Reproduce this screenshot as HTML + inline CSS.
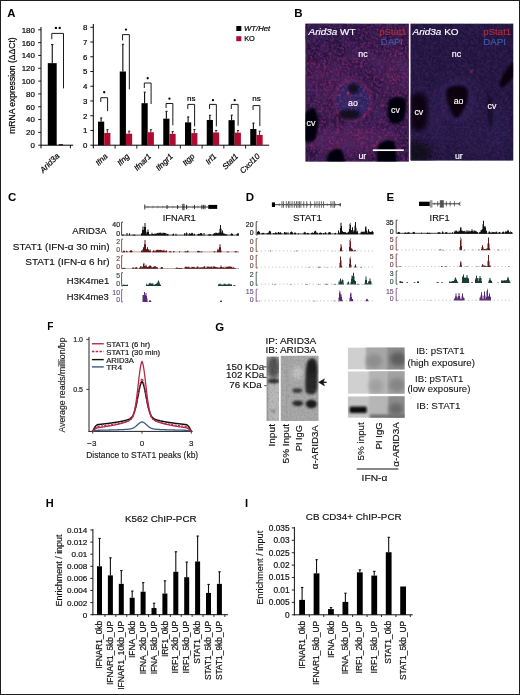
<!DOCTYPE html>
<html><head><meta charset="utf-8"><style>
html,body{margin:0;padding:0;background:#fff;width:520px;height:695px;overflow:hidden;font-family:"Liberation Sans",sans-serif;}
#fig{position:relative;width:520px;height:695px;overflow:hidden;box-sizing:border-box;border:1px solid #1e1e1e;background:#fff;}
#fig svg{position:absolute;left:-1px;top:-1px;filter:blur(0.4px);}
</style></head><body><div id="fig">
<svg width="520" height="695" viewBox="0 0 520 695" font-family="'Liberation Sans', sans-serif">
<text x="7.20" y="16.80" font-size="11.4" text-anchor="start" fill="#000" font-weight="bold">A</text>
<line x1="41.00" y1="27.00" x2="41.00" y2="148.40" stroke="#000" stroke-width="1" />
<line x1="41.00" y1="145.20" x2="73.20" y2="145.20" stroke="#000" stroke-width="1" />
<line x1="38.20" y1="145.20" x2="41.00" y2="145.20" stroke="#000" stroke-width="0.9" />
<text x="34.90" y="148.10" font-size="7.9" text-anchor="end" fill="#000"  stroke="#000" stroke-width="0.2">0</text>
<line x1="38.20" y1="132.38" x2="41.00" y2="132.38" stroke="#000" stroke-width="0.9" />
<text x="34.90" y="135.28" font-size="7.9" text-anchor="end" fill="#000"  stroke="#000" stroke-width="0.2">20</text>
<line x1="38.20" y1="119.56" x2="41.00" y2="119.56" stroke="#000" stroke-width="0.9" />
<text x="34.90" y="122.46" font-size="7.9" text-anchor="end" fill="#000"  stroke="#000" stroke-width="0.2">40</text>
<line x1="38.20" y1="106.74" x2="41.00" y2="106.74" stroke="#000" stroke-width="0.9" />
<text x="34.90" y="109.64" font-size="7.9" text-anchor="end" fill="#000"  stroke="#000" stroke-width="0.2">60</text>
<line x1="38.20" y1="93.92" x2="41.00" y2="93.92" stroke="#000" stroke-width="0.9" />
<text x="34.90" y="96.82" font-size="7.9" text-anchor="end" fill="#000"  stroke="#000" stroke-width="0.2">80</text>
<line x1="38.20" y1="81.10" x2="41.00" y2="81.10" stroke="#000" stroke-width="0.9" />
<text x="34.90" y="84.00" font-size="7.9" text-anchor="end" fill="#000"  stroke="#000" stroke-width="0.2">100</text>
<line x1="38.20" y1="68.28" x2="41.00" y2="68.28" stroke="#000" stroke-width="0.9" />
<text x="34.90" y="71.18" font-size="7.9" text-anchor="end" fill="#000"  stroke="#000" stroke-width="0.2">120</text>
<line x1="38.20" y1="55.46" x2="41.00" y2="55.46" stroke="#000" stroke-width="0.9" />
<text x="34.90" y="58.36" font-size="7.9" text-anchor="end" fill="#000"  stroke="#000" stroke-width="0.2">140</text>
<line x1="38.20" y1="42.64" x2="41.00" y2="42.64" stroke="#000" stroke-width="0.9" />
<text x="34.90" y="45.54" font-size="7.9" text-anchor="end" fill="#000"  stroke="#000" stroke-width="0.2">160</text>
<line x1="38.20" y1="29.82" x2="41.00" y2="29.82" stroke="#000" stroke-width="0.9" />
<text x="34.90" y="32.72" font-size="7.9" text-anchor="end" fill="#000"  stroke="#000" stroke-width="0.2">180</text>
<line x1="70.40" y1="145.20" x2="70.40" y2="148.40" stroke="#000" stroke-width="0.9" />
<rect x="47.80" y="63.15" width="8.90" height="82.05" fill="#000" />
<line x1="52.25" y1="63.15" x2="52.25" y2="44.56" stroke="#000" stroke-width="1.05" />
<line x1="51.10" y1="44.56" x2="53.50" y2="44.56" stroke="#000" stroke-width="0.9" />
<rect x="58.7" y="144.1" width="4.4" height="1.3" rx="0.6" fill="#3a1a1e"/>
<path d="M51.8 39.2 V33.4 H63.5 V88.4" fill="none" stroke="#000" stroke-width="0.9"/>
<circle cx="55.9" cy="27.9" r="1.2" fill="#000"/><circle cx="59.7" cy="27.9" r="1.2" fill="#000"/>
<text transform="translate(59.9,156.6) rotate(-45)" font-size="8.2" font-style="italic" text-anchor="end" stroke="#000" stroke-width="0.2">Arid3a</text>
<text transform="translate(15.4,85.6) rotate(-90)" font-size="8.2" text-anchor="middle" textLength="96.5" lengthAdjust="spacingAndGlyphs" stroke="#000" stroke-width="0.2">mRNA expression (ΔΔCt)</text>
<line x1="93.30" y1="24.00" x2="93.30" y2="148.40" stroke="#000" stroke-width="1" />
<line x1="93.30" y1="145.20" x2="269.20" y2="145.20" stroke="#000" stroke-width="1" />
<line x1="90.30" y1="145.20" x2="93.30" y2="145.20" stroke="#000" stroke-width="0.9" />
<text x="87.40" y="148.10" font-size="7.9" text-anchor="end" fill="#000"  stroke="#000" stroke-width="0.2">0</text>
<line x1="90.30" y1="130.46" x2="93.30" y2="130.46" stroke="#000" stroke-width="0.9" />
<text x="87.40" y="133.36" font-size="7.9" text-anchor="end" fill="#000"  stroke="#000" stroke-width="0.2">1</text>
<line x1="90.30" y1="115.72" x2="93.30" y2="115.72" stroke="#000" stroke-width="0.9" />
<text x="87.40" y="118.62" font-size="7.9" text-anchor="end" fill="#000"  stroke="#000" stroke-width="0.2">2</text>
<line x1="90.30" y1="100.98" x2="93.30" y2="100.98" stroke="#000" stroke-width="0.9" />
<text x="87.40" y="103.88" font-size="7.9" text-anchor="end" fill="#000"  stroke="#000" stroke-width="0.2">3</text>
<line x1="90.30" y1="86.24" x2="93.30" y2="86.24" stroke="#000" stroke-width="0.9" />
<text x="87.40" y="89.14" font-size="7.9" text-anchor="end" fill="#000"  stroke="#000" stroke-width="0.2">4</text>
<line x1="90.30" y1="71.50" x2="93.30" y2="71.50" stroke="#000" stroke-width="0.9" />
<text x="87.40" y="74.40" font-size="7.9" text-anchor="end" fill="#000"  stroke="#000" stroke-width="0.2">5</text>
<line x1="90.30" y1="56.76" x2="93.30" y2="56.76" stroke="#000" stroke-width="0.9" />
<text x="87.40" y="59.66" font-size="7.9" text-anchor="end" fill="#000"  stroke="#000" stroke-width="0.2">6</text>
<line x1="90.30" y1="42.02" x2="93.30" y2="42.02" stroke="#000" stroke-width="0.9" />
<text x="87.40" y="44.92" font-size="7.9" text-anchor="end" fill="#000"  stroke="#000" stroke-width="0.2">7</text>
<line x1="90.30" y1="27.28" x2="93.30" y2="27.28" stroke="#000" stroke-width="0.9" />
<text x="87.40" y="30.18" font-size="7.9" text-anchor="end" fill="#000"  stroke="#000" stroke-width="0.2">8</text>
<rect x="98.00" y="121.62" width="6.20" height="23.58" fill="#000" />
<rect x="104.20" y="132.97" width="6.20" height="12.23" fill="#b00a2e" />
<line x1="101.10" y1="121.62" x2="101.10" y2="117.93" stroke="#000" stroke-width="1.05" />
<line x1="100.20" y1="117.93" x2="102.40" y2="117.93" stroke="#000" stroke-width="0.9" />
<line x1="107.30" y1="132.97" x2="107.30" y2="129.72" stroke="#300" stroke-width="0.9" />
<line x1="106.40" y1="129.72" x2="108.60" y2="129.72" stroke="#300" stroke-width="0.9" />
<path d="M100.80 102 V97.7 H107.60 V111.2" fill="none" stroke="#000" stroke-width="0.9"/>
<circle cx="104.20" cy="92.25" r="1.15" fill="#000"/>
<line x1="115.10" y1="145.20" x2="115.10" y2="148.60" stroke="#000" stroke-width="0.9" />
<text transform="translate(108.10,156.8) rotate(-45)" font-size="8.0" font-style="italic" text-anchor="end" stroke="#000" stroke-width="0.2">Ifna</text>
<rect x="119.75" y="71.50" width="6.20" height="73.70" fill="#000" />
<rect x="125.95" y="133.70" width="6.20" height="11.50" fill="#b00a2e" />
<line x1="122.85" y1="71.50" x2="122.85" y2="44.23" stroke="#000" stroke-width="1.05" />
<line x1="121.95" y1="44.23" x2="124.15" y2="44.23" stroke="#000" stroke-width="0.9" />
<line x1="129.05" y1="133.70" x2="129.05" y2="131.20" stroke="#300" stroke-width="0.9" />
<line x1="128.15" y1="131.20" x2="130.35" y2="131.20" stroke="#300" stroke-width="0.9" />
<path d="M122.55 40.4 V34.6 H129.35 V89.4" fill="none" stroke="#000" stroke-width="0.9"/>
<circle cx="125.95" cy="29.55" r="1.15" fill="#000"/>
<line x1="136.85" y1="145.20" x2="136.85" y2="148.60" stroke="#000" stroke-width="0.9" />
<text transform="translate(129.85,156.8) rotate(-45)" font-size="8.0" font-style="italic" text-anchor="end" stroke="#000" stroke-width="0.2">Ifng</text>
<rect x="141.50" y="103.19" width="6.20" height="42.01" fill="#000" />
<rect x="147.70" y="132.23" width="6.20" height="12.97" fill="#b00a2e" />
<line x1="144.60" y1="103.19" x2="144.60" y2="92.14" stroke="#000" stroke-width="1.05" />
<line x1="143.70" y1="92.14" x2="145.90" y2="92.14" stroke="#000" stroke-width="0.9" />
<line x1="150.80" y1="132.23" x2="150.80" y2="129.72" stroke="#300" stroke-width="0.9" />
<line x1="149.90" y1="129.72" x2="152.10" y2="129.72" stroke="#300" stroke-width="0.9" />
<path d="M144.30 88 V83 H151.10 V104" fill="none" stroke="#000" stroke-width="0.9"/>
<circle cx="147.70" cy="78.25" r="1.15" fill="#000"/>
<line x1="158.60" y1="145.20" x2="158.60" y2="148.60" stroke="#000" stroke-width="0.9" />
<text transform="translate(151.60,156.8) rotate(-45)" font-size="8.0" font-style="italic" text-anchor="end" stroke="#000" stroke-width="0.2">Ifnar1</text>
<rect x="163.25" y="118.67" width="6.20" height="26.53" fill="#000" />
<rect x="169.45" y="133.85" width="6.20" height="11.35" fill="#b00a2e" />
<line x1="166.35" y1="118.67" x2="166.35" y2="111.30" stroke="#000" stroke-width="1.05" />
<line x1="165.45" y1="111.30" x2="167.65" y2="111.30" stroke="#000" stroke-width="0.9" />
<line x1="172.55" y1="133.85" x2="172.55" y2="131.64" stroke="#300" stroke-width="0.9" />
<line x1="171.65" y1="131.64" x2="173.85" y2="131.64" stroke="#300" stroke-width="0.9" />
<path d="M166.05 108 V103.5 H172.85 V125.3" fill="none" stroke="#000" stroke-width="0.9"/>
<circle cx="169.45" cy="98.65" r="1.15" fill="#000"/>
<line x1="180.35" y1="145.20" x2="180.35" y2="148.60" stroke="#000" stroke-width="0.9" />
<text transform="translate(173.35,156.8) rotate(-45)" font-size="8.0" font-style="italic" text-anchor="end" stroke="#000" stroke-width="0.2">Ifngr1</text>
<rect x="185.00" y="122.35" width="6.20" height="22.85" fill="#000" />
<rect x="191.20" y="133.11" width="6.20" height="12.09" fill="#b00a2e" />
<line x1="188.10" y1="122.35" x2="188.10" y2="116.90" stroke="#000" stroke-width="1.05" />
<line x1="187.20" y1="116.90" x2="189.40" y2="116.90" stroke="#000" stroke-width="0.9" />
<line x1="194.30" y1="133.11" x2="194.30" y2="129.58" stroke="#300" stroke-width="0.9" />
<line x1="193.40" y1="129.58" x2="195.60" y2="129.58" stroke="#300" stroke-width="0.9" />
<path d="M187.80 109 V104.4 H194.60 V126.3" fill="none" stroke="#000" stroke-width="0.9"/>
<text x="191.20" y="100.70" font-size="8.0" text-anchor="middle" fill="#000"  stroke="#000" stroke-width="0.2">ns</text>
<line x1="202.10" y1="145.20" x2="202.10" y2="148.60" stroke="#000" stroke-width="0.9" />
<text transform="translate(195.10,156.8) rotate(-45)" font-size="8.0" font-style="italic" text-anchor="end" stroke="#000" stroke-width="0.2">Itgp</text>
<rect x="206.75" y="119.99" width="6.20" height="25.21" fill="#000" />
<rect x="212.95" y="132.52" width="6.20" height="12.68" fill="#b00a2e" />
<line x1="209.85" y1="119.99" x2="209.85" y2="115.28" stroke="#000" stroke-width="1.05" />
<line x1="208.95" y1="115.28" x2="211.15" y2="115.28" stroke="#000" stroke-width="0.9" />
<line x1="216.05" y1="132.52" x2="216.05" y2="130.46" stroke="#300" stroke-width="0.9" />
<line x1="215.15" y1="130.46" x2="217.35" y2="130.46" stroke="#300" stroke-width="0.9" />
<path d="M209.55 109 V104.4 H216.35 V126.3" fill="none" stroke="#000" stroke-width="0.9"/>
<circle cx="212.95" cy="100.15" r="1.15" fill="#000"/>
<line x1="223.85" y1="145.20" x2="223.85" y2="148.60" stroke="#000" stroke-width="0.9" />
<text transform="translate(216.85,156.8) rotate(-45)" font-size="8.0" font-style="italic" text-anchor="end" stroke="#000" stroke-width="0.2">Irf1</text>
<rect x="228.50" y="120.14" width="6.20" height="25.06" fill="#000" />
<rect x="234.70" y="132.67" width="6.20" height="12.53" fill="#b00a2e" />
<line x1="231.60" y1="120.14" x2="231.60" y2="115.13" stroke="#000" stroke-width="1.05" />
<line x1="230.70" y1="115.13" x2="232.90" y2="115.13" stroke="#000" stroke-width="0.9" />
<line x1="237.80" y1="132.67" x2="237.80" y2="130.46" stroke="#300" stroke-width="0.9" />
<line x1="236.90" y1="130.46" x2="239.10" y2="130.46" stroke="#300" stroke-width="0.9" />
<path d="M231.30 109 V104.4 H238.10 V125.7" fill="none" stroke="#000" stroke-width="0.9"/>
<circle cx="234.70" cy="100.15" r="1.15" fill="#000"/>
<line x1="245.60" y1="145.20" x2="245.60" y2="148.60" stroke="#000" stroke-width="0.9" />
<text transform="translate(238.60,156.8) rotate(-45)" font-size="8.0" font-style="italic" text-anchor="end" stroke="#000" stroke-width="0.2">Stat1</text>
<rect x="250.25" y="128.99" width="6.20" height="16.21" fill="#000" />
<rect x="256.45" y="134.88" width="6.20" height="10.32" fill="#b00a2e" />
<line x1="253.35" y1="128.99" x2="253.35" y2="123.09" stroke="#000" stroke-width="1.05" />
<line x1="252.45" y1="123.09" x2="254.65" y2="123.09" stroke="#000" stroke-width="0.9" />
<line x1="259.55" y1="134.88" x2="259.55" y2="131.20" stroke="#300" stroke-width="0.9" />
<line x1="258.65" y1="131.20" x2="260.85" y2="131.20" stroke="#300" stroke-width="0.9" />
<path d="M253.05 110 V105.6 H259.85 V126.1" fill="none" stroke="#000" stroke-width="0.9"/>
<text x="256.45" y="100.70" font-size="8.0" text-anchor="middle" fill="#000"  stroke="#000" stroke-width="0.2">ns</text>
<text transform="translate(260.35,156.8) rotate(-45)" font-size="8.0" font-style="italic" text-anchor="end" stroke="#000" stroke-width="0.2">Cxcl10</text>
<rect x="236.30" y="26.00" width="5.00" height="5.00" fill="#000" />
<text x="244.00" y="30.80" font-size="7.4" text-anchor="start" fill="#000" font-style="italic" textLength="26.2" lengthAdjust="spacingAndGlyphs" stroke="#000" stroke-width="0.2">WT/Het</text>
<rect x="236.30" y="36.20" width="5.00" height="5.00" fill="#b00a2e" />
<text x="244.20" y="41.00" font-size="7.4" text-anchor="start" fill="#000"  stroke="#000" stroke-width="0.2">KO</text>
<defs>
<filter id="spk" x="0" y="0" width="100%" height="100%">
<feTurbulence type="fractalNoise" baseFrequency="0.38" numOctaves="2" seed="3" result="n"/>
<feColorMatrix in="n" type="matrix" values="0 0 0 0 0.66  0 0 0 0 0.07  0 0 0 0 0.36  3.4 0 0 0 -1.45" result="r"/>
<feGaussianBlur in="r" stdDeviation="0.45" result="rb"/><feComposite in="rb" in2="SourceGraphic" operator="in"/>
</filter>
<filter id="spkb" x="0" y="0" width="100%" height="100%">
<feTurbulence type="fractalNoise" baseFrequency="0.55" numOctaves="2" seed="11" result="n"/>
<feColorMatrix in="n" type="matrix" values="0 0 0 0 0.24  0 0 0 0 0.14  0 0 0 0 0.62  0 2.4 0 0 -1.0" result="r"/>
<feGaussianBlur in="r" stdDeviation="0.45" result="rb"/><feComposite in="rb" in2="SourceGraphic" operator="in"/>
</filter>
<filter id="spkd" x="0" y="0" width="100%" height="100%">
<feTurbulence type="fractalNoise" baseFrequency="0.22" numOctaves="2" seed="17" result="n"/>
<feColorMatrix in="n" type="matrix" values="0 0 0 0 0.05  0 0 0 0 0.03  0 0 0 0 0.12  0 0 2.6 0 -1.1" result="r"/>
<feGaussianBlur in="r" stdDeviation="0.45" result="rb"/><feComposite in="rb" in2="SourceGraphic" operator="in"/>
</filter>
<filter id="mot" x="0" y="0" width="100%" height="100%">
<feTurbulence type="fractalNoise" baseFrequency="0.07" numOctaves="2" seed="23" result="n"/>
<feColorMatrix in="n" type="matrix" values="0 0 0 0 0.1  0 0 0 0 0.03  0 0 0 0 0.2  0 0 2.8 0 -1.2" result="r"/>
<feComposite in="r" in2="SourceGraphic" operator="in"/></filter>
<filter id="blr1" x="-30%" y="-30%" width="160%" height="160%"><feGaussianBlur stdDeviation="0.9"/></filter>
<filter id="blr2" x="-30%" y="-30%" width="160%" height="160%"><feGaussianBlur stdDeviation="2"/></filter>
<filter id="blr3" x="-50%" y="-50%" width="200%" height="200%"><feGaussianBlur stdDeviation="5"/></filter>
<clipPath id="cwt"><rect x="305.5" y="23.8" width="103.3" height="137.6"/></clipPath>
<clipPath id="cko"><rect x="410.6" y="23.8" width="102.6" height="136.8"/></clipPath>
</defs>
<g clip-path="url(#cwt)">
<rect x="305.00" y="23.00" width="105.00" height="140.00" fill="#2e1248" />
<ellipse cx="322" cy="30" rx="30" ry="14" fill="#22164a" opacity="0.8" filter="url(#blr3)"/>
<ellipse cx="330" cy="78" rx="24" ry="18" fill="#5a1f5e" opacity="0.7" filter="url(#blr3)"/>
<ellipse cx="396" cy="72" rx="16" ry="24" fill="#5c2062" opacity="0.7" filter="url(#blr3)"/>
<ellipse cx="365" cy="58" rx="18" ry="12" fill="#4a1e5e" opacity="0.6" filter="url(#blr3)"/>
<ellipse cx="352" cy="139" rx="48" ry="13" fill="#6e2870" opacity="0.75" filter="url(#blr3)"/>
<ellipse cx="322" cy="104" rx="10" ry="14" fill="#5a2366" opacity="0.6" filter="url(#blr3)"/>
<ellipse cx="378" cy="104" rx="8" ry="16" fill="#4a2466" opacity="0.6" filter="url(#blr3)"/>
<ellipse cx="352.6" cy="100.5" rx="18" ry="20" fill="none" stroke="#8c2a6c" stroke-width="3.2" opacity="0.8" filter="url(#blr1)"/>
<ellipse cx="352.6" cy="100.5" rx="16.5" ry="18.5" fill="#2c2876"/>
<rect x="305.00" y="23.00" width="105.00" height="140.00" fill="#fff" filter="url(#spk)" opacity="0.42"/>
<rect x="305.00" y="23.00" width="105.00" height="140.00" fill="#fff" filter="url(#spkb)" opacity="0.22"/>
<rect x="305.00" y="23.00" width="105.00" height="140.00" fill="#fff" filter="url(#spkd)" opacity="0.6"/>
<rect x="305.00" y="23.00" width="105.00" height="140.00" fill="#fff" filter="url(#mot)" opacity="0.5"/>
<rect x="305.00" y="23.00" width="105.00" height="140.00" fill="#000" opacity="0.16"/>
<g filter="url(#blr1)"><circle cx="371.2" cy="43.0" r="0.77" fill="#c8305a" opacity="0.44"/><circle cx="381.1" cy="121.2" r="1.14" fill="#c8305a" opacity="0.38"/><circle cx="349.0" cy="43.6" r="0.73" fill="#c8305a" opacity="0.55"/><circle cx="308.7" cy="63.9" r="0.99" fill="#c8305a" opacity="0.57"/><circle cx="328.5" cy="110.7" r="1.09" fill="#c8305a" opacity="0.35"/><circle cx="388.2" cy="123.8" r="0.80" fill="#c8305a" opacity="0.41"/><circle cx="403.6" cy="80.4" r="0.66" fill="#c8305a" opacity="0.39"/><circle cx="392.4" cy="112.4" r="1.08" fill="#c8305a" opacity="0.64"/><circle cx="360.7" cy="156.8" r="0.83" fill="#c8305a" opacity="0.57"/><circle cx="390.6" cy="114.2" r="1.12" fill="#c8305a" opacity="0.58"/><circle cx="377.9" cy="45.5" r="0.74" fill="#c8305a" opacity="0.47"/><circle cx="314.1" cy="67.9" r="0.66" fill="#c8305a" opacity="0.46"/><circle cx="370.8" cy="83.8" r="0.82" fill="#c8305a" opacity="0.43"/><circle cx="333.2" cy="152.4" r="0.99" fill="#c8305a" opacity="0.59"/><circle cx="323.5" cy="127.5" r="0.70" fill="#c8305a" opacity="0.50"/><circle cx="406.9" cy="116.8" r="0.93" fill="#c8305a" opacity="0.62"/><circle cx="392.0" cy="133.1" r="0.74" fill="#c8305a" opacity="0.36"/><circle cx="338.2" cy="72.1" r="0.73" fill="#c8305a" opacity="0.73"/><circle cx="395.4" cy="77.8" r="0.99" fill="#c8305a" opacity="0.51"/><circle cx="399.3" cy="95.1" r="0.76" fill="#c8305a" opacity="0.45"/><circle cx="363.3" cy="71.5" r="0.95" fill="#c8305a" opacity="0.71"/><circle cx="346.7" cy="66.3" r="1.20" fill="#c8305a" opacity="0.55"/><circle cx="315.3" cy="45.7" r="0.67" fill="#c8305a" opacity="0.60"/><circle cx="386.8" cy="90.7" r="0.64" fill="#c8305a" opacity="0.50"/><circle cx="407.6" cy="103.5" r="1.18" fill="#c8305a" opacity="0.69"/><circle cx="307.2" cy="126.5" r="1.01" fill="#c8305a" opacity="0.56"/><circle cx="333.2" cy="116.9" r="0.67" fill="#c8305a" opacity="0.52"/><circle cx="352.3" cy="154.5" r="1.13" fill="#c8305a" opacity="0.46"/><circle cx="357.1" cy="61.4" r="1.15" fill="#c8305a" opacity="0.70"/><circle cx="336.4" cy="116.7" r="0.97" fill="#c8305a" opacity="0.41"/><circle cx="383.8" cy="104.7" r="1.07" fill="#c8305a" opacity="0.56"/><circle cx="306.1" cy="78.9" r="0.61" fill="#c8305a" opacity="0.72"/><circle cx="395.6" cy="139.8" r="0.78" fill="#c8305a" opacity="0.37"/><circle cx="395.6" cy="153.6" r="0.65" fill="#c8305a" opacity="0.54"/><circle cx="313.1" cy="131.3" r="1.06" fill="#c8305a" opacity="0.40"/><circle cx="333.0" cy="144.7" r="0.85" fill="#c8305a" opacity="0.43"/><circle cx="361.0" cy="127.6" r="0.72" fill="#c8305a" opacity="0.47"/><circle cx="407.5" cy="118.0" r="0.86" fill="#c8305a" opacity="0.56"/><circle cx="318.3" cy="67.0" r="0.80" fill="#c8305a" opacity="0.59"/><circle cx="329.5" cy="66.4" r="0.64" fill="#c8305a" opacity="0.60"/><circle cx="329.4" cy="148.7" r="1.12" fill="#c8305a" opacity="0.38"/><circle cx="330.3" cy="120.3" r="0.73" fill="#c8305a" opacity="0.40"/><circle cx="401.4" cy="108.5" r="0.88" fill="#c8305a" opacity="0.66"/><circle cx="388.4" cy="62.8" r="0.66" fill="#c8305a" opacity="0.52"/><circle cx="380.4" cy="120.8" r="1.19" fill="#c8305a" opacity="0.39"/><circle cx="347.1" cy="80.7" r="1.12" fill="#c8305a" opacity="0.45"/><circle cx="325.4" cy="93.8" r="0.85" fill="#c8305a" opacity="0.46"/><circle cx="331.5" cy="150.8" r="0.87" fill="#c8305a" opacity="0.69"/><circle cx="362.1" cy="46.1" r="1.20" fill="#c8305a" opacity="0.68"/><circle cx="404.8" cy="151.2" r="1.11" fill="#c8305a" opacity="0.42"/><circle cx="355.5" cy="65.6" r="0.84" fill="#c8305a" opacity="0.37"/><circle cx="344.7" cy="158.2" r="0.76" fill="#c8305a" opacity="0.66"/><circle cx="403.6" cy="159.5" r="0.93" fill="#c8305a" opacity="0.64"/><circle cx="321.8" cy="75.6" r="1.18" fill="#c8305a" opacity="0.58"/><circle cx="361.3" cy="129.8" r="0.63" fill="#c8305a" opacity="0.58"/><circle cx="357.3" cy="142.3" r="0.69" fill="#c8305a" opacity="0.73"/><circle cx="314.2" cy="62.3" r="0.96" fill="#c8305a" opacity="0.62"/><circle cx="330.0" cy="54.4" r="1.13" fill="#c8305a" opacity="0.45"/><circle cx="366.6" cy="114.3" r="0.85" fill="#c8305a" opacity="0.58"/><circle cx="359.3" cy="152.2" r="0.72" fill="#c8305a" opacity="0.64"/><circle cx="330.3" cy="87.5" r="1.00" fill="#c8305a" opacity="0.47"/><circle cx="338.3" cy="130.2" r="0.64" fill="#c8305a" opacity="0.53"/><circle cx="407.8" cy="159.5" r="0.64" fill="#c8305a" opacity="0.44"/><circle cx="333.1" cy="152.0" r="1.13" fill="#c8305a" opacity="0.70"/><circle cx="343.7" cy="58.9" r="1.10" fill="#c8305a" opacity="0.63"/><circle cx="368.4" cy="158.5" r="0.99" fill="#c8305a" opacity="0.35"/><circle cx="389.3" cy="75.9" r="1.00" fill="#c8305a" opacity="0.73"/><circle cx="319.7" cy="53.9" r="0.66" fill="#c8305a" opacity="0.57"/><circle cx="333.8" cy="112.6" r="1.03" fill="#c8305a" opacity="0.43"/><circle cx="370.7" cy="71.7" r="0.89" fill="#c8305a" opacity="0.71"/><circle cx="392.3" cy="51.1" r="0.85" fill="#c8305a" opacity="0.46"/><circle cx="306.4" cy="132.5" r="0.98" fill="#c8305a" opacity="0.45"/><circle cx="381.6" cy="106.2" r="0.86" fill="#c8305a" opacity="0.35"/><circle cx="313.7" cy="146.0" r="1.14" fill="#c8305a" opacity="0.57"/><circle cx="391.1" cy="109.9" r="0.69" fill="#c8305a" opacity="0.40"/><circle cx="337.4" cy="147.9" r="1.08" fill="#c8305a" opacity="0.69"/><circle cx="397.7" cy="65.2" r="0.75" fill="#c8305a" opacity="0.39"/><circle cx="385.6" cy="146.1" r="0.84" fill="#c8305a" opacity="0.60"/><circle cx="321.8" cy="151.6" r="1.12" fill="#c8305a" opacity="0.74"/><circle cx="388.7" cy="145.8" r="0.61" fill="#c8305a" opacity="0.64"/><circle cx="339.9" cy="151.7" r="1.08" fill="#c8305a" opacity="0.70"/><circle cx="388.7" cy="72.0" r="1.07" fill="#c8305a" opacity="0.39"/><circle cx="395.0" cy="143.0" r="0.73" fill="#c8305a" opacity="0.68"/><circle cx="353.0" cy="76.6" r="1.08" fill="#c8305a" opacity="0.44"/><circle cx="308.4" cy="63.2" r="0.80" fill="#c8305a" opacity="0.70"/><circle cx="404.6" cy="73.5" r="0.98" fill="#c8305a" opacity="0.51"/><circle cx="406.1" cy="104.3" r="1.16" fill="#c8305a" opacity="0.40"/></g>
<ellipse cx="353.5" cy="88.5" rx="5.5" ry="5" fill="#0a0818" opacity="0.85" filter="url(#blr1)"/>
<ellipse cx="349.5" cy="114.5" rx="11" ry="4.8" fill="#0a0818" opacity="0.88" filter="url(#blr1)"/>
<circle cx="348" cy="93" r="1.4" fill="#c03050" opacity="0.8"/>
<circle cx="339" cy="95" r="1.1" fill="#c03050" opacity="0.7"/>
<path d="M304 114 C308 111 311 108 314 108 C317 112 319 118 318 125 C317 131 317 137 314 141 C310 142 306 142 304 141Z" fill="#050308" filter="url(#blr1)"/>
<path d="M389 100 C393 97 400 96 405 99 C407 104 406 112 404 118 C401 124 395 125 391 122 C387 117 387 108 389 100Z" fill="#050308" filter="url(#blr1)"/>
<path d="M328 154 C331 150 336 148 340 149 C343 151 344 156 345 163 L327 163Z" fill="#050308" filter="url(#blr1)"/>
<path d="M378 146 C381 141 389 139 394 141 C396 146 396 154 397 163 L377 163 C377 157 377 151 378 146Z" fill="#050308" filter="url(#blr1)"/>
</g>
<g clip-path="url(#cko)">
<rect x="410.00" y="23.00" width="105.00" height="140.00" fill="#1f1547" />
<ellipse cx="430" cy="130" rx="22" ry="20" fill="#2c1b56" opacity="0.7" filter="url(#blr3)"/>
<ellipse cx="480" cy="130" rx="28" ry="26" fill="#2a1a54" opacity="0.7" filter="url(#blr3)"/>
<ellipse cx="460" cy="95" rx="22" ry="25" fill="#2a1a56" opacity="0.6" filter="url(#blr3)"/>
<ellipse cx="457" cy="101" rx="15" ry="19" fill="none" stroke="#3e2872" stroke-width="4" opacity="0.7" filter="url(#blr2)"/>
<ellipse cx="437" cy="112" rx="7" ry="26" fill="#30205f" opacity="0.7" filter="url(#blr3)"/>
<ellipse cx="419" cy="112" rx="11" ry="24" fill="none" stroke="#34226a" stroke-width="3" opacity="0.6" filter="url(#blr2)"/>
<ellipse cx="500" cy="128" rx="9" ry="30" fill="#2c1c5c" opacity="0.6" filter="url(#blr3)"/>
<ellipse cx="418" cy="152" rx="14" ry="12" fill="#0c0818" opacity="0.55" filter="url(#blr3)"/>
<rect x="410.00" y="23.00" width="105.00" height="140.00" fill="#fff" filter="url(#spk)" opacity="0.16"/>
<rect x="410.00" y="23.00" width="105.00" height="140.00" fill="#fff" filter="url(#spkb)" opacity="0.16"/>
<rect x="410.00" y="23.00" width="105.00" height="140.00" fill="#fff" filter="url(#spkd)" opacity="0.5"/>
<rect x="410.00" y="23.00" width="105.00" height="140.00" fill="#140e24" opacity="0.28"/>
<path d="M411 96 C414 93 420 92 425 95 C428 102 428 112 427 122 C426 128 423 131 418 131 C414 130 411 128 411 124Z" fill="#08050f" opacity="0.9" filter="url(#blr2)"/>
<path d="M447 89 C452 85 462 85 467 88 C469 95 467 104 463 110 C460 116 457 118 455 118 C452 114 449 106 447 99 C446 95 446 92 447 89Z" fill="#08050f" opacity="0.95" filter="url(#blr1)"/>
<path d="M514 62 L514 76 C511 80 507 84 503 87 C500 88 499 85 500 82 C502 76 506 70 510 65 Z" fill="#08050f" filter="url(#blr1)"/>
<path d="M489 96 C491 98 492 103 491 108 C491 113 493 120 492 127 C490 128 489 122 488.5 116 C488 109 488 101 489 96Z" fill="#0a0714" opacity="0.85" filter="url(#blr1)"/>
<path d="M411 144 C416 142 424 143 429 147 L429 161 L411 161Z" fill="#0c0818" opacity="0.7" filter="url(#blr2)"/>
<circle cx="471.4" cy="71.4" r="1.3" fill="#c03050" opacity="0.8" filter="url(#blr1)"/>
</g>
<text x="308.6" y="34.5" font-size="8.8" fill="#fff" textLength="47.0" lengthAdjust="spacingAndGlyphs" stroke="#fff" stroke-width="0.15"><tspan font-style="italic">Arid3a</tspan> WT</text>
<text x="379.3" y="34.5" font-size="8.8" fill="#b82a3a" textLength="27.3" lengthAdjust="spacingAndGlyphs" stroke="#b82a3a" stroke-width="0.15">pStat1</text>
<text x="380.8" y="44.8" font-size="8.8" fill="#3f5cac" textLength="22.2" lengthAdjust="spacingAndGlyphs" stroke="#3f5cac" stroke-width="0.15">DAPI</text>
<text x="412.5" y="34.5" font-size="8.8" fill="#fff" textLength="46.1" lengthAdjust="spacingAndGlyphs" stroke="#fff" stroke-width="0.15"><tspan font-style="italic">Arid3a</tspan> KO</text>
<text x="483.3" y="34.5" font-size="8.8" fill="#b82a3a" textLength="27.9" lengthAdjust="spacingAndGlyphs" stroke="#b82a3a" stroke-width="0.15">pStat1</text>
<text x="483.3" y="44.8" font-size="8.8" fill="#3f5cac" textLength="22.7" lengthAdjust="spacingAndGlyphs" stroke="#3f5cac" stroke-width="0.15">DAPI</text>
<text x="363.00" y="57.20" font-size="8.8" text-anchor="middle" fill="#fff"  stroke="#fff" stroke-width="0.15">nc</text>
<text x="353.00" y="106.00" font-size="8.8" text-anchor="middle" fill="#fff"  stroke="#fff" stroke-width="0.15">ao</text>
<text x="311.00" y="125.50" font-size="8.8" text-anchor="middle" fill="#fff"  stroke="#fff" stroke-width="0.15">cv</text>
<text x="395.50" y="112.50" font-size="8.8" text-anchor="middle" fill="#fff"  stroke="#fff" stroke-width="0.15">cv</text>
<text x="362.30" y="159.00" font-size="8.8" text-anchor="middle" fill="#fff"  stroke="#fff" stroke-width="0.15">ur</text>
<text x="456.40" y="57.20" font-size="8.8" text-anchor="middle" fill="#fff"  stroke="#fff" stroke-width="0.15">nc</text>
<text x="458.60" y="103.50" font-size="8.8" text-anchor="middle" fill="#fff"  stroke="#fff" stroke-width="0.15">ao</text>
<text x="418.80" y="115.00" font-size="8.8" text-anchor="middle" fill="#fff"  stroke="#fff" stroke-width="0.15">cv</text>
<text x="492.00" y="109.00" font-size="8.8" text-anchor="middle" fill="#fff"  stroke="#fff" stroke-width="0.15">cv</text>
<text x="458.80" y="159.00" font-size="8.8" text-anchor="middle" fill="#fff"  stroke="#fff" stroke-width="0.15">ur</text>
<line x1="372.80" y1="150.20" x2="403.80" y2="150.20" stroke="#fff" stroke-width="1.7" />
<text x="294.30" y="17.00" font-size="11.5" text-anchor="start" fill="#000" font-weight="bold">B</text>
<text x="72.3" y="233.8" font-size="9.4" fill="#111" textLength="34.3" lengthAdjust="spacingAndGlyphs" stroke="#111" stroke-width="0.15">ARID3A</text>
<text x="12.8" y="249.6" font-size="9.4" fill="#111" textLength="96.8" lengthAdjust="spacingAndGlyphs" stroke="#111" stroke-width="0.15">STAT1 (IFN-α 30 min)</text>
<text x="25.3" y="265.4" font-size="9.4" fill="#111" textLength="84.3" lengthAdjust="spacingAndGlyphs" stroke="#111" stroke-width="0.15">STAT1 (IFN-α 6 hr)</text>
<text x="66.8" y="283.8" font-size="9.4" fill="#111" textLength="42.4" lengthAdjust="spacingAndGlyphs" stroke="#111" stroke-width="0.15">H3K4me1</text>
<text x="66.8" y="300.0" font-size="9.4" fill="#111" textLength="42.0" lengthAdjust="spacingAndGlyphs" stroke="#111" stroke-width="0.15">H3K4me3</text>
<text x="8.00" y="200.60" font-size="11.5" text-anchor="start" fill="#000" font-weight="bold">C</text>
<text x="245.70" y="200.80" font-size="11.5" text-anchor="start" fill="#000" font-weight="bold">D</text>
<text x="386.60" y="200.80" font-size="11.5" text-anchor="start" fill="#000" font-weight="bold">E</text>
<text x="120.00" y="227.30" font-size="6.9" text-anchor="end" fill="#222" stroke="#222" stroke-width="0.2">40</text>
<text x="120.00" y="235.50" font-size="6.9" text-anchor="end" fill="#222" stroke="#222" stroke-width="0.2">0</text>
<path d="M123.00 222.20 H121.60 V235.40 H123.00" fill="none" stroke="#333" stroke-width="0.9"/>
<text x="120.00" y="244.30" font-size="6.9" text-anchor="end" fill="#7a4a48" stroke="#7a4a48" stroke-width="0.2">2</text>
<text x="120.00" y="252.20" font-size="6.9" text-anchor="end" fill="#7a4a48" stroke="#7a4a48" stroke-width="0.2">0</text>
<path d="M123.00 239.20 H121.60 V252.10 H123.00" fill="none" stroke="#7a4a48" stroke-width="0.9"/>
<text x="120.00" y="260.80" font-size="6.9" text-anchor="end" fill="#7a4a48" stroke="#7a4a48" stroke-width="0.2">2</text>
<text x="120.00" y="268.70" font-size="6.9" text-anchor="end" fill="#7a4a48" stroke="#7a4a48" stroke-width="0.2">0</text>
<path d="M123.00 255.70 H121.60 V268.60 H123.00" fill="none" stroke="#7a4a48" stroke-width="0.9"/>
<text x="120.00" y="277.80" font-size="6.9" text-anchor="end" fill="#3e5450" stroke="#3e5450" stroke-width="0.2">5</text>
<text x="120.00" y="286.00" font-size="6.9" text-anchor="end" fill="#3e5450" stroke="#3e5450" stroke-width="0.2">0</text>
<path d="M123.00 272.70 H121.60 V285.90 H123.00" fill="none" stroke="#3e5450" stroke-width="0.9"/>
<text x="120.00" y="294.80" font-size="6.9" text-anchor="end" fill="#7a5888" stroke="#7a5888" stroke-width="0.2">10</text>
<text x="120.00" y="302.00" font-size="6.9" text-anchor="end" fill="#7a5888" stroke="#7a5888" stroke-width="0.2">0</text>
<path d="M123.00 289.70 H121.60 V301.90 H123.00" fill="none" stroke="#7a5888" stroke-width="0.9"/>
<text x="253.50" y="226.80" font-size="6.9" text-anchor="end" fill="#222" stroke="#222" stroke-width="0.2">20</text>
<text x="253.50" y="235.00" font-size="6.9" text-anchor="end" fill="#222" stroke="#222" stroke-width="0.2">0</text>
<path d="M257.60 221.70 H256.20 V234.90 H257.60" fill="none" stroke="#333" stroke-width="0.9"/>
<text x="253.50" y="243.80" font-size="6.9" text-anchor="end" fill="#7a4a48" stroke="#7a4a48" stroke-width="0.2">0</text>
<text x="253.50" y="251.70" font-size="6.9" text-anchor="end" fill="#7a4a48" stroke="#7a4a48" stroke-width="0.2">0</text>
<path d="M257.60 238.70 H256.20 V251.60 H257.60" fill="none" stroke="#7a4a48" stroke-width="0.9"/>
<text x="253.50" y="260.30" font-size="6.9" text-anchor="end" fill="#7a4a48" stroke="#7a4a48" stroke-width="0.2">0</text>
<text x="253.50" y="268.20" font-size="6.9" text-anchor="end" fill="#7a4a48" stroke="#7a4a48" stroke-width="0.2">0</text>
<path d="M257.60 255.20 H256.20 V268.10 H257.60" fill="none" stroke="#7a4a48" stroke-width="0.9"/>
<text x="253.50" y="277.30" font-size="6.9" text-anchor="end" fill="#3e5450" stroke="#3e5450" stroke-width="0.2">2</text>
<text x="253.50" y="285.50" font-size="6.9" text-anchor="end" fill="#3e5450" stroke="#3e5450" stroke-width="0.2">0</text>
<path d="M257.60 272.20 H256.20 V285.40 H257.60" fill="none" stroke="#3e5450" stroke-width="0.9"/>
<text x="253.50" y="294.30" font-size="6.9" text-anchor="end" fill="#7a5888" stroke="#7a5888" stroke-width="0.2">15</text>
<text x="253.50" y="301.50" font-size="6.9" text-anchor="end" fill="#7a5888" stroke="#7a5888" stroke-width="0.2">0</text>
<path d="M257.60 289.20 H256.20 V301.40 H257.60" fill="none" stroke="#7a5888" stroke-width="0.9"/>
<text x="393.60" y="225.30" font-size="6.9" text-anchor="end" fill="#222" stroke="#222" stroke-width="0.2">35</text>
<text x="393.60" y="233.50" font-size="6.9" text-anchor="end" fill="#222" stroke="#222" stroke-width="0.2">0</text>
<path d="M397.60 220.20 H396.20 V233.40 H397.60" fill="none" stroke="#333" stroke-width="0.9"/>
<text x="393.60" y="242.30" font-size="6.9" text-anchor="end" fill="#7a4a48" stroke="#7a4a48" stroke-width="0.2">5</text>
<text x="393.60" y="250.20" font-size="6.9" text-anchor="end" fill="#7a4a48" stroke="#7a4a48" stroke-width="0.2">0</text>
<path d="M397.60 237.20 H396.20 V250.10 H397.60" fill="none" stroke="#7a4a48" stroke-width="0.9"/>
<text x="393.60" y="259.10" font-size="6.9" text-anchor="end" fill="#7a4a48" stroke="#7a4a48" stroke-width="0.2">5</text>
<text x="393.60" y="267.00" font-size="6.9" text-anchor="end" fill="#7a4a48" stroke="#7a4a48" stroke-width="0.2">0</text>
<path d="M397.60 254.00 H396.20 V266.90 H397.60" fill="none" stroke="#7a4a48" stroke-width="0.9"/>
<text x="393.60" y="276.10" font-size="6.9" text-anchor="end" fill="#3e5450" stroke="#3e5450" stroke-width="0.2">3</text>
<text x="393.60" y="284.30" font-size="6.9" text-anchor="end" fill="#3e5450" stroke="#3e5450" stroke-width="0.2">0</text>
<path d="M397.60 271.00 H396.20 V284.20 H397.60" fill="none" stroke="#3e5450" stroke-width="0.9"/>
<text x="393.60" y="293.70" font-size="6.9" text-anchor="end" fill="#7a5888" stroke="#7a5888" stroke-width="0.2">15</text>
<text x="393.60" y="300.90" font-size="6.9" text-anchor="end" fill="#7a5888" stroke="#7a5888" stroke-width="0.2">0</text>
<path d="M397.60 288.60 H396.20 V300.80 H397.60" fill="none" stroke="#7a5888" stroke-width="0.9"/>
<path d="M122.50 235.50 L122.50 234.2 L123.00 234.2 L123.00 234.2 L123.50 234.2 L123.50 235.5 L124.00 235.5 L124.00 235.5 L124.50 235.5 L124.50 235.5 L125.00 235.5 L125.00 235.5 L125.50 235.5 L125.50 235.5 L126.00 235.5 L126.00 235.5 L126.50 235.5 L126.50 233.0 L127.00 233.0 L127.00 233.0 L127.50 233.0 L127.50 235.5 L128.00 235.5 L128.00 235.5 L128.50 235.5 L128.50 235.5 L129.00 235.5 L129.00 233.3 L129.50 233.3 L129.50 233.3 L130.00 233.3 L130.00 235.5 L130.50 235.5 L130.50 235.5 L131.00 235.5 L131.00 235.5 L131.50 235.5 L131.50 235.5 L132.00 235.5 L132.00 235.5 L132.50 235.5 L132.50 234.8 L133.00 234.8 L133.00 234.7 L133.50 234.7 L133.50 234.6 L134.00 234.6 L134.00 234.6 L134.50 234.6 L134.50 234.7 L135.00 234.7 L135.00 234.8 L135.50 234.8 L135.50 235.5 L136.00 235.5 L136.00 235.5 L136.50 235.5 L136.50 235.5 L137.00 235.5 L137.00 235.5 L137.50 235.5 L137.50 235.5 L138.00 235.5 L138.00 235.5 L138.50 235.5 L138.50 235.5 L139.00 235.5 L139.00 235.5 L139.50 235.5 L139.50 235.5 L140.00 235.5 L140.00 235.5 L140.50 235.5 L140.50 235.5 L141.00 235.5 L141.00 233.5 L141.50 233.5 L141.50 233.1 L142.00 233.1 L142.00 230.1 L142.50 230.1 L142.50 226.5 L143.00 226.5 L143.00 226.5 L143.50 226.5 L143.50 230.1 L144.00 230.1 L144.00 227.1 L144.50 227.1 L144.50 223.0 L145.00 223.0 L145.00 223.0 L145.50 223.0 L145.50 227.1 L146.00 227.1 L146.00 231.6 L146.50 231.6 L146.50 233.4 L147.00 233.4 L147.00 231.9 L147.50 231.9 L147.50 229.5 L148.00 229.5 L148.00 229.5 L148.50 229.5 L148.50 231.9 L149.00 231.9 L149.00 234.3 L149.50 234.3 L149.50 234.5 L150.00 234.5 L150.00 234.5 L150.50 234.5 L150.50 234.5 L151.00 234.5 L151.00 234.5 L151.50 234.5 L151.50 232.7 L152.00 232.7 L152.00 232.7 L152.50 232.7 L152.50 233.9 L153.00 233.9 L153.00 233.9 L153.50 233.9 L153.50 234.2 L154.00 234.2 L154.00 234.2 L154.50 234.2 L154.50 233.3 L155.00 233.3 L155.00 233.3 L155.50 233.3 L155.50 234.1 L156.00 234.1 L156.00 233.7 L156.50 233.7 L156.50 233.3 L157.00 233.3 L157.00 233.3 L157.50 233.3 L157.50 232.8 L158.00 232.8 L158.00 232.8 L158.50 232.8 L158.50 233.3 L159.00 233.3 L159.00 233.0 L159.50 233.0 L159.50 232.5 L160.00 232.5 L160.00 232.5 L160.50 232.5 L160.50 232.7 L161.00 232.7 L161.00 232.7 L161.50 232.7 L161.50 233.5 L162.00 233.5 L162.00 233.5 L162.50 233.5 L162.50 232.8 L163.00 232.8 L163.00 232.8 L163.50 232.8 L163.50 232.7 L164.00 232.7 L164.00 232.7 L164.50 232.7 L164.50 232.9 L165.00 232.9 L165.00 232.9 L165.50 232.9 L165.50 233.2 L166.00 233.2 L166.00 233.2 L166.50 233.2 L166.50 234.6 L167.00 234.6 L167.00 234.1 L167.50 234.1 L167.50 233.7 L168.00 233.7 L168.00 234.1 L168.50 234.1 L168.50 235.5 L169.00 235.5 L169.00 235.5 L169.50 235.5 L169.50 235.5 L170.00 235.5 L170.00 235.5 L170.50 235.5 L170.50 235.5 L171.00 235.5 L171.00 235.5 L171.50 235.5 L171.50 235.5 L172.00 235.5 L172.00 235.5 L172.50 235.5 L172.50 233.9 L173.00 233.9 L173.00 233.3 L173.50 233.3 L173.50 233.9 L174.00 233.9 L174.00 235.5 L174.50 235.5 L174.50 235.5 L175.00 235.5 L175.00 235.5 L175.50 235.5 L175.50 233.8 L176.00 233.8 L176.00 233.8 L176.50 233.8 L176.50 235.5 L177.00 235.5 L177.00 235.5 L177.50 235.5 L177.50 235.5 L178.00 235.5 L178.00 235.5 L178.50 235.5 L178.50 235.5 L179.00 235.5 L179.00 235.5 L179.50 235.5 L179.50 235.5 L180.00 235.5 L180.00 235.5 L180.50 235.5 L180.50 235.5 L181.00 235.5 L181.00 235.5 L181.50 235.5 L181.50 235.5 L182.00 235.5 L182.00 235.5 L182.50 235.5 L182.50 235.5 L183.00 235.5 L183.00 235.5 L183.50 235.5 L183.50 235.5 L184.00 235.5 L184.00 233.2 L184.50 233.2 L184.50 233.2 L185.00 233.2 L185.00 235.5 L185.50 235.5 L185.50 233.3 L186.00 233.3 L186.00 232.6 L186.50 232.6 L186.50 232.6 L187.00 232.6 L187.00 233.3 L187.50 233.3 L187.50 235.5 L188.00 235.5 L188.00 235.5 L188.50 235.5 L188.50 233.7 L189.00 233.7 L189.00 233.2 L189.50 233.2 L189.50 233.2 L190.00 233.2 L190.00 233.7 L190.50 233.7 L190.50 233.7 L191.00 233.7 L191.00 233.3 L191.50 233.3 L191.50 232.8 L192.00 232.8 L192.00 232.8 L192.50 232.8 L192.50 233.3 L193.00 233.3 L193.00 233.7 L193.50 233.7 L193.50 235.5 L194.00 235.5 L194.00 233.7 L194.50 233.7 L194.50 233.7 L195.00 233.7 L195.00 235.5 L195.50 235.5 L195.50 235.5 L196.00 235.5 L196.00 235.5 L196.50 235.5 L196.50 235.5 L197.00 235.5 L197.00 235.5 L197.50 235.5 L197.50 234.1 L198.00 234.1 L198.00 233.7 L198.50 233.7 L198.50 233.7 L199.00 233.7 L199.00 234.1 L199.50 234.1 L199.50 233.7 L200.00 233.7 L200.00 233.3 L200.50 233.3 L200.50 232.9 L201.00 232.9 L201.00 232.9 L201.50 232.9 L201.50 233.3 L202.00 233.3 L202.00 233.7 L202.50 233.7 L202.50 235.5 L203.00 235.5 L203.00 235.5 L203.50 235.5 L203.50 233.1 L204.00 233.1 L204.00 233.1 L204.50 233.1 L204.50 235.5 L205.00 235.5 L205.00 235.5 L205.50 235.5 L205.50 235.5 L206.00 235.5 L206.00 235.5 L206.50 235.5 L206.50 235.5 L207.00 235.5 L207.00 235.5 L207.50 235.5 L207.50 235.5 L208.00 235.5 L208.00 234.5 L208.50 234.5 L208.50 234.5 L209.00 234.5 L209.00 234.4 L209.50 234.4 L209.50 234.1 L210.00 234.1 L210.00 234.1 L210.50 234.1 L210.50 234.4 L211.00 234.4 L211.00 235.5 L211.50 235.5 L211.50 234.4 L212.00 234.4 L212.00 234.4 L212.50 234.4 L212.50 235.5 L213.00 235.5 L213.00 234.0 L213.50 234.0 L213.50 233.6 L214.00 233.6 L214.00 233.0 L214.50 233.0 L214.50 233.2 L215.00 233.2 L215.00 233.2 L215.50 233.2 L215.50 232.5 L216.00 232.5 L216.00 232.5 L216.50 232.5 L216.50 233.1 L217.00 233.1 L217.00 233.1 L217.50 233.1 L217.50 233.3 L218.00 233.3 L218.00 233.3 L218.50 233.3 L218.50 232.4 L219.00 232.4 L219.00 232.4 L219.50 232.4 L219.50 228.7 L220.00 228.7 L220.00 225.0 L220.50 225.0 L220.50 225.0 L221.00 225.0 L221.00 228.7 L221.50 228.7 L221.50 232.6 L222.00 232.6 L222.00 230.5 L222.50 230.5 L222.50 230.5 L223.00 230.5 L223.00 232.7 L223.50 232.7 L223.50 233.5 L224.00 233.5 L224.00 233.5 L224.50 233.5 L224.50 233.8 L225.00 233.8 L225.00 233.8 L225.50 233.8 L225.50 234.2 L226.00 234.2 L226.00 234.2 L226.50 234.2 L226.50 234.4 L227.00 234.4 L227.00 234.6 L227.50 234.6 L227.50 235.5 L228.00 235.5 L228.00 235.5 L228.50 235.5 L228.50 235.5 L229.00 235.5 L229.00 235.5 L229.50 235.5 L229.50 235.5 L230.00 235.5 L230.00 235.5 L230.50 235.5 L230.50 234.0 L231.00 234.0 L231.00 233.6 L231.50 233.6 L231.50 233.3 L232.00 233.3 L232.00 233.6 L232.50 233.6 L232.50 234.0 L233.00 234.0 L233.00 235.5 L233.50 235.5 L233.50 235.5 L234.00 235.5 L234.00 235.5 L234.50 235.5 L234.50 235.5 L235.00 235.5 L235.00 235.5 L235.50 235.5 L235.50 235.5 L236.00 235.5 L236.00 235.5 L236.50 235.5 L236.50 233.9 L237.00 233.9 L237.00 233.5 L237.50 233.5 L237.50 233.2 L238.00 233.2 L238.00 233.2 L238.50 233.2 L238.50 233.5 L239.00 233.5 L238.90 235.50 Z" fill="#111"/>
<line x1="122.50" y1="235.10" x2="238.90" y2="235.10" stroke="#111" stroke-width="0.8"/>
<path d="M122.50 252.20 L122.50 252.2 L123.00 252.2 L123.00 250.9 L123.50 250.9 L123.50 250.5 L124.00 250.5 L124.00 250.5 L124.50 250.5 L124.50 250.9 L125.00 250.9 L125.00 252.2 L125.50 252.2 L125.50 252.2 L126.00 252.2 L126.00 251.1 L126.50 251.1 L126.50 250.7 L127.00 250.7 L127.00 251.1 L127.50 251.1 L127.50 252.2 L128.00 252.2 L128.00 252.2 L128.50 252.2 L128.50 252.2 L129.00 252.2 L129.00 252.2 L129.50 252.2 L129.50 250.9 L130.00 250.9 L130.00 250.6 L130.50 250.6 L130.50 250.3 L131.00 250.3 L131.00 250.3 L131.50 250.3 L131.50 250.6 L132.00 250.6 L132.00 250.9 L132.50 250.9 L132.50 252.2 L133.00 252.2 L133.00 252.2 L133.50 252.2 L133.50 252.2 L134.00 252.2 L134.00 252.2 L134.50 252.2 L134.50 252.2 L135.00 252.2 L135.00 252.2 L135.50 252.2 L135.50 252.2 L136.00 252.2 L136.00 252.2 L136.50 252.2 L136.50 252.2 L137.00 252.2 L137.00 252.2 L137.50 252.2 L137.50 252.2 L138.00 252.2 L138.00 252.2 L138.50 252.2 L138.50 252.2 L139.00 252.2 L139.00 252.2 L139.50 252.2 L139.50 252.2 L140.00 252.2 L140.00 252.2 L140.50 252.2 L140.50 252.2 L141.00 252.2 L141.00 250.0 L141.50 250.0 L141.50 251.0 L142.00 251.0 L142.00 250.8 L142.50 250.8 L142.50 249.0 L143.00 249.0 L143.00 247.2 L143.50 247.2 L143.50 247.2 L144.00 247.2 L144.00 244.3 L144.50 244.3 L144.50 240.0 L145.00 240.0 L145.00 240.0 L145.50 240.0 L145.50 244.3 L146.00 244.3 L146.00 248.8 L146.50 248.8 L146.50 249.2 L147.00 249.2 L147.00 247.2 L147.50 247.2 L147.50 247.2 L148.00 247.2 L148.00 249.2 L148.50 249.2 L148.50 249.5 L149.00 249.5 L149.00 249.5 L149.50 249.5 L149.50 250.7 L150.00 250.7 L150.00 250.7 L150.50 250.7 L150.50 249.4 L151.00 249.4 L151.00 252.2 L151.50 252.2 L151.50 252.2 L152.00 252.2 L152.00 251.6 L152.50 251.6 L152.50 251.5 L153.00 251.5 L153.00 249.9 L153.50 249.9 L153.50 250.6 L154.00 250.6 L154.00 250.6 L154.50 250.6 L154.50 251.5 L155.00 251.5 L155.00 251.5 L155.50 251.5 L155.50 250.3 L156.00 250.3 L156.00 250.3 L156.50 250.3 L156.50 249.8 L157.00 249.8 L157.00 249.8 L157.50 249.8 L157.50 249.7 L158.00 249.7 L158.00 249.7 L158.50 249.7 L158.50 250.3 L159.00 250.3 L159.00 250.3 L159.50 250.3 L159.50 249.7 L160.00 249.7 L160.00 249.7 L160.50 249.7 L160.50 250.1 L161.00 250.1 L161.00 250.1 L161.50 250.1 L161.50 250.5 L162.00 250.5 L162.00 250.5 L162.50 250.5 L162.50 250.6 L163.00 250.6 L163.00 250.6 L163.50 250.6 L163.50 249.7 L164.00 249.7 L164.00 249.7 L164.50 249.7 L164.50 251.2 L165.00 251.2 L165.00 251.2 L165.50 251.2 L165.50 250.7 L166.00 250.7 L166.00 250.7 L166.50 250.7 L166.50 250.1 L167.00 250.1 L167.00 252.2 L167.50 252.2 L167.50 252.2 L168.00 252.2 L168.00 252.2 L168.50 252.2 L168.50 252.2 L169.00 252.2 L169.00 251.5 L169.50 251.5 L169.50 251.3 L170.00 251.3 L170.00 251.1 L170.50 251.1 L170.50 251.3 L171.00 251.3 L171.00 251.5 L171.50 251.5 L171.50 252.2 L172.00 252.2 L172.00 252.2 L172.50 252.2 L172.50 252.2 L173.00 252.2 L173.00 251.2 L173.50 251.2 L173.50 250.9 L174.00 250.9 L174.00 251.2 L174.50 251.2 L174.50 252.2 L175.00 252.2 L175.00 252.2 L175.50 252.2 L175.50 252.2 L176.00 252.2 L176.00 252.2 L176.50 252.2 L176.50 252.2 L177.00 252.2 L177.00 252.2 L177.50 252.2 L177.50 252.2 L178.00 252.2 L178.00 252.2 L178.50 252.2 L178.50 252.2 L179.00 252.2 L179.00 251.3 L179.50 251.3 L179.50 251.3 L180.00 251.3 L180.00 252.2 L180.50 252.2 L180.50 252.2 L181.00 252.2 L181.00 252.2 L181.50 252.2 L181.50 252.2 L182.00 252.2 L182.00 252.2 L182.50 252.2 L182.50 252.2 L183.00 252.2 L183.00 252.2 L183.50 252.2 L183.50 252.2 L184.00 252.2 L184.00 252.2 L184.50 252.2 L184.50 251.5 L185.00 251.5 L185.00 251.2 L185.50 251.2 L185.50 251.5 L186.00 251.5 L186.00 251.6 L186.50 251.6 L186.50 251.6 L187.00 251.6 L187.00 250.8 L187.50 250.8 L187.50 250.4 L188.00 250.4 L188.00 250.8 L188.50 250.8 L188.50 252.2 L189.00 252.2 L189.00 252.2 L189.50 252.2 L189.50 252.2 L190.00 252.2 L190.00 252.2 L190.50 252.2 L190.50 252.2 L191.00 252.2 L191.00 252.2 L191.50 252.2 L191.50 252.2 L192.00 252.2 L192.00 252.2 L192.50 252.2 L192.50 252.2 L193.00 252.2 L193.00 252.2 L193.50 252.2 L193.50 252.2 L194.00 252.2 L194.00 252.2 L194.50 252.2 L194.50 252.2 L195.00 252.2 L195.00 252.2 L195.50 252.2 L195.50 252.2 L196.00 252.2 L196.00 252.2 L196.50 252.2 L196.50 252.2 L197.00 252.2 L197.00 251.2 L197.50 251.2 L197.50 251.0 L198.00 251.0 L198.00 250.8 L198.50 250.8 L198.50 250.8 L199.00 250.8 L199.00 251.0 L199.50 251.0 L199.50 251.2 L200.00 251.2 L200.00 251.7 L200.50 251.7 L200.50 251.6 L201.00 251.6 L201.00 251.5 L201.50 251.5 L201.50 251.6 L202.00 251.6 L202.00 251.7 L202.50 251.7 L202.50 252.2 L203.00 252.2 L203.00 252.2 L203.50 252.2 L203.50 252.2 L204.00 252.2 L204.00 252.2 L204.50 252.2 L204.50 252.2 L205.00 252.2 L205.00 252.2 L205.50 252.2 L205.50 252.2 L206.00 252.2 L206.00 252.2 L206.50 252.2 L206.50 252.2 L207.00 252.2 L207.00 252.2 L207.50 252.2 L207.50 252.2 L208.00 252.2 L208.00 252.2 L208.50 252.2 L208.50 252.2 L209.00 252.2 L209.00 252.2 L209.50 252.2 L209.50 252.2 L210.00 252.2 L210.00 252.2 L210.50 252.2 L210.50 252.2 L211.00 252.2 L211.00 252.2 L211.50 252.2 L211.50 252.2 L212.00 252.2 L212.00 252.2 L212.50 252.2 L212.50 252.2 L213.00 252.2 L213.00 252.2 L213.50 252.2 L213.50 251.5 L214.00 251.5 L214.00 251.3 L214.50 251.3 L214.50 251.3 L215.00 251.3 L215.00 251.5 L215.50 251.5 L215.50 252.2 L216.00 252.2 L216.00 252.2 L216.50 252.2 L216.50 251.7 L217.00 251.7 L217.00 250.2 L217.50 250.2 L217.50 248.7 L218.00 248.7 L218.00 248.7 L218.50 248.7 L218.50 250.2 L219.00 250.2 L219.00 247.2 L219.50 247.2 L219.50 244.2 L220.00 244.2 L220.00 244.2 L220.50 244.2 L220.50 247.2 L221.00 247.2 L221.00 250.3 L221.50 250.3 L221.50 252.2 L222.00 252.2 L222.00 252.2 L222.50 252.2 L222.50 252.2 L223.00 252.2 L223.00 252.2 L223.50 252.2 L223.50 252.2 L224.00 252.2 L224.00 252.2 L224.50 252.2 L224.50 252.2 L225.00 252.2 L225.00 252.2 L225.50 252.2 L225.50 252.2 L226.00 252.2 L226.00 252.2 L226.50 252.2 L226.50 251.7 L227.00 251.7 L227.00 251.6 L227.50 251.6 L227.50 251.5 L228.00 251.5 L228.00 251.6 L228.50 251.6 L228.50 251.7 L229.00 251.7 L229.00 252.2 L229.50 252.2 L229.50 252.2 L230.00 252.2 L230.00 252.2 L230.50 252.2 L230.50 252.2 L231.00 252.2 L231.00 252.2 L231.50 252.2 L231.50 252.2 L232.00 252.2 L232.00 252.2 L232.50 252.2 L232.50 252.2 L233.00 252.2 L233.00 252.2 L233.50 252.2 L233.50 252.2 L234.00 252.2 L234.00 252.2 L234.50 252.2 L234.50 251.4 L235.00 251.4 L235.00 251.2 L235.50 251.2 L235.50 251.0 L236.00 251.0 L236.00 251.2 L236.50 251.2 L236.50 251.4 L237.00 251.4 L237.00 252.2 L237.50 252.2 L237.50 251.7 L238.00 251.7 L238.00 251.7 L238.50 251.7 L238.50 252.2 L239.00 252.2 L238.90 252.20 Z" fill="#601418"/>
<line x1="122.50" y1="251.90" x2="238.90" y2="251.90" stroke="#601418" stroke-width="0.55" opacity="0.75"/>
<path d="M122.50 268.70 L122.50 268.0 L123.00 268.0 L123.00 267.9 L123.50 267.9 L123.50 267.7 L124.00 267.7 L124.00 267.7 L124.50 267.7 L124.50 267.9 L125.00 267.9 L125.00 268.0 L125.50 268.0 L125.50 268.7 L126.00 268.7 L126.00 268.7 L126.50 268.7 L126.50 268.7 L127.00 268.7 L127.00 268.7 L127.50 268.7 L127.50 268.7 L128.00 268.7 L128.00 268.7 L128.50 268.7 L128.50 268.7 L129.00 268.7 L129.00 268.7 L129.50 268.7 L129.50 268.7 L130.00 268.7 L130.00 268.7 L130.50 268.7 L130.50 268.7 L131.00 268.7 L131.00 268.7 L131.50 268.7 L131.50 268.7 L132.00 268.7 L132.00 267.8 L132.50 267.8 L132.50 267.6 L133.00 267.6 L133.00 267.4 L133.50 267.4 L133.50 267.6 L134.00 267.6 L134.00 267.8 L134.50 267.8 L134.50 268.7 L135.00 268.7 L135.00 267.5 L135.50 267.5 L135.50 267.2 L136.00 267.2 L136.00 266.9 L136.50 266.9 L136.50 267.2 L137.00 267.2 L137.00 267.5 L137.50 267.5 L137.50 268.7 L138.00 268.7 L138.00 268.7 L138.50 268.7 L138.50 268.7 L139.00 268.7 L139.00 267.8 L139.50 267.8 L139.50 267.5 L140.00 267.5 L140.00 266.7 L140.50 266.7 L140.50 266.1 L141.00 266.1 L141.00 266.1 L141.50 266.1 L141.50 267.2 L142.00 267.2 L142.00 267.2 L142.50 267.2 L142.50 266.4 L143.00 266.4 L143.00 263.9 L143.50 263.9 L143.50 262.7 L144.00 262.7 L144.00 263.3 L144.50 263.3 L144.50 266.0 L145.00 266.0 L145.00 266.3 L145.50 266.3 L145.50 264.7 L146.00 264.7 L146.00 264.7 L146.50 264.7 L146.50 266.3 L147.00 266.3 L147.00 267.0 L147.50 267.0 L147.50 267.0 L148.00 267.0 L148.00 266.9 L148.50 266.9 L148.50 266.0 L149.00 266.0 L149.00 266.0 L149.50 266.0 L149.50 265.2 L150.00 265.2 L150.00 265.2 L150.50 265.2 L150.50 266.0 L151.00 266.0 L151.00 266.0 L151.50 266.0 L151.50 267.4 L152.00 267.4 L152.00 267.4 L152.50 267.4 L152.50 267.0 L153.00 267.0 L153.00 267.0 L153.50 267.0 L153.50 266.4 L154.00 266.4 L154.00 266.4 L154.50 266.4 L154.50 265.9 L155.00 265.9 L155.00 265.9 L155.50 265.9 L155.50 266.8 L156.00 266.8 L156.00 266.8 L156.50 266.8 L156.50 267.3 L157.00 267.3 L157.00 267.3 L157.50 267.3 L157.50 267.5 L158.00 267.5 L158.00 268.7 L158.50 268.7 L158.50 268.7 L159.00 268.7 L159.00 268.7 L159.50 268.7 L159.50 268.7 L160.00 268.7 L160.00 268.7 L160.50 268.7 L160.50 267.4 L161.00 267.4 L161.00 267.1 L161.50 267.1 L161.50 266.8 L162.00 266.8 L162.00 267.1 L162.50 267.1 L162.50 267.4 L163.00 267.4 L163.00 268.7 L163.50 268.7 L163.50 268.7 L164.00 268.7 L164.00 268.7 L164.50 268.7 L164.50 268.7 L165.00 268.7 L165.00 268.7 L165.50 268.7 L165.50 268.7 L166.00 268.7 L166.00 268.7 L166.50 268.7 L166.50 268.7 L167.00 268.7 L167.00 268.7 L167.50 268.7 L167.50 268.7 L168.00 268.7 L168.00 268.7 L168.50 268.7 L168.50 268.7 L169.00 268.7 L169.00 268.7 L169.50 268.7 L169.50 268.7 L170.00 268.7 L170.00 268.7 L170.50 268.7 L170.50 268.7 L171.00 268.7 L171.00 268.7 L171.50 268.7 L171.50 268.7 L172.00 268.7 L172.00 268.7 L172.50 268.7 L172.50 268.7 L173.00 268.7 L173.00 268.7 L173.50 268.7 L173.50 268.7 L174.00 268.7 L174.00 268.7 L174.50 268.7 L174.50 268.7 L175.00 268.7 L175.00 268.7 L175.50 268.7 L175.50 267.9 L176.00 267.9 L176.00 267.7 L176.50 267.7 L176.50 267.5 L177.00 267.5 L177.00 267.5 L177.50 267.5 L177.50 267.7 L178.00 267.7 L178.00 267.9 L178.50 267.9 L178.50 268.0 L179.00 268.0 L179.00 267.9 L179.50 267.9 L179.50 267.7 L180.00 267.7 L180.00 267.9 L180.50 267.9 L180.50 268.0 L181.00 268.0 L181.00 268.1 L181.50 268.1 L181.50 267.9 L182.00 267.9 L182.00 268.1 L182.50 268.1 L182.50 268.7 L183.00 268.7 L183.00 268.7 L183.50 268.7 L183.50 268.7 L184.00 268.7 L184.00 268.7 L184.50 268.7 L184.50 267.3 L185.00 267.3 L185.00 266.9 L185.50 266.9 L185.50 266.6 L186.00 266.6 L186.00 266.6 L186.50 266.6 L186.50 266.9 L187.00 266.9 L187.00 267.3 L187.50 267.3 L187.50 266.8 L188.00 266.8 L188.00 266.8 L188.50 266.8 L188.50 266.7 L189.00 266.7 L189.00 266.7 L189.50 266.7 L189.50 267.7 L190.00 267.7 L190.00 267.7 L190.50 267.7 L190.50 267.6 L191.00 267.6 L191.00 267.6 L191.50 267.6 L191.50 266.8 L192.00 266.8 L192.00 266.8 L192.50 266.8 L192.50 267.0 L193.00 267.0 L193.00 267.0 L193.50 267.0 L193.50 266.8 L194.00 266.8 L194.00 266.8 L194.50 266.8 L194.50 267.4 L195.00 267.4 L195.00 267.4 L195.50 267.4 L195.50 267.8 L196.00 267.8 L196.00 267.8 L196.50 267.8 L196.50 266.8 L197.00 266.8 L197.00 266.2 L197.50 266.2 L197.50 266.8 L198.00 266.8 L198.00 266.8 L198.50 266.8 L198.50 267.6 L199.00 267.6 L199.00 267.6 L199.50 267.6 L199.50 267.4 L200.00 267.4 L200.00 267.4 L200.50 267.4 L200.50 267.3 L201.00 267.3 L201.00 267.3 L201.50 267.3 L201.50 267.3 L202.00 267.3 L202.00 267.3 L202.50 267.3 L202.50 267.3 L203.00 267.3 L203.00 267.3 L203.50 267.3 L203.50 266.6 L204.00 266.6 L204.00 266.6 L204.50 266.6 L204.50 266.1 L205.00 266.1 L205.00 266.8 L205.50 266.8 L205.50 268.1 L206.00 268.1 L206.00 268.1 L206.50 268.1 L206.50 266.6 L207.00 266.6 L207.00 266.6 L207.50 266.6 L207.50 266.7 L208.00 266.7 L208.00 266.7 L208.50 266.7 L208.50 266.5 L209.00 266.5 L209.00 266.5 L209.50 266.5 L209.50 267.3 L210.00 267.3 L210.00 267.3 L210.50 267.3 L210.50 266.6 L211.00 266.6 L211.00 266.6 L211.50 266.6 L211.50 266.6 L212.00 266.6 L212.00 266.6 L212.50 266.6 L212.50 267.7 L213.00 267.7 L213.00 267.1 L213.50 267.1 L213.50 265.9 L214.00 265.9 L214.00 265.9 L214.50 265.9 L214.50 266.7 L215.00 266.7 L215.00 266.7 L215.50 266.7 L215.50 267.0 L216.00 267.0 L216.00 267.0 L216.50 267.0 L216.50 267.2 L217.00 267.2 L217.00 267.2 L217.50 267.2 L217.50 267.2 L218.00 267.2 L218.00 267.5 L218.50 267.5 L218.50 267.5 L219.00 267.5 L219.00 267.5 L219.50 267.5 L219.50 267.6 L220.00 267.6 L220.00 266.9 L220.50 266.9 L220.50 265.5 L221.00 265.5 L221.00 265.5 L221.50 265.5 L221.50 266.9 L222.00 266.9 L222.00 267.1 L222.50 267.1 L222.50 267.5 L223.00 267.5 L223.00 267.5 L223.50 267.5 L223.50 266.8 L224.00 266.8 L224.00 266.8 L224.50 266.8 L224.50 268.0 L225.00 268.0 L225.00 268.0 L225.50 268.0 L225.50 266.6 L226.00 266.6 L226.00 266.6 L226.50 266.6 L226.50 266.9 L227.00 266.9 L227.00 266.9 L227.50 266.9 L227.50 266.6 L228.00 266.6 L228.00 266.6 L228.50 266.6 L228.50 266.6 L229.00 266.6 L229.00 266.6 L229.50 266.6 L229.50 266.6 L230.00 266.6 L230.00 266.6 L230.50 266.6 L230.50 266.5 L231.00 266.5 L231.00 266.5 L231.50 266.5 L231.50 267.0 L232.00 267.0 L232.00 268.1 L232.50 268.1 L232.50 266.8 L233.00 266.8 L233.00 266.8 L233.50 266.8 L233.50 267.7 L234.00 267.7 L234.00 267.7 L234.50 267.7 L234.50 267.9 L235.00 267.9 L235.00 268.0 L235.50 268.0 L235.50 268.7 L236.00 268.7 L236.00 268.7 L236.50 268.7 L236.50 268.7 L237.00 268.7 L237.00 268.7 L237.50 268.7 L237.50 268.7 L238.00 268.7 L238.00 268.7 L238.50 268.7 L238.50 268.7 L239.00 268.7 L238.90 268.70 Z" fill="#5c1a1c"/>
<line x1="122.50" y1="268.40" x2="238.90" y2="268.40" stroke="#5c1a1c" stroke-width="0.55" opacity="0.75"/>
<path d="M122.50 286.00 L122.50 284.7 L123.00 284.7 L123.00 284.7 L123.50 284.7 L123.50 284.5 L124.00 284.5 L124.00 284.5 L124.50 284.5 L124.50 284.9 L125.00 284.9 L125.00 284.9 L125.50 284.9 L125.50 284.7 L126.00 284.7 L126.00 284.7 L126.50 284.7 L126.50 284.9 L127.00 284.9 L127.00 285.0 L127.50 285.0 L127.50 284.3 L128.00 284.3 L128.00 286.0 L128.50 286.0 L128.50 286.0 L129.00 286.0 L129.00 286.0 L129.50 286.0 L129.50 286.0 L130.00 286.0 L130.00 286.0 L130.50 286.0 L130.50 286.0 L131.00 286.0 L131.00 286.0 L131.50 286.0 L131.50 286.0 L132.00 286.0 L132.00 286.0 L132.50 286.0 L132.50 286.0 L133.00 286.0 L133.00 286.0 L133.50 286.0 L133.50 286.0 L134.00 286.0 L134.00 286.0 L134.50 286.0 L134.50 286.0 L135.00 286.0 L135.00 286.0 L135.50 286.0 L135.50 286.0 L136.00 286.0 L136.00 286.0 L136.50 286.0 L136.50 286.0 L137.00 286.0 L137.00 286.0 L137.50 286.0 L137.50 286.0 L138.00 286.0 L138.00 286.0 L138.50 286.0 L138.50 286.0 L139.00 286.0 L139.00 286.0 L139.50 286.0 L139.50 286.0 L140.00 286.0 L140.00 286.0 L140.50 286.0 L140.50 286.0 L141.00 286.0 L141.00 286.0 L141.50 286.0 L141.50 286.0 L142.00 286.0 L142.00 286.0 L142.50 286.0 L142.50 286.0 L143.00 286.0 L143.00 286.0 L143.50 286.0 L143.50 286.0 L144.00 286.0 L144.00 286.0 L144.50 286.0 L144.50 286.0 L145.00 286.0 L145.00 286.0 L145.50 286.0 L145.50 286.0 L146.00 286.0 L146.00 283.2 L146.50 283.2 L146.50 284.4 L147.00 284.4 L147.00 284.4 L147.50 284.4 L147.50 284.8 L148.00 284.8 L148.00 284.8 L148.50 284.8 L148.50 283.8 L149.00 283.8 L149.00 283.5 L149.50 283.5 L149.50 282.8 L150.00 282.8 L150.00 282.8 L150.50 282.8 L150.50 283.5 L151.00 283.5 L151.00 283.7 L151.50 283.7 L151.50 283.2 L152.00 283.2 L152.00 283.2 L152.50 283.2 L152.50 283.5 L153.00 283.5 L153.00 283.5 L153.50 283.5 L153.50 285.1 L154.00 285.1 L154.00 285.1 L154.50 285.1 L154.50 284.2 L155.00 284.2 L155.00 284.2 L155.50 284.2 L155.50 284.1 L156.00 284.1 L156.00 284.1 L156.50 284.1 L156.50 283.1 L157.00 283.1 L157.00 283.1 L157.50 283.1 L157.50 281.8 L158.00 281.8 L158.00 280.5 L158.50 280.5 L158.50 280.5 L159.00 280.5 L159.00 281.8 L159.50 281.8 L159.50 283.4 L160.00 283.4 L160.00 284.7 L160.50 284.7 L160.50 284.4 L161.00 284.4 L161.00 286.0 L161.50 286.0 L161.50 286.0 L162.00 286.0 L162.00 286.0 L162.50 286.0 L162.50 286.0 L163.00 286.0 L163.00 286.0 L163.50 286.0 L163.50 286.0 L164.00 286.0 L164.00 286.0 L164.50 286.0 L164.50 286.0 L165.00 286.0 L165.00 286.0 L165.50 286.0 L165.50 286.0 L166.00 286.0 L166.00 286.0 L166.50 286.0 L166.50 286.0 L167.00 286.0 L167.00 286.0 L167.50 286.0 L167.50 286.0 L168.00 286.0 L168.00 286.0 L168.50 286.0 L168.50 286.0 L169.00 286.0 L169.00 286.0 L169.50 286.0 L169.50 286.0 L170.00 286.0 L170.00 286.0 L170.50 286.0 L170.50 286.0 L171.00 286.0 L171.00 286.0 L171.50 286.0 L171.50 286.0 L172.00 286.0 L172.00 286.0 L172.50 286.0 L172.50 286.0 L173.00 286.0 L173.00 286.0 L173.50 286.0 L173.50 286.0 L174.00 286.0 L174.00 286.0 L174.50 286.0 L174.50 286.0 L175.00 286.0 L175.00 286.0 L175.50 286.0 L175.50 286.0 L176.00 286.0 L176.00 286.0 L176.50 286.0 L176.50 286.0 L177.00 286.0 L177.00 286.0 L177.50 286.0 L177.50 286.0 L178.00 286.0 L178.00 286.0 L178.50 286.0 L178.50 286.0 L179.00 286.0 L179.00 286.0 L179.50 286.0 L179.50 286.0 L180.00 286.0 L180.00 286.0 L180.50 286.0 L180.50 286.0 L181.00 286.0 L181.00 286.0 L181.50 286.0 L181.50 286.0 L182.00 286.0 L182.00 286.0 L182.50 286.0 L182.50 286.0 L183.00 286.0 L183.00 286.0 L183.50 286.0 L183.50 286.0 L184.00 286.0 L184.00 286.0 L184.50 286.0 L184.50 286.0 L185.00 286.0 L185.00 286.0 L185.50 286.0 L185.50 286.0 L186.00 286.0 L186.00 286.0 L186.50 286.0 L186.50 286.0 L187.00 286.0 L187.00 286.0 L187.50 286.0 L187.50 286.0 L188.00 286.0 L188.00 286.0 L188.50 286.0 L188.50 286.0 L189.00 286.0 L189.00 286.0 L189.50 286.0 L189.50 286.0 L190.00 286.0 L190.00 286.0 L190.50 286.0 L190.50 286.0 L191.00 286.0 L191.00 286.0 L191.50 286.0 L191.50 286.0 L192.00 286.0 L192.00 286.0 L192.50 286.0 L192.50 286.0 L193.00 286.0 L193.00 286.0 L193.50 286.0 L193.50 286.0 L194.00 286.0 L194.00 286.0 L194.50 286.0 L194.50 286.0 L195.00 286.0 L195.00 286.0 L195.50 286.0 L195.50 286.0 L196.00 286.0 L196.00 286.0 L196.50 286.0 L196.50 286.0 L197.00 286.0 L197.00 286.0 L197.50 286.0 L197.50 286.0 L198.00 286.0 L198.00 286.0 L198.50 286.0 L198.50 286.0 L199.00 286.0 L199.00 286.0 L199.50 286.0 L199.50 286.0 L200.00 286.0 L200.00 286.0 L200.50 286.0 L200.50 286.0 L201.00 286.0 L201.00 286.0 L201.50 286.0 L201.50 286.0 L202.00 286.0 L202.00 286.0 L202.50 286.0 L202.50 286.0 L203.00 286.0 L203.00 286.0 L203.50 286.0 L203.50 286.0 L204.00 286.0 L204.00 286.0 L204.50 286.0 L204.50 286.0 L205.00 286.0 L205.00 286.0 L205.50 286.0 L205.50 286.0 L206.00 286.0 L206.00 286.0 L206.50 286.0 L206.50 286.0 L207.00 286.0 L207.00 286.0 L207.50 286.0 L207.50 286.0 L208.00 286.0 L208.00 286.0 L208.50 286.0 L208.50 286.0 L209.00 286.0 L209.00 286.0 L209.50 286.0 L209.50 286.0 L210.00 286.0 L210.00 286.0 L210.50 286.0 L210.50 286.0 L211.00 286.0 L211.00 286.0 L211.50 286.0 L211.50 286.0 L212.00 286.0 L212.00 286.0 L212.50 286.0 L212.50 286.0 L213.00 286.0 L213.00 286.0 L213.50 286.0 L213.50 286.0 L214.00 286.0 L214.00 286.0 L214.50 286.0 L214.50 286.0 L215.00 286.0 L215.00 286.0 L215.50 286.0 L215.50 286.0 L216.00 286.0 L216.00 286.0 L216.50 286.0 L216.50 286.0 L217.00 286.0 L217.00 286.0 L217.50 286.0 L217.50 286.0 L218.00 286.0 L218.00 284.6 L218.50 284.6 L218.50 284.3 L219.00 284.3 L219.00 284.3 L219.50 284.3 L219.50 283.6 L220.00 283.6 L220.00 283.6 L220.50 283.6 L220.50 284.6 L221.00 284.6 L221.00 284.6 L221.50 284.6 L221.50 284.4 L222.00 284.4 L222.00 284.4 L222.50 284.4 L222.50 284.8 L223.00 284.8 L223.00 284.8 L223.50 284.8 L223.50 283.7 L224.00 283.7 L224.00 283.7 L224.50 283.7 L224.50 283.7 L225.00 283.7 L225.00 283.7 L225.50 283.7 L225.50 284.5 L226.00 284.5 L226.00 284.5 L226.50 284.5 L226.50 284.4 L227.00 284.4 L227.00 284.4 L227.50 284.4 L227.50 284.2 L228.00 284.2 L228.00 284.2 L228.50 284.2 L228.50 283.6 L229.00 283.6 L229.00 283.6 L229.50 283.6 L229.50 284.6 L230.00 284.6 L230.00 284.6 L230.50 284.6 L230.50 284.0 L231.00 284.0 L231.00 284.0 L231.50 284.0 L231.50 284.8 L232.00 284.8 L232.00 286.0 L232.50 286.0 L232.50 286.0 L233.00 286.0 L233.00 285.4 L233.50 285.4 L233.50 285.2 L234.00 285.2 L234.00 285.1 L234.50 285.1 L234.50 285.2 L235.00 285.2 L235.00 285.4 L235.50 285.4 L235.50 286.0 L236.00 286.0 L236.00 286.0 L236.50 286.0 L236.50 286.0 L237.00 286.0 L237.00 286.0 L237.50 286.0 L237.50 286.0 L238.00 286.0 L238.00 286.0 L238.50 286.0 L238.50 286.0 L239.00 286.0 L238.90 286.00 Z" fill="#1a3e36"/>
<path d="M122.50 302.00 L122.50 302.0 L123.00 302.0 L123.00 302.0 L123.50 302.0 L123.50 302.0 L124.00 302.0 L124.00 302.0 L124.50 302.0 L124.50 302.0 L125.00 302.0 L125.00 302.0 L125.50 302.0 L125.50 302.0 L126.00 302.0 L126.00 302.0 L126.50 302.0 L126.50 302.0 L127.00 302.0 L127.00 302.0 L127.50 302.0 L127.50 302.0 L128.00 302.0 L128.00 302.0 L128.50 302.0 L128.50 302.0 L129.00 302.0 L129.00 302.0 L129.50 302.0 L129.50 302.0 L130.00 302.0 L130.00 302.0 L130.50 302.0 L130.50 302.0 L131.00 302.0 L131.00 302.0 L131.50 302.0 L131.50 302.0 L132.00 302.0 L132.00 302.0 L132.50 302.0 L132.50 302.0 L133.00 302.0 L133.00 302.0 L133.50 302.0 L133.50 302.0 L134.00 302.0 L134.00 302.0 L134.50 302.0 L134.50 302.0 L135.00 302.0 L135.00 302.0 L135.50 302.0 L135.50 302.0 L136.00 302.0 L136.00 302.0 L136.50 302.0 L136.50 302.0 L137.00 302.0 L137.00 302.0 L137.50 302.0 L137.50 302.0 L138.00 302.0 L138.00 302.0 L138.50 302.0 L138.50 302.0 L139.00 302.0 L139.00 302.0 L139.50 302.0 L139.50 302.0 L140.00 302.0 L140.00 302.0 L140.50 302.0 L140.50 302.0 L141.00 302.0 L141.00 302.0 L141.50 302.0 L141.50 302.0 L142.00 302.0 L142.00 302.0 L142.50 302.0 L142.50 294.9 L143.00 294.9 L143.00 294.9 L143.50 294.9 L143.50 295.0 L144.00 295.0 L144.00 292.0 L144.50 292.0 L144.50 292.0 L145.00 292.0 L145.00 295.0 L145.50 295.0 L145.50 293.0 L146.00 293.0 L146.00 293.0 L146.50 293.0 L146.50 296.0 L147.00 296.0 L147.00 298.5 L147.50 298.5 L147.50 301.5 L148.00 301.5 L148.00 302.0 L148.50 302.0 L148.50 301.4 L149.00 301.4 L149.00 300.7 L149.50 300.7 L149.50 300.0 L150.00 300.0 L150.00 300.0 L150.50 300.0 L150.50 300.7 L151.00 300.7 L151.00 301.4 L151.50 301.4 L151.50 302.0 L152.00 302.0 L152.00 302.0 L152.50 302.0 L152.50 302.0 L153.00 302.0 L153.00 302.0 L153.50 302.0 L153.50 302.0 L154.00 302.0 L154.00 302.0 L154.50 302.0 L154.50 302.0 L155.00 302.0 L155.00 302.0 L155.50 302.0 L155.50 302.0 L156.00 302.0 L156.00 302.0 L156.50 302.0 L156.50 302.0 L157.00 302.0 L157.00 302.0 L157.50 302.0 L157.50 302.0 L158.00 302.0 L158.00 302.0 L158.50 302.0 L158.50 302.0 L159.00 302.0 L159.00 302.0 L159.50 302.0 L159.50 302.0 L160.00 302.0 L160.00 302.0 L160.50 302.0 L160.50 302.0 L161.00 302.0 L161.00 302.0 L161.50 302.0 L161.50 302.0 L162.00 302.0 L162.00 302.0 L162.50 302.0 L162.50 302.0 L163.00 302.0 L163.00 302.0 L163.50 302.0 L163.50 302.0 L164.00 302.0 L164.00 302.0 L164.50 302.0 L164.50 302.0 L165.00 302.0 L165.00 302.0 L165.50 302.0 L165.50 302.0 L166.00 302.0 L166.00 302.0 L166.50 302.0 L166.50 302.0 L167.00 302.0 L167.00 302.0 L167.50 302.0 L167.50 302.0 L168.00 302.0 L168.00 302.0 L168.50 302.0 L168.50 302.0 L169.00 302.0 L169.00 302.0 L169.50 302.0 L169.50 302.0 L170.00 302.0 L170.00 302.0 L170.50 302.0 L170.50 302.0 L171.00 302.0 L171.00 302.0 L171.50 302.0 L171.50 302.0 L172.00 302.0 L172.00 302.0 L172.50 302.0 L172.50 302.0 L173.00 302.0 L173.00 302.0 L173.50 302.0 L173.50 302.0 L174.00 302.0 L174.00 302.0 L174.50 302.0 L174.50 302.0 L175.00 302.0 L175.00 302.0 L175.50 302.0 L175.50 302.0 L176.00 302.0 L176.00 302.0 L176.50 302.0 L176.50 302.0 L177.00 302.0 L177.00 302.0 L177.50 302.0 L177.50 302.0 L178.00 302.0 L178.00 302.0 L178.50 302.0 L178.50 302.0 L179.00 302.0 L179.00 302.0 L179.50 302.0 L179.50 302.0 L180.00 302.0 L180.00 302.0 L180.50 302.0 L180.50 302.0 L181.00 302.0 L181.00 302.0 L181.50 302.0 L181.50 302.0 L182.00 302.0 L182.00 302.0 L182.50 302.0 L182.50 302.0 L183.00 302.0 L183.00 302.0 L183.50 302.0 L183.50 302.0 L184.00 302.0 L184.00 302.0 L184.50 302.0 L184.50 302.0 L185.00 302.0 L185.00 302.0 L185.50 302.0 L185.50 302.0 L186.00 302.0 L186.00 302.0 L186.50 302.0 L186.50 302.0 L187.00 302.0 L187.00 302.0 L187.50 302.0 L187.50 302.0 L188.00 302.0 L188.00 302.0 L188.50 302.0 L188.50 302.0 L189.00 302.0 L189.00 302.0 L189.50 302.0 L189.50 302.0 L190.00 302.0 L190.00 302.0 L190.50 302.0 L190.50 302.0 L191.00 302.0 L191.00 302.0 L191.50 302.0 L191.50 302.0 L192.00 302.0 L192.00 302.0 L192.50 302.0 L192.50 302.0 L193.00 302.0 L193.00 302.0 L193.50 302.0 L193.50 302.0 L194.00 302.0 L194.00 302.0 L194.50 302.0 L194.50 302.0 L195.00 302.0 L195.00 302.0 L195.50 302.0 L195.50 302.0 L196.00 302.0 L196.00 302.0 L196.50 302.0 L196.50 302.0 L197.00 302.0 L197.00 302.0 L197.50 302.0 L197.50 302.0 L198.00 302.0 L198.00 302.0 L198.50 302.0 L198.50 302.0 L199.00 302.0 L199.00 302.0 L199.50 302.0 L199.50 302.0 L200.00 302.0 L200.00 302.0 L200.50 302.0 L200.50 302.0 L201.00 302.0 L201.00 302.0 L201.50 302.0 L201.50 302.0 L202.00 302.0 L202.00 302.0 L202.50 302.0 L202.50 302.0 L203.00 302.0 L203.00 302.0 L203.50 302.0 L203.50 302.0 L204.00 302.0 L204.00 302.0 L204.50 302.0 L204.50 302.0 L205.00 302.0 L205.00 302.0 L205.50 302.0 L205.50 302.0 L206.00 302.0 L206.00 302.0 L206.50 302.0 L206.50 302.0 L207.00 302.0 L207.00 302.0 L207.50 302.0 L207.50 302.0 L208.00 302.0 L208.00 302.0 L208.50 302.0 L208.50 302.0 L209.00 302.0 L209.00 302.0 L209.50 302.0 L209.50 302.0 L210.00 302.0 L210.00 302.0 L210.50 302.0 L210.50 302.0 L211.00 302.0 L211.00 302.0 L211.50 302.0 L211.50 302.0 L212.00 302.0 L212.00 302.0 L212.50 302.0 L212.50 302.0 L213.00 302.0 L213.00 302.0 L213.50 302.0 L213.50 302.0 L214.00 302.0 L214.00 302.0 L214.50 302.0 L214.50 302.0 L215.00 302.0 L215.00 302.0 L215.50 302.0 L215.50 302.0 L216.00 302.0 L216.00 302.0 L216.50 302.0 L216.50 302.0 L217.00 302.0 L217.00 302.0 L217.50 302.0 L217.50 302.0 L218.00 302.0 L218.00 302.0 L218.50 302.0 L218.50 302.0 L219.00 302.0 L219.00 302.0 L219.50 302.0 L219.50 301.9 L220.00 301.9 L220.00 301.1 L220.50 301.1 L220.50 300.2 L221.00 300.2 L221.00 300.2 L221.50 300.2 L221.50 301.1 L222.00 301.1 L222.00 301.9 L222.50 301.9 L222.50 302.0 L223.00 302.0 L223.00 302.0 L223.50 302.0 L223.50 302.0 L224.00 302.0 L224.00 302.0 L224.50 302.0 L224.50 302.0 L225.00 302.0 L225.00 302.0 L225.50 302.0 L225.50 302.0 L226.00 302.0 L226.00 302.0 L226.50 302.0 L226.50 302.0 L227.00 302.0 L227.00 302.0 L227.50 302.0 L227.50 302.0 L228.00 302.0 L228.00 302.0 L228.50 302.0 L228.50 302.0 L229.00 302.0 L229.00 302.0 L229.50 302.0 L229.50 302.0 L230.00 302.0 L230.00 302.0 L230.50 302.0 L230.50 302.0 L231.00 302.0 L231.00 302.0 L231.50 302.0 L231.50 302.0 L232.00 302.0 L232.00 302.0 L232.50 302.0 L232.50 302.0 L233.00 302.0 L233.00 302.0 L233.50 302.0 L233.50 302.0 L234.00 302.0 L234.00 302.0 L234.50 302.0 L234.50 302.0 L235.00 302.0 L235.00 302.0 L235.50 302.0 L235.50 302.0 L236.00 302.0 L236.00 302.0 L236.50 302.0 L236.50 302.0 L237.00 302.0 L237.00 302.0 L237.50 302.0 L237.50 302.0 L238.00 302.0 L238.00 302.0 L238.50 302.0 L238.50 302.0 L239.00 302.0 L238.90 302.00 Z" fill="#5a2a76"/>
<path d="M257.00 234.30 L257.00 232.0 L257.50 232.0 L257.50 231.5 L258.00 231.5 L258.00 231.0 L258.50 231.0 L258.50 231.0 L259.00 231.0 L259.00 231.5 L259.50 231.5 L259.50 232.0 L260.00 232.0 L260.00 234.3 L260.50 234.3 L260.50 234.3 L261.00 234.3 L261.00 234.3 L261.50 234.3 L261.50 233.2 L262.00 233.2 L262.00 233.0 L262.50 233.0 L262.50 232.7 L263.00 232.7 L263.00 232.7 L263.50 232.7 L263.50 233.0 L264.00 233.0 L264.00 233.2 L264.50 233.2 L264.50 234.3 L265.00 234.3 L265.00 234.3 L265.50 234.3 L265.50 234.3 L266.00 234.3 L266.00 234.3 L266.50 234.3 L266.50 233.2 L267.00 233.2 L267.00 232.9 L267.50 232.9 L267.50 232.9 L268.00 232.9 L268.00 233.2 L268.50 233.2 L268.50 231.8 L269.00 231.8 L269.00 231.1 L269.50 231.1 L269.50 230.5 L270.00 230.5 L270.00 231.1 L270.50 231.1 L270.50 231.8 L271.00 231.8 L271.00 234.3 L271.50 234.3 L271.50 234.3 L272.00 234.3 L272.00 234.3 L272.50 234.3 L272.50 234.3 L273.00 234.3 L273.00 232.9 L273.50 232.9 L273.50 232.9 L274.00 232.9 L274.00 234.3 L274.50 234.3 L274.50 232.9 L275.00 232.9 L275.00 232.6 L275.50 232.6 L275.50 232.2 L276.00 232.2 L276.00 232.6 L276.50 232.6 L276.50 232.9 L277.00 232.9 L277.00 234.3 L277.50 234.3 L277.50 232.5 L278.00 232.5 L278.00 232.0 L278.50 232.0 L278.50 232.0 L279.00 232.0 L279.00 232.5 L279.50 232.5 L279.50 232.7 L280.00 232.7 L280.00 232.2 L280.50 232.2 L280.50 232.2 L281.00 232.2 L281.00 232.7 L281.50 232.7 L281.50 234.3 L282.00 234.3 L282.00 234.3 L282.50 234.3 L282.50 234.3 L283.00 234.3 L283.00 234.3 L283.50 234.3 L283.50 234.3 L284.00 234.3 L284.00 232.0 L284.50 232.0 L284.50 232.0 L285.00 232.0 L285.00 232.7 L285.50 232.7 L285.50 232.3 L286.00 232.3 L286.00 232.3 L286.50 232.3 L286.50 232.7 L287.00 232.7 L287.00 234.3 L287.50 234.3 L287.50 232.3 L288.00 232.3 L288.00 232.3 L288.50 232.3 L288.50 234.3 L289.00 234.3 L289.00 234.3 L289.50 234.3 L289.50 234.3 L290.00 234.3 L290.00 232.4 L290.50 232.4 L290.50 232.0 L291.00 232.0 L291.00 231.6 L291.50 231.6 L291.50 231.6 L292.00 231.6 L292.00 232.0 L292.50 232.0 L292.50 232.4 L293.00 232.4 L293.00 234.3 L293.50 234.3 L293.50 234.3 L294.00 234.3 L294.00 232.8 L294.50 232.8 L294.50 232.4 L295.00 232.4 L295.00 232.4 L295.50 232.4 L295.50 232.8 L296.00 232.8 L296.00 234.3 L296.50 234.3 L296.50 234.3 L297.00 234.3 L297.00 234.3 L297.50 234.3 L297.50 234.3 L298.00 234.3 L298.00 233.3 L298.50 233.3 L298.50 233.3 L299.00 233.3 L299.00 234.3 L299.50 234.3 L299.50 234.3 L300.00 234.3 L300.00 234.3 L300.50 234.3 L300.50 234.3 L301.00 234.3 L301.00 234.3 L301.50 234.3 L301.50 234.3 L302.00 234.3 L302.00 234.3 L302.50 234.3 L302.50 234.3 L303.00 234.3 L303.00 234.3 L303.50 234.3 L303.50 232.6 L304.00 232.6 L304.00 232.2 L304.50 232.2 L304.50 231.7 L305.00 231.7 L305.00 232.2 L305.50 232.2 L305.50 232.6 L306.00 232.6 L306.00 234.3 L306.50 234.3 L306.50 233.3 L307.00 233.3 L307.00 233.1 L307.50 233.1 L307.50 232.8 L308.00 232.8 L308.00 233.1 L308.50 233.1 L308.50 233.3 L309.00 233.3 L309.00 234.3 L309.50 234.3 L309.50 234.3 L310.00 234.3 L310.00 234.3 L310.50 234.3 L310.50 234.3 L311.00 234.3 L311.00 233.0 L311.50 233.0 L311.50 232.7 L312.00 232.7 L312.00 232.4 L312.50 232.4 L312.50 232.4 L313.00 232.4 L313.00 232.7 L313.50 232.7 L313.50 233.0 L314.00 233.0 L314.00 231.7 L314.50 231.7 L314.50 231.1 L315.00 231.1 L315.00 230.4 L315.50 230.4 L315.50 231.1 L316.00 231.1 L316.00 231.7 L316.50 231.7 L316.50 233.0 L317.00 233.0 L317.00 232.5 L317.50 232.5 L317.50 233.0 L318.00 233.0 L318.00 234.3 L318.50 234.3 L318.50 234.3 L319.00 234.3 L319.00 233.0 L319.50 233.0 L319.50 232.7 L320.00 232.7 L320.00 232.4 L320.50 232.4 L320.50 232.4 L321.00 232.4 L321.00 232.7 L321.50 232.7 L321.50 233.0 L322.00 233.0 L322.00 234.3 L322.50 234.3 L322.50 234.3 L323.00 234.3 L323.00 233.1 L323.50 233.1 L323.50 233.1 L324.00 233.1 L324.00 234.3 L324.50 234.3 L324.50 232.8 L325.00 232.8 L325.00 232.3 L325.50 232.3 L325.50 232.3 L326.00 232.3 L326.00 232.8 L326.50 232.8 L326.50 234.3 L327.00 234.3 L327.00 234.3 L327.50 234.3 L327.50 234.3 L328.00 234.3 L328.00 232.7 L328.50 232.7 L328.50 232.3 L329.00 232.3 L329.00 232.0 L329.50 232.0 L329.50 232.0 L330.00 232.0 L330.00 232.3 L330.50 232.3 L330.50 232.7 L331.00 232.7 L331.00 234.3 L331.50 234.3 L331.50 234.3 L332.00 234.3 L332.00 234.3 L332.50 234.3 L332.50 234.3 L333.00 234.3 L333.00 234.3 L333.50 234.3 L333.50 234.3 L334.00 234.3 L334.00 234.3 L334.50 234.3 L334.50 233.1 L335.00 233.1 L335.00 232.7 L335.50 232.7 L335.50 233.1 L336.00 233.1 L336.00 234.3 L336.50 234.3 L336.50 234.3 L337.00 234.3 L337.00 234.3 L337.50 234.3 L337.50 234.3 L338.00 234.3 L338.00 230.6 L338.50 230.6 L338.50 230.6 L339.00 230.6 L339.00 233.1 L339.50 233.1 L339.50 232.3 L340.00 232.3 L340.00 228.1 L340.50 228.1 L340.50 222.8 L341.00 222.8 L341.00 222.8 L341.50 222.8 L341.50 226.1 L342.00 226.1 L342.00 230.8 L342.50 230.8 L342.50 231.3 L343.00 231.3 L343.00 232.0 L343.50 232.0 L343.50 232.0 L344.00 232.0 L344.00 232.3 L344.50 232.3 L344.50 232.0 L345.00 232.0 L345.00 232.0 L345.50 232.0 L345.50 232.3 L346.00 232.3 L346.00 232.7 L346.50 232.7 L346.50 232.9 L347.00 232.9 L347.00 232.8 L347.50 232.8 L347.50 232.5 L348.00 232.5 L348.00 232.1 L348.50 232.1 L348.50 231.6 L349.00 231.6 L349.00 229.0 L349.50 229.0 L349.50 223.8 L350.00 223.8 L350.00 222.7 L350.50 222.7 L350.50 225.0 L351.00 225.0 L351.00 229.9 L351.50 229.9 L351.50 230.3 L352.00 230.3 L352.00 227.3 L352.50 227.3 L352.50 227.3 L353.00 227.3 L353.00 230.3 L353.50 230.3 L353.50 231.8 L354.00 231.8 L354.00 230.6 L354.50 230.6 L354.50 225.6 L355.00 225.6 L355.00 222.1 L355.50 222.1 L355.50 222.1 L356.00 222.1 L356.00 227.7 L356.50 227.7 L356.50 231.6 L357.00 231.6 L357.00 230.7 L357.50 230.7 L357.50 231.6 L358.00 231.6 L358.00 234.3 L358.50 234.3 L358.50 234.3 L359.00 234.3 L359.00 234.3 L359.50 234.3 L359.50 234.3 L360.00 234.3 L360.00 234.3 L360.50 234.3 L360.50 232.2 L361.00 232.2 L361.00 231.5 L361.50 231.5 L361.50 232.2 L362.00 232.2 L362.00 232.1 L362.50 232.1 L362.50 231.5 L363.00 231.5 L363.00 231.5 L363.50 231.5 L363.50 232.1 L364.00 232.1 L364.00 232.2 L364.50 232.2 L364.50 231.2 L365.00 231.2 L365.00 227.6 L365.50 227.6 L365.50 226.0 L366.00 226.0 L366.00 226.8 L366.50 226.8 L366.50 230.5 L367.00 230.5 L367.00 233.0 L367.50 233.0 L367.50 231.5 L368.00 231.5 L368.00 229.3 L368.50 229.3 L368.50 229.3 L369.00 229.3 L369.00 231.5 L369.50 231.5 L369.50 231.5 L370.00 231.5 L370.00 232.0 L370.50 232.0 L370.50 232.0 L371.00 232.0 L371.00 231.9 L371.50 231.9 L371.50 231.3 L372.00 231.3 L372.00 230.7 L372.50 230.7 L372.50 231.3 L373.00 231.3 L373.00 231.9 L373.50 231.9 L373.50 234.30 Z" fill="#111"/>
<line x1="257.00" y1="233.90" x2="373.50" y2="233.90" stroke="#111" stroke-width="0.8"/>
<path d="M257.00 251.30 L257.00 251.3 L257.50 251.3 L257.50 251.3 L258.00 251.3 L258.00 251.3 L258.50 251.3 L258.50 251.3 L259.00 251.3 L259.00 251.3 L259.50 251.3 L259.50 251.3 L260.00 251.3 L260.00 251.3 L260.50 251.3 L260.50 251.3 L261.00 251.3 L261.00 251.3 L261.50 251.3 L261.50 251.3 L262.00 251.3 L262.00 251.3 L262.50 251.3 L262.50 251.3 L263.00 251.3 L263.00 251.3 L263.50 251.3 L263.50 251.3 L264.00 251.3 L264.00 251.3 L264.50 251.3 L264.50 251.3 L265.00 251.3 L265.00 251.3 L265.50 251.3 L265.50 251.3 L266.00 251.3 L266.00 251.3 L266.50 251.3 L266.50 251.3 L267.00 251.3 L267.00 251.3 L267.50 251.3 L267.50 251.3 L268.00 251.3 L268.00 251.3 L268.50 251.3 L268.50 251.3 L269.00 251.3 L269.00 251.3 L269.50 251.3 L269.50 251.3 L270.00 251.3 L270.00 250.6 L270.50 250.6 L270.50 250.6 L271.00 250.6 L271.00 251.3 L271.50 251.3 L271.50 251.3 L272.00 251.3 L272.00 251.3 L272.50 251.3 L272.50 251.3 L273.00 251.3 L273.00 251.3 L273.50 251.3 L273.50 251.3 L274.00 251.3 L274.00 251.3 L274.50 251.3 L274.50 251.3 L275.00 251.3 L275.00 251.3 L275.50 251.3 L275.50 251.3 L276.00 251.3 L276.00 251.3 L276.50 251.3 L276.50 251.3 L277.00 251.3 L277.00 251.3 L277.50 251.3 L277.50 251.3 L278.00 251.3 L278.00 251.3 L278.50 251.3 L278.50 251.3 L279.00 251.3 L279.00 251.3 L279.50 251.3 L279.50 251.3 L280.00 251.3 L280.00 251.3 L280.50 251.3 L280.50 251.3 L281.00 251.3 L281.00 251.3 L281.50 251.3 L281.50 251.3 L282.00 251.3 L282.00 251.3 L282.50 251.3 L282.50 251.3 L283.00 251.3 L283.00 251.3 L283.50 251.3 L283.50 251.3 L284.00 251.3 L284.00 251.3 L284.50 251.3 L284.50 251.3 L285.00 251.3 L285.00 251.3 L285.50 251.3 L285.50 251.3 L286.00 251.3 L286.00 251.3 L286.50 251.3 L286.50 251.3 L287.00 251.3 L287.00 251.3 L287.50 251.3 L287.50 251.3 L288.00 251.3 L288.00 251.3 L288.50 251.3 L288.50 251.3 L289.00 251.3 L289.00 251.3 L289.50 251.3 L289.50 251.3 L290.00 251.3 L290.00 251.3 L290.50 251.3 L290.50 251.3 L291.00 251.3 L291.00 251.3 L291.50 251.3 L291.50 251.3 L292.00 251.3 L292.00 251.3 L292.50 251.3 L292.50 251.3 L293.00 251.3 L293.00 251.3 L293.50 251.3 L293.50 251.0 L294.00 251.0 L294.00 251.0 L294.50 251.0 L294.50 251.3 L295.00 251.3 L295.00 251.3 L295.50 251.3 L295.50 251.3 L296.00 251.3 L296.00 250.7 L296.50 250.7 L296.50 250.5 L297.00 250.5 L297.00 250.7 L297.50 250.7 L297.50 251.3 L298.00 251.3 L298.00 251.3 L298.50 251.3 L298.50 251.3 L299.00 251.3 L299.00 251.3 L299.50 251.3 L299.50 251.3 L300.00 251.3 L300.00 251.3 L300.50 251.3 L300.50 251.3 L301.00 251.3 L301.00 251.3 L301.50 251.3 L301.50 251.3 L302.00 251.3 L302.00 251.3 L302.50 251.3 L302.50 251.3 L303.00 251.3 L303.00 251.3 L303.50 251.3 L303.50 251.3 L304.00 251.3 L304.00 251.3 L304.50 251.3 L304.50 251.3 L305.00 251.3 L305.00 251.3 L305.50 251.3 L305.50 251.3 L306.00 251.3 L306.00 251.3 L306.50 251.3 L306.50 251.3 L307.00 251.3 L307.00 251.3 L307.50 251.3 L307.50 251.3 L308.00 251.3 L308.00 251.3 L308.50 251.3 L308.50 251.3 L309.00 251.3 L309.00 251.3 L309.50 251.3 L309.50 251.3 L310.00 251.3 L310.00 251.3 L310.50 251.3 L310.50 251.3 L311.00 251.3 L311.00 251.3 L311.50 251.3 L311.50 251.3 L312.00 251.3 L312.00 251.3 L312.50 251.3 L312.50 251.3 L313.00 251.3 L313.00 251.3 L313.50 251.3 L313.50 251.3 L314.00 251.3 L314.00 251.3 L314.50 251.3 L314.50 251.3 L315.00 251.3 L315.00 251.3 L315.50 251.3 L315.50 251.3 L316.00 251.3 L316.00 251.3 L316.50 251.3 L316.50 251.3 L317.00 251.3 L317.00 251.3 L317.50 251.3 L317.50 251.3 L318.00 251.3 L318.00 251.3 L318.50 251.3 L318.50 251.3 L319.00 251.3 L319.00 251.3 L319.50 251.3 L319.50 251.3 L320.00 251.3 L320.00 251.3 L320.50 251.3 L320.50 251.3 L321.00 251.3 L321.00 251.3 L321.50 251.3 L321.50 251.3 L322.00 251.3 L322.00 251.3 L322.50 251.3 L322.50 251.3 L323.00 251.3 L323.00 251.3 L323.50 251.3 L323.50 251.3 L324.00 251.3 L324.00 251.3 L324.50 251.3 L324.50 251.3 L325.00 251.3 L325.00 251.3 L325.50 251.3 L325.50 251.3 L326.00 251.3 L326.00 251.3 L326.50 251.3 L326.50 251.3 L327.00 251.3 L327.00 251.3 L327.50 251.3 L327.50 251.3 L328.00 251.3 L328.00 251.3 L328.50 251.3 L328.50 251.3 L329.00 251.3 L329.00 251.3 L329.50 251.3 L329.50 251.3 L330.00 251.3 L330.00 251.3 L330.50 251.3 L330.50 251.3 L331.00 251.3 L331.00 251.3 L331.50 251.3 L331.50 251.3 L332.00 251.3 L332.00 251.3 L332.50 251.3 L332.50 251.0 L333.00 251.0 L333.00 251.0 L333.50 251.0 L333.50 251.3 L334.00 251.3 L334.00 251.3 L334.50 251.3 L334.50 251.3 L335.00 251.3 L335.00 251.3 L335.50 251.3 L335.50 251.3 L336.00 251.3 L336.00 251.3 L336.50 251.3 L336.50 251.3 L337.00 251.3 L337.00 251.3 L337.50 251.3 L337.50 251.3 L338.00 251.3 L338.00 251.3 L338.50 251.3 L338.50 251.3 L339.00 251.3 L339.00 251.3 L339.50 251.3 L339.50 251.1 L340.00 251.1 L340.00 248.3 L340.50 248.3 L340.50 244.3 L341.00 244.3 L341.00 244.3 L341.50 244.3 L341.50 246.8 L342.00 246.8 L342.00 250.2 L342.50 250.2 L342.50 251.3 L343.00 251.3 L343.00 251.3 L343.50 251.3 L343.50 251.3 L344.00 251.3 L344.00 251.3 L344.50 251.3 L344.50 251.3 L345.00 251.3 L345.00 251.3 L345.50 251.3 L345.50 251.3 L346.00 251.3 L346.00 251.3 L346.50 251.3 L346.50 251.3 L347.00 251.3 L347.00 251.3 L347.50 251.3 L347.50 251.3 L348.00 251.3 L348.00 251.3 L348.50 251.3 L348.50 251.3 L349.00 251.3 L349.00 247.0 L349.50 247.0 L349.50 239.9 L350.00 239.9 L350.00 238.3 L350.50 238.3 L350.50 241.5 L351.00 241.5 L351.00 248.1 L351.50 248.1 L351.50 248.8 L352.00 248.8 L352.00 248.8 L352.50 248.8 L352.50 249.7 L353.00 249.7 L353.00 250.6 L353.50 250.6 L353.50 251.1 L354.00 251.1 L354.00 250.4 L354.50 250.4 L354.50 249.8 L355.00 249.8 L355.00 249.8 L355.50 249.8 L355.50 250.4 L356.00 250.4 L356.00 251.1 L356.50 251.1 L356.50 251.3 L357.00 251.3 L357.00 251.3 L357.50 251.3 L357.50 251.3 L358.00 251.3 L358.00 251.3 L358.50 251.3 L358.50 251.3 L359.00 251.3 L359.00 251.3 L359.50 251.3 L359.50 251.3 L360.00 251.3 L360.00 251.3 L360.50 251.3 L360.50 251.3 L361.00 251.3 L361.00 251.3 L361.50 251.3 L361.50 251.3 L362.00 251.3 L362.00 251.3 L362.50 251.3 L362.50 251.3 L363.00 251.3 L363.00 251.3 L363.50 251.3 L363.50 251.3 L364.00 251.3 L364.00 251.3 L364.50 251.3 L364.50 251.3 L365.00 251.3 L365.00 251.3 L365.50 251.3 L365.50 251.3 L366.00 251.3 L366.00 251.3 L366.50 251.3 L366.50 251.3 L367.00 251.3 L367.00 251.3 L367.50 251.3 L367.50 251.3 L368.00 251.3 L368.00 251.3 L368.50 251.3 L368.50 251.3 L369.00 251.3 L369.00 251.3 L369.50 251.3 L369.50 251.3 L370.00 251.3 L370.00 251.3 L370.50 251.3 L370.50 251.3 L371.00 251.3 L371.00 251.3 L371.50 251.3 L371.50 251.3 L372.00 251.3 L372.00 251.3 L372.50 251.3 L372.50 251.3 L373.00 251.3 L373.00 251.3 L373.50 251.3 L373.50 251.30 Z" fill="#601418"/>
<line x1="257.00" y1="250.90" x2="373.50" y2="250.90" stroke="#999" stroke-width="0.7" stroke-dasharray="1.3 2.4" opacity="0.8"/>
<path d="M257.00 267.50 L257.00 267.5 L257.50 267.5 L257.50 267.5 L258.00 267.5 L258.00 267.5 L258.50 267.5 L258.50 267.5 L259.00 267.5 L259.00 267.5 L259.50 267.5 L259.50 267.5 L260.00 267.5 L260.00 267.5 L260.50 267.5 L260.50 267.5 L261.00 267.5 L261.00 267.5 L261.50 267.5 L261.50 267.5 L262.00 267.5 L262.00 267.5 L262.50 267.5 L262.50 267.5 L263.00 267.5 L263.00 267.5 L263.50 267.5 L263.50 267.5 L264.00 267.5 L264.00 267.5 L264.50 267.5 L264.50 267.5 L265.00 267.5 L265.00 267.5 L265.50 267.5 L265.50 267.5 L266.00 267.5 L266.00 267.5 L266.50 267.5 L266.50 267.5 L267.00 267.5 L267.00 267.5 L267.50 267.5 L267.50 267.5 L268.00 267.5 L268.00 267.5 L268.50 267.5 L268.50 267.5 L269.00 267.5 L269.00 267.5 L269.50 267.5 L269.50 267.5 L270.00 267.5 L270.00 267.5 L270.50 267.5 L270.50 267.5 L271.00 267.5 L271.00 267.5 L271.50 267.5 L271.50 267.5 L272.00 267.5 L272.00 267.5 L272.50 267.5 L272.50 267.5 L273.00 267.5 L273.00 267.5 L273.50 267.5 L273.50 267.5 L274.00 267.5 L274.00 267.5 L274.50 267.5 L274.50 267.5 L275.00 267.5 L275.00 267.5 L275.50 267.5 L275.50 267.5 L276.00 267.5 L276.00 267.5 L276.50 267.5 L276.50 267.5 L277.00 267.5 L277.00 267.5 L277.50 267.5 L277.50 267.5 L278.00 267.5 L278.00 267.5 L278.50 267.5 L278.50 267.5 L279.00 267.5 L279.00 267.5 L279.50 267.5 L279.50 267.5 L280.00 267.5 L280.00 267.5 L280.50 267.5 L280.50 267.5 L281.00 267.5 L281.00 267.5 L281.50 267.5 L281.50 267.5 L282.00 267.5 L282.00 267.5 L282.50 267.5 L282.50 267.5 L283.00 267.5 L283.00 267.5 L283.50 267.5 L283.50 267.5 L284.00 267.5 L284.00 267.5 L284.50 267.5 L284.50 267.5 L285.00 267.5 L285.00 267.5 L285.50 267.5 L285.50 267.5 L286.00 267.5 L286.00 267.5 L286.50 267.5 L286.50 267.5 L287.00 267.5 L287.00 267.5 L287.50 267.5 L287.50 267.5 L288.00 267.5 L288.00 267.5 L288.50 267.5 L288.50 267.5 L289.00 267.5 L289.00 267.5 L289.50 267.5 L289.50 267.5 L290.00 267.5 L290.00 267.5 L290.50 267.5 L290.50 267.5 L291.00 267.5 L291.00 267.5 L291.50 267.5 L291.50 267.5 L292.00 267.5 L292.00 267.5 L292.50 267.5 L292.50 267.5 L293.00 267.5 L293.00 267.5 L293.50 267.5 L293.50 267.5 L294.00 267.5 L294.00 267.5 L294.50 267.5 L294.50 267.5 L295.00 267.5 L295.00 267.5 L295.50 267.5 L295.50 267.5 L296.00 267.5 L296.00 267.5 L296.50 267.5 L296.50 267.5 L297.00 267.5 L297.00 267.5 L297.50 267.5 L297.50 267.5 L298.00 267.5 L298.00 267.5 L298.50 267.5 L298.50 267.5 L299.00 267.5 L299.00 267.5 L299.50 267.5 L299.50 267.5 L300.00 267.5 L300.00 267.5 L300.50 267.5 L300.50 267.5 L301.00 267.5 L301.00 267.5 L301.50 267.5 L301.50 267.5 L302.00 267.5 L302.00 267.5 L302.50 267.5 L302.50 267.5 L303.00 267.5 L303.00 267.5 L303.50 267.5 L303.50 267.5 L304.00 267.5 L304.00 267.5 L304.50 267.5 L304.50 267.5 L305.00 267.5 L305.00 267.5 L305.50 267.5 L305.50 267.5 L306.00 267.5 L306.00 267.5 L306.50 267.5 L306.50 267.5 L307.00 267.5 L307.00 267.5 L307.50 267.5 L307.50 267.3 L308.00 267.3 L308.00 267.3 L308.50 267.3 L308.50 267.2 L309.00 267.2 L309.00 267.2 L309.50 267.2 L309.50 267.3 L310.00 267.3 L310.00 267.3 L310.50 267.3 L310.50 267.5 L311.00 267.5 L311.00 267.5 L311.50 267.5 L311.50 267.5 L312.00 267.5 L312.00 267.5 L312.50 267.5 L312.50 267.5 L313.00 267.5 L313.00 267.5 L313.50 267.5 L313.50 267.5 L314.00 267.5 L314.00 267.5 L314.50 267.5 L314.50 267.5 L315.00 267.5 L315.00 267.5 L315.50 267.5 L315.50 267.5 L316.00 267.5 L316.00 267.5 L316.50 267.5 L316.50 267.5 L317.00 267.5 L317.00 267.5 L317.50 267.5 L317.50 267.5 L318.00 267.5 L318.00 267.0 L318.50 267.0 L318.50 266.8 L319.00 266.8 L319.00 266.7 L319.50 266.7 L319.50 266.8 L320.00 266.8 L320.00 267.0 L320.50 267.0 L320.50 267.5 L321.00 267.5 L321.00 267.5 L321.50 267.5 L321.50 267.5 L322.00 267.5 L322.00 267.5 L322.50 267.5 L322.50 267.5 L323.00 267.5 L323.00 267.5 L323.50 267.5 L323.50 267.5 L324.00 267.5 L324.00 267.5 L324.50 267.5 L324.50 267.5 L325.00 267.5 L325.00 267.5 L325.50 267.5 L325.50 267.2 L326.00 267.2 L326.00 267.2 L326.50 267.2 L326.50 267.2 L327.00 267.2 L327.00 267.2 L327.50 267.2 L327.50 267.5 L328.00 267.5 L328.00 267.5 L328.50 267.5 L328.50 267.5 L329.00 267.5 L329.00 267.5 L329.50 267.5 L329.50 267.5 L330.00 267.5 L330.00 267.5 L330.50 267.5 L330.50 267.5 L331.00 267.5 L331.00 267.5 L331.50 267.5 L331.50 267.5 L332.00 267.5 L332.00 267.5 L332.50 267.5 L332.50 267.5 L333.00 267.5 L333.00 267.5 L333.50 267.5 L333.50 267.5 L334.00 267.5 L334.00 267.5 L334.50 267.5 L334.50 267.5 L335.00 267.5 L335.00 267.5 L335.50 267.5 L335.50 267.5 L336.00 267.5 L336.00 267.5 L336.50 267.5 L336.50 267.5 L337.00 267.5 L337.00 267.5 L337.50 267.5 L337.50 267.5 L338.00 267.5 L338.00 267.5 L338.50 267.5 L338.50 267.5 L339.00 267.5 L339.00 267.1 L339.50 267.1 L339.50 262.8 L340.00 262.8 L340.00 256.5 L340.50 256.5 L340.50 256.5 L341.00 256.5 L341.00 260.5 L341.50 260.5 L341.50 265.7 L342.00 265.7 L342.00 267.5 L342.50 267.5 L342.50 267.5 L343.00 267.5 L343.00 267.5 L343.50 267.5 L343.50 267.5 L344.00 267.5 L344.00 267.5 L344.50 267.5 L344.50 267.5 L345.00 267.5 L345.00 267.5 L345.50 267.5 L345.50 267.5 L346.00 267.5 L346.00 267.5 L346.50 267.5 L346.50 267.5 L347.00 267.5 L347.00 267.5 L347.50 267.5 L347.50 267.5 L348.00 267.5 L348.00 267.5 L348.50 267.5 L348.50 267.3 L349.00 267.3 L349.00 263.9 L349.50 263.9 L349.50 257.9 L350.00 257.9 L350.00 256.5 L350.50 256.5 L350.50 259.2 L351.00 259.2 L351.00 264.8 L351.50 264.8 L351.50 267.5 L352.00 267.5 L352.00 267.5 L352.50 267.5 L352.50 267.5 L353.00 267.5 L353.00 267.5 L353.50 267.5 L353.50 267.5 L354.00 267.5 L354.00 267.2 L354.50 267.2 L354.50 265.7 L355.00 265.7 L355.00 264.5 L355.50 264.5 L355.50 264.5 L356.00 264.5 L356.00 266.4 L356.50 266.4 L356.50 267.5 L357.00 267.5 L357.00 267.5 L357.50 267.5 L357.50 267.5 L358.00 267.5 L358.00 267.5 L358.50 267.5 L358.50 267.5 L359.00 267.5 L359.00 267.5 L359.50 267.5 L359.50 267.5 L360.00 267.5 L360.00 267.5 L360.50 267.5 L360.50 267.0 L361.00 267.0 L361.00 266.8 L361.50 266.8 L361.50 267.0 L362.00 267.0 L362.00 267.5 L362.50 267.5 L362.50 267.5 L363.00 267.5 L363.00 267.5 L363.50 267.5 L363.50 267.5 L364.00 267.5 L364.00 267.5 L364.50 267.5 L364.50 267.5 L365.00 267.5 L365.00 267.5 L365.50 267.5 L365.50 267.5 L366.00 267.5 L366.00 267.5 L366.50 267.5 L366.50 267.5 L367.00 267.5 L367.00 267.5 L367.50 267.5 L367.50 267.5 L368.00 267.5 L368.00 267.5 L368.50 267.5 L368.50 267.5 L369.00 267.5 L369.00 267.5 L369.50 267.5 L369.50 267.5 L370.00 267.5 L370.00 267.5 L370.50 267.5 L370.50 267.5 L371.00 267.5 L371.00 267.5 L371.50 267.5 L371.50 267.5 L372.00 267.5 L372.00 267.5 L372.50 267.5 L372.50 267.5 L373.00 267.5 L373.00 267.5 L373.50 267.5 L373.50 267.50 Z" fill="#5c1a1c"/>
<line x1="257.00" y1="267.10" x2="373.50" y2="267.10" stroke="#999" stroke-width="0.7" stroke-dasharray="1.3 2.4" opacity="0.8"/>
<path d="M257.00 284.50 L257.00 284.5 L257.50 284.5 L257.50 284.5 L258.00 284.5 L258.00 284.5 L258.50 284.5 L258.50 284.5 L259.00 284.5 L259.00 284.5 L259.50 284.5 L259.50 284.5 L260.00 284.5 L260.00 284.5 L260.50 284.5 L260.50 284.5 L261.00 284.5 L261.00 284.5 L261.50 284.5 L261.50 284.5 L262.00 284.5 L262.00 284.5 L262.50 284.5 L262.50 284.5 L263.00 284.5 L263.00 284.5 L263.50 284.5 L263.50 284.5 L264.00 284.5 L264.00 284.5 L264.50 284.5 L264.50 284.5 L265.00 284.5 L265.00 284.5 L265.50 284.5 L265.50 284.5 L266.00 284.5 L266.00 284.5 L266.50 284.5 L266.50 284.5 L267.00 284.5 L267.00 284.5 L267.50 284.5 L267.50 284.5 L268.00 284.5 L268.00 284.5 L268.50 284.5 L268.50 284.5 L269.00 284.5 L269.00 284.5 L269.50 284.5 L269.50 284.5 L270.00 284.5 L270.00 284.5 L270.50 284.5 L270.50 284.5 L271.00 284.5 L271.00 284.5 L271.50 284.5 L271.50 284.5 L272.00 284.5 L272.00 284.2 L272.50 284.2 L272.50 284.2 L273.00 284.2 L273.00 284.5 L273.50 284.5 L273.50 284.5 L274.00 284.5 L274.00 284.2 L274.50 284.2 L274.50 284.1 L275.00 284.1 L275.00 284.1 L275.50 284.1 L275.50 284.2 L276.00 284.2 L276.00 284.5 L276.50 284.5 L276.50 284.5 L277.00 284.5 L277.00 284.5 L277.50 284.5 L277.50 284.5 L278.00 284.5 L278.00 284.5 L278.50 284.5 L278.50 284.5 L279.00 284.5 L279.00 284.5 L279.50 284.5 L279.50 284.5 L280.00 284.5 L280.00 284.5 L280.50 284.5 L280.50 284.5 L281.00 284.5 L281.00 284.5 L281.50 284.5 L281.50 284.5 L282.00 284.5 L282.00 284.5 L282.50 284.5 L282.50 284.5 L283.00 284.5 L283.00 284.5 L283.50 284.5 L283.50 284.5 L284.00 284.5 L284.00 284.5 L284.50 284.5 L284.50 284.5 L285.00 284.5 L285.00 284.5 L285.50 284.5 L285.50 284.5 L286.00 284.5 L286.00 284.5 L286.50 284.5 L286.50 284.5 L287.00 284.5 L287.00 284.5 L287.50 284.5 L287.50 284.5 L288.00 284.5 L288.00 284.5 L288.50 284.5 L288.50 284.5 L289.00 284.5 L289.00 284.5 L289.50 284.5 L289.50 284.3 L290.00 284.3 L290.00 284.2 L290.50 284.2 L290.50 284.2 L291.00 284.2 L291.00 284.2 L291.50 284.2 L291.50 284.3 L292.00 284.3 L292.00 284.5 L292.50 284.5 L292.50 284.5 L293.00 284.5 L293.00 284.5 L293.50 284.5 L293.50 284.5 L294.00 284.5 L294.00 284.5 L294.50 284.5 L294.50 284.5 L295.00 284.5 L295.00 284.5 L295.50 284.5 L295.50 284.5 L296.00 284.5 L296.00 284.5 L296.50 284.5 L296.50 284.5 L297.00 284.5 L297.00 284.5 L297.50 284.5 L297.50 284.5 L298.00 284.5 L298.00 284.5 L298.50 284.5 L298.50 284.5 L299.00 284.5 L299.00 284.5 L299.50 284.5 L299.50 284.5 L300.00 284.5 L300.00 284.5 L300.50 284.5 L300.50 284.5 L301.00 284.5 L301.00 284.5 L301.50 284.5 L301.50 284.5 L302.00 284.5 L302.00 284.5 L302.50 284.5 L302.50 284.5 L303.00 284.5 L303.00 284.5 L303.50 284.5 L303.50 284.5 L304.00 284.5 L304.00 284.5 L304.50 284.5 L304.50 284.5 L305.00 284.5 L305.00 284.2 L305.50 284.2 L305.50 284.1 L306.00 284.1 L306.00 284.0 L306.50 284.0 L306.50 284.0 L307.00 284.0 L307.00 284.1 L307.50 284.1 L307.50 284.2 L308.00 284.2 L308.00 284.5 L308.50 284.5 L308.50 284.5 L309.00 284.5 L309.00 284.5 L309.50 284.5 L309.50 284.5 L310.00 284.5 L310.00 284.5 L310.50 284.5 L310.50 284.5 L311.00 284.5 L311.00 284.5 L311.50 284.5 L311.50 284.5 L312.00 284.5 L312.00 284.5 L312.50 284.5 L312.50 284.5 L313.00 284.5 L313.00 284.5 L313.50 284.5 L313.50 284.5 L314.00 284.5 L314.00 284.5 L314.50 284.5 L314.50 284.5 L315.00 284.5 L315.00 284.5 L315.50 284.5 L315.50 284.5 L316.00 284.5 L316.00 284.5 L316.50 284.5 L316.50 284.5 L317.00 284.5 L317.00 284.5 L317.50 284.5 L317.50 284.5 L318.00 284.5 L318.00 283.9 L318.50 283.9 L318.50 283.7 L319.00 283.7 L319.00 283.9 L319.50 283.9 L319.50 284.5 L320.00 284.5 L320.00 284.5 L320.50 284.5 L320.50 284.5 L321.00 284.5 L321.00 284.5 L321.50 284.5 L321.50 284.5 L322.00 284.5 L322.00 284.5 L322.50 284.5 L322.50 284.5 L323.00 284.5 L323.00 284.5 L323.50 284.5 L323.50 284.5 L324.00 284.5 L324.00 284.5 L324.50 284.5 L324.50 284.5 L325.00 284.5 L325.00 284.0 L325.50 284.0 L325.50 283.9 L326.00 283.9 L326.00 283.8 L326.50 283.8 L326.50 283.8 L327.00 283.8 L327.00 283.9 L327.50 283.9 L327.50 284.0 L328.00 284.0 L328.00 284.5 L328.50 284.5 L328.50 284.5 L329.00 284.5 L329.00 284.5 L329.50 284.5 L329.50 284.5 L330.00 284.5 L330.00 284.5 L330.50 284.5 L330.50 284.5 L331.00 284.5 L331.00 284.5 L331.50 284.5 L331.50 284.5 L332.00 284.5 L332.00 284.5 L332.50 284.5 L332.50 284.5 L333.00 284.5 L333.00 284.5 L333.50 284.5 L333.50 284.1 L334.00 284.1 L334.00 284.0 L334.50 284.0 L334.50 283.9 L335.00 283.9 L335.00 284.0 L335.50 284.0 L335.50 284.1 L336.00 284.1 L336.00 284.5 L336.50 284.5 L336.50 284.5 L337.00 284.5 L337.00 284.2 L337.50 284.2 L337.50 284.2 L338.00 284.2 L338.00 284.5 L338.50 284.5 L338.50 281.4 L339.00 281.4 L339.00 282.2 L339.50 282.2 L339.50 280.3 L340.00 280.3 L340.00 278.5 L340.50 278.5 L340.50 278.5 L341.00 278.5 L341.00 280.3 L341.50 280.3 L341.50 281.5 L342.00 281.5 L342.00 279.5 L342.50 279.5 L342.50 279.5 L343.00 279.5 L343.00 280.2 L343.50 280.2 L343.50 283.5 L344.00 283.5 L344.00 284.5 L344.50 284.5 L344.50 284.5 L345.00 284.5 L345.00 284.5 L345.50 284.5 L345.50 284.5 L346.00 284.5 L346.00 284.5 L346.50 284.5 L346.50 284.5 L347.00 284.5 L347.00 283.6 L347.50 283.6 L347.50 282.2 L348.00 282.2 L348.00 281.5 L348.50 281.5 L348.50 281.8 L349.00 281.8 L349.00 283.4 L349.50 283.4 L349.50 284.4 L350.00 284.4 L350.00 284.3 L350.50 284.3 L350.50 282.0 L351.00 282.0 L351.00 278.7 L351.50 278.7 L351.50 275.5 L352.00 275.5 L352.00 275.5 L352.50 275.5 L352.50 276.3 L353.00 276.3 L353.00 272.8 L353.50 272.8 L353.50 272.8 L354.00 272.8 L354.00 276.3 L354.50 276.3 L354.50 280.1 L355.00 280.1 L355.00 281.1 L355.50 281.1 L355.50 281.1 L356.00 281.1 L356.00 284.5 L356.50 284.5 L356.50 284.0 L357.00 284.0 L357.00 283.9 L357.50 283.9 L357.50 283.8 L358.00 283.8 L358.00 283.8 L358.50 283.8 L358.50 283.9 L359.00 283.9 L359.00 284.0 L359.50 284.0 L359.50 284.5 L360.00 284.5 L360.00 284.5 L360.50 284.5 L360.50 284.5 L361.00 284.5 L361.00 284.5 L361.50 284.5 L361.50 284.5 L362.00 284.5 L362.00 284.3 L362.50 284.3 L362.50 284.2 L363.00 284.2 L363.00 284.2 L363.50 284.2 L363.50 284.3 L364.00 284.3 L364.00 284.5 L364.50 284.5 L364.50 282.8 L365.00 282.8 L365.00 280.0 L365.50 280.0 L365.50 276.5 L366.00 276.5 L366.00 276.5 L366.50 276.5 L366.50 280.0 L367.00 280.0 L367.00 283.3 L367.50 283.3 L367.50 283.3 L368.00 283.3 L368.00 281.6 L368.50 281.6 L368.50 281.6 L369.00 281.6 L369.00 281.1 L369.50 281.1 L369.50 278.5 L370.00 278.5 L370.00 278.5 L370.50 278.5 L370.50 281.1 L371.00 281.1 L371.00 281.6 L371.50 281.6 L371.50 284.5 L372.00 284.5 L372.00 284.5 L372.50 284.5 L372.50 284.5 L373.00 284.5 L373.00 284.5 L373.50 284.5 L373.50 284.50 Z" fill="#1a3e36"/>
<line x1="257.00" y1="284.10" x2="373.50" y2="284.10" stroke="#999" stroke-width="0.7" stroke-dasharray="1.3 2.4" opacity="0.8"/>
<path d="M257.00 301.20 L257.00 301.2 L257.50 301.2 L257.50 301.2 L258.00 301.2 L258.00 301.2 L258.50 301.2 L258.50 300.8 L259.00 300.8 L259.00 300.7 L259.50 300.7 L259.50 300.8 L260.00 300.8 L260.00 301.2 L260.50 301.2 L260.50 301.2 L261.00 301.2 L261.00 301.2 L261.50 301.2 L261.50 301.2 L262.00 301.2 L262.00 301.2 L262.50 301.2 L262.50 301.2 L263.00 301.2 L263.00 301.2 L263.50 301.2 L263.50 301.2 L264.00 301.2 L264.00 301.2 L264.50 301.2 L264.50 301.2 L265.00 301.2 L265.00 301.2 L265.50 301.2 L265.50 301.2 L266.00 301.2 L266.00 301.2 L266.50 301.2 L266.50 301.2 L267.00 301.2 L267.00 301.2 L267.50 301.2 L267.50 301.2 L268.00 301.2 L268.00 301.2 L268.50 301.2 L268.50 301.2 L269.00 301.2 L269.00 301.2 L269.50 301.2 L269.50 301.2 L270.00 301.2 L270.00 301.2 L270.50 301.2 L270.50 301.2 L271.00 301.2 L271.00 301.2 L271.50 301.2 L271.50 301.2 L272.00 301.2 L272.00 301.2 L272.50 301.2 L272.50 301.2 L273.00 301.2 L273.00 301.2 L273.50 301.2 L273.50 301.2 L274.00 301.2 L274.00 301.2 L274.50 301.2 L274.50 301.2 L275.00 301.2 L275.00 301.2 L275.50 301.2 L275.50 301.2 L276.00 301.2 L276.00 301.2 L276.50 301.2 L276.50 301.2 L277.00 301.2 L277.00 301.2 L277.50 301.2 L277.50 301.2 L278.00 301.2 L278.00 301.2 L278.50 301.2 L278.50 301.2 L279.00 301.2 L279.00 301.2 L279.50 301.2 L279.50 301.2 L280.00 301.2 L280.00 301.2 L280.50 301.2 L280.50 301.2 L281.00 301.2 L281.00 301.2 L281.50 301.2 L281.50 301.2 L282.00 301.2 L282.00 301.2 L282.50 301.2 L282.50 301.2 L283.00 301.2 L283.00 301.2 L283.50 301.2 L283.50 301.2 L284.00 301.2 L284.00 301.2 L284.50 301.2 L284.50 301.2 L285.00 301.2 L285.00 301.2 L285.50 301.2 L285.50 301.2 L286.00 301.2 L286.00 301.2 L286.50 301.2 L286.50 301.2 L287.00 301.2 L287.00 301.2 L287.50 301.2 L287.50 301.2 L288.00 301.2 L288.00 301.2 L288.50 301.2 L288.50 301.2 L289.00 301.2 L289.00 301.2 L289.50 301.2 L289.50 301.2 L290.00 301.2 L290.00 301.2 L290.50 301.2 L290.50 301.2 L291.00 301.2 L291.00 301.2 L291.50 301.2 L291.50 301.2 L292.00 301.2 L292.00 301.2 L292.50 301.2 L292.50 301.2 L293.00 301.2 L293.00 301.2 L293.50 301.2 L293.50 301.2 L294.00 301.2 L294.00 301.2 L294.50 301.2 L294.50 301.2 L295.00 301.2 L295.00 301.2 L295.50 301.2 L295.50 301.2 L296.00 301.2 L296.00 301.2 L296.50 301.2 L296.50 301.2 L297.00 301.2 L297.00 301.2 L297.50 301.2 L297.50 301.2 L298.00 301.2 L298.00 301.2 L298.50 301.2 L298.50 301.2 L299.00 301.2 L299.00 301.2 L299.50 301.2 L299.50 301.2 L300.00 301.2 L300.00 301.2 L300.50 301.2 L300.50 301.2 L301.00 301.2 L301.00 301.2 L301.50 301.2 L301.50 301.2 L302.00 301.2 L302.00 301.2 L302.50 301.2 L302.50 301.2 L303.00 301.2 L303.00 301.2 L303.50 301.2 L303.50 301.2 L304.00 301.2 L304.00 301.2 L304.50 301.2 L304.50 301.2 L305.00 301.2 L305.00 301.2 L305.50 301.2 L305.50 301.2 L306.00 301.2 L306.00 301.2 L306.50 301.2 L306.50 301.2 L307.00 301.2 L307.00 301.2 L307.50 301.2 L307.50 301.2 L308.00 301.2 L308.00 301.2 L308.50 301.2 L308.50 301.2 L309.00 301.2 L309.00 301.2 L309.50 301.2 L309.50 301.2 L310.00 301.2 L310.00 301.2 L310.50 301.2 L310.50 301.2 L311.00 301.2 L311.00 301.2 L311.50 301.2 L311.50 301.2 L312.00 301.2 L312.00 301.2 L312.50 301.2 L312.50 301.2 L313.00 301.2 L313.00 301.2 L313.50 301.2 L313.50 300.9 L314.00 300.9 L314.00 300.8 L314.50 300.8 L314.50 300.8 L315.00 300.8 L315.00 300.9 L315.50 300.9 L315.50 301.2 L316.00 301.2 L316.00 301.2 L316.50 301.2 L316.50 301.2 L317.00 301.2 L317.00 301.2 L317.50 301.2 L317.50 301.2 L318.00 301.2 L318.00 301.2 L318.50 301.2 L318.50 301.2 L319.00 301.2 L319.00 301.2 L319.50 301.2 L319.50 301.2 L320.00 301.2 L320.00 301.2 L320.50 301.2 L320.50 301.2 L321.00 301.2 L321.00 301.2 L321.50 301.2 L321.50 301.2 L322.00 301.2 L322.00 301.2 L322.50 301.2 L322.50 301.2 L323.00 301.2 L323.00 301.2 L323.50 301.2 L323.50 301.2 L324.00 301.2 L324.00 301.2 L324.50 301.2 L324.50 301.2 L325.00 301.2 L325.00 301.2 L325.50 301.2 L325.50 301.2 L326.00 301.2 L326.00 301.2 L326.50 301.2 L326.50 301.2 L327.00 301.2 L327.00 301.2 L327.50 301.2 L327.50 301.2 L328.00 301.2 L328.00 301.2 L328.50 301.2 L328.50 301.2 L329.00 301.2 L329.00 301.2 L329.50 301.2 L329.50 301.2 L330.00 301.2 L330.00 301.2 L330.50 301.2 L330.50 301.2 L331.00 301.2 L331.00 301.2 L331.50 301.2 L331.50 301.2 L332.00 301.2 L332.00 301.2 L332.50 301.2 L332.50 301.2 L333.00 301.2 L333.00 301.2 L333.50 301.2 L333.50 300.8 L334.00 300.8 L334.00 300.7 L334.50 300.7 L334.50 300.8 L335.00 300.8 L335.00 301.2 L335.50 301.2 L335.50 301.2 L336.00 301.2 L336.00 301.2 L336.50 301.2 L336.50 301.2 L337.00 301.2 L337.00 301.2 L337.50 301.2 L337.50 301.2 L338.00 301.2 L338.00 300.9 L338.50 300.9 L338.50 297.5 L339.00 297.5 L339.00 292.5 L339.50 292.5 L339.50 290.2 L340.00 290.2 L340.00 291.4 L340.50 291.4 L340.50 294.2 L341.00 294.2 L341.00 294.2 L341.50 294.2 L341.50 296.8 L342.00 296.8 L342.00 299.5 L342.50 299.5 L342.50 300.5 L343.00 300.5 L343.00 301.2 L343.50 301.2 L343.50 301.2 L344.00 301.2 L344.00 301.2 L344.50 301.2 L344.50 301.2 L345.00 301.2 L345.00 301.2 L345.50 301.2 L345.50 301.2 L346.00 301.2 L346.00 301.2 L346.50 301.2 L346.50 301.2 L347.00 301.2 L347.00 301.2 L347.50 301.2 L347.50 301.2 L348.00 301.2 L348.00 301.2 L348.50 301.2 L348.50 301.2 L349.00 301.2 L349.00 300.6 L349.50 300.6 L349.50 297.8 L350.00 297.8 L350.00 293.9 L350.50 293.9 L350.50 292.2 L351.00 292.2 L351.00 293.1 L351.50 293.1 L351.50 297.1 L352.00 297.1 L352.00 299.0 L352.50 299.0 L352.50 299.0 L353.00 299.0 L353.00 301.2 L353.50 301.2 L353.50 301.2 L354.00 301.2 L354.00 301.2 L354.50 301.2 L354.50 301.2 L355.00 301.2 L355.00 301.2 L355.50 301.2 L355.50 301.2 L356.00 301.2 L356.00 301.2 L356.50 301.2 L356.50 301.2 L357.00 301.2 L357.00 301.2 L357.50 301.2 L357.50 301.2 L358.00 301.2 L358.00 301.2 L358.50 301.2 L358.50 301.2 L359.00 301.2 L359.00 301.2 L359.50 301.2 L359.50 301.2 L360.00 301.2 L360.00 301.2 L360.50 301.2 L360.50 301.2 L361.00 301.2 L361.00 301.2 L361.50 301.2 L361.50 301.2 L362.00 301.2 L362.00 301.2 L362.50 301.2 L362.50 301.2 L363.00 301.2 L363.00 301.2 L363.50 301.2 L363.50 301.2 L364.00 301.2 L364.00 301.2 L364.50 301.2 L364.50 301.2 L365.00 301.2 L365.00 301.2 L365.50 301.2 L365.50 300.6 L366.00 300.6 L366.00 299.6 L366.50 299.6 L366.50 298.7 L367.00 298.7 L367.00 298.7 L367.50 298.7 L367.50 299.6 L368.00 299.6 L368.00 300.6 L368.50 300.6 L368.50 301.2 L369.00 301.2 L369.00 301.2 L369.50 301.2 L369.50 301.2 L370.00 301.2 L370.00 301.2 L370.50 301.2 L370.50 301.2 L371.00 301.2 L371.00 301.2 L371.50 301.2 L371.50 301.2 L372.00 301.2 L372.00 301.2 L372.50 301.2 L372.50 301.2 L373.00 301.2 L373.00 301.2 L373.50 301.2 L373.50 301.20 Z" fill="#5a2a76"/>
<line x1="257.00" y1="300.80" x2="373.50" y2="300.80" stroke="#999" stroke-width="0.7" stroke-dasharray="1.3 2.4" opacity="0.8"/>
<path d="M397.50 233.70 L397.50 232.4 L398.00 232.4 L398.00 232.0 L398.50 232.0 L398.50 231.7 L399.00 231.7 L399.00 232.0 L399.50 232.0 L399.50 232.4 L400.00 232.4 L400.00 233.7 L400.50 233.7 L400.50 233.7 L401.00 233.7 L401.00 233.7 L401.50 233.7 L401.50 233.7 L402.00 233.7 L402.00 233.7 L402.50 233.7 L402.50 233.7 L403.00 233.7 L403.00 233.7 L403.50 233.7 L403.50 233.7 L404.00 233.7 L404.00 232.9 L404.50 232.9 L404.50 232.7 L405.00 232.7 L405.00 232.5 L405.50 232.5 L405.50 232.5 L406.00 232.5 L406.00 232.7 L406.50 232.7 L406.50 232.9 L407.00 232.9 L407.00 232.7 L407.50 232.7 L407.50 232.4 L408.00 232.4 L408.00 232.2 L408.50 232.2 L408.50 232.2 L409.00 232.2 L409.00 232.4 L409.50 232.4 L409.50 232.7 L410.00 232.7 L410.00 233.7 L410.50 233.7 L410.50 233.7 L411.00 233.7 L411.00 233.7 L411.50 233.7 L411.50 233.7 L412.00 233.7 L412.00 233.7 L412.50 233.7 L412.50 232.4 L413.00 232.4 L413.00 232.1 L413.50 232.1 L413.50 231.7 L414.00 231.7 L414.00 232.1 L414.50 232.1 L414.50 232.4 L415.00 232.4 L415.00 233.7 L415.50 233.7 L415.50 233.7 L416.00 233.7 L416.00 233.7 L416.50 233.7 L416.50 233.7 L417.00 233.7 L417.00 233.7 L417.50 233.7 L417.50 233.7 L418.00 233.7 L418.00 233.7 L418.50 233.7 L418.50 233.7 L419.00 233.7 L419.00 233.7 L419.50 233.7 L419.50 233.7 L420.00 233.7 L420.00 233.7 L420.50 233.7 L420.50 233.7 L421.00 233.7 L421.00 232.8 L421.50 232.8 L421.50 232.8 L422.00 232.8 L422.00 233.7 L422.50 233.7 L422.50 233.7 L423.00 233.7 L423.00 233.7 L423.50 233.7 L423.50 233.7 L424.00 233.7 L424.00 233.7 L424.50 233.7 L424.50 233.7 L425.00 233.7 L425.00 233.7 L425.50 233.7 L425.50 233.7 L426.00 233.7 L426.00 233.7 L426.50 233.7 L426.50 233.0 L427.00 233.0 L427.00 232.8 L427.50 232.8 L427.50 232.6 L428.00 232.6 L428.00 232.8 L428.50 232.8 L428.50 233.0 L429.00 233.0 L429.00 233.0 L429.50 233.0 L429.50 232.7 L430.00 232.7 L430.00 233.0 L430.50 233.0 L430.50 233.7 L431.00 233.7 L431.00 233.7 L431.50 233.7 L431.50 233.7 L432.00 233.7 L432.00 233.7 L432.50 233.7 L432.50 233.7 L433.00 233.7 L433.00 233.7 L433.50 233.7 L433.50 233.7 L434.00 233.7 L434.00 233.7 L434.50 233.7 L434.50 233.7 L435.00 233.7 L435.00 233.7 L435.50 233.7 L435.50 233.7 L436.00 233.7 L436.00 233.7 L436.50 233.7 L436.50 233.7 L437.00 233.7 L437.00 233.7 L437.50 233.7 L437.50 232.6 L438.00 232.6 L438.00 232.4 L438.50 232.4 L438.50 232.1 L439.00 232.1 L439.00 232.1 L439.50 232.1 L439.50 232.4 L440.00 232.4 L440.00 232.6 L440.50 232.6 L440.50 233.7 L441.00 233.7 L441.00 233.7 L441.50 233.7 L441.50 233.7 L442.00 233.7 L442.00 231.8 L442.50 231.8 L442.50 231.2 L443.00 231.2 L443.00 231.8 L443.50 231.8 L443.50 233.7 L444.00 233.7 L444.00 233.7 L444.50 233.7 L444.50 233.7 L445.00 233.7 L445.00 232.5 L445.50 232.5 L445.50 232.2 L446.00 232.2 L446.00 231.9 L446.50 231.9 L446.50 232.2 L447.00 232.2 L447.00 232.5 L447.50 232.5 L447.50 233.7 L448.00 233.7 L448.00 233.7 L448.50 233.7 L448.50 233.7 L449.00 233.7 L449.00 233.7 L449.50 233.7 L449.50 232.8 L450.00 232.8 L450.00 232.8 L450.50 232.8 L450.50 233.7 L451.00 233.7 L451.00 233.7 L451.50 233.7 L451.50 233.7 L452.00 233.7 L452.00 232.2 L452.50 232.2 L452.50 232.2 L453.00 232.2 L453.00 233.7 L453.50 233.7 L453.50 233.7 L454.00 233.7 L454.00 231.2 L454.50 231.2 L454.50 231.5 L455.00 231.5 L455.00 231.5 L455.50 231.5 L455.50 230.3 L456.00 230.3 L456.00 230.3 L456.50 230.3 L456.50 231.0 L457.00 231.0 L457.00 231.0 L457.50 231.0 L457.50 232.1 L458.00 232.1 L458.00 232.1 L458.50 232.1 L458.50 230.4 L459.00 230.4 L459.00 230.4 L459.50 230.4 L459.50 231.0 L460.00 231.0 L460.00 228.1 L460.50 228.1 L460.50 226.7 L461.00 226.7 L461.00 227.4 L461.50 227.4 L461.50 230.5 L462.00 230.5 L462.00 230.6 L462.50 230.6 L462.50 231.0 L463.00 231.0 L463.00 231.0 L463.50 231.0 L463.50 231.2 L464.00 231.2 L464.00 231.2 L464.50 231.2 L464.50 230.7 L465.00 230.7 L465.00 230.7 L465.50 230.7 L465.50 232.5 L466.00 232.5 L466.00 231.7 L466.50 231.7 L466.50 230.3 L467.00 230.3 L467.00 230.3 L467.50 230.3 L467.50 231.5 L468.00 231.5 L468.00 231.5 L468.50 231.5 L468.50 230.4 L469.00 230.4 L469.00 230.4 L469.50 230.4 L469.50 231.5 L470.00 231.5 L470.00 231.5 L470.50 231.5 L470.50 231.1 L471.00 231.1 L471.00 231.1 L471.50 231.1 L471.50 229.2 L472.00 229.2 L472.00 229.2 L472.50 229.2 L472.50 231.1 L473.00 231.1 L473.00 231.8 L473.50 231.8 L473.50 230.2 L474.00 230.2 L474.00 230.2 L474.50 230.2 L474.50 231.0 L475.00 231.0 L475.00 231.0 L475.50 231.0 L475.50 230.7 L476.00 230.7 L476.00 230.7 L476.50 230.7 L476.50 231.9 L477.00 231.9 L477.00 231.9 L477.50 231.9 L477.50 232.2 L478.00 232.2 L478.00 233.7 L478.50 233.7 L478.50 233.7 L479.00 233.7 L479.00 232.5 L479.50 232.5 L479.50 232.1 L480.00 232.1 L480.00 231.9 L480.50 231.9 L480.50 230.2 L481.00 230.2 L481.00 230.2 L481.50 230.2 L481.50 229.5 L482.00 229.5 L482.00 229.2 L482.50 229.2 L482.50 224.2 L483.00 224.2 L483.00 220.7 L483.50 220.7 L483.50 220.7 L484.00 220.7 L484.00 226.3 L484.50 226.3 L484.50 226.6 L485.00 226.6 L485.00 225.7 L485.50 225.7 L485.50 227.5 L486.00 227.5 L486.00 230.6 L486.50 230.6 L486.50 230.7 L487.00 230.7 L487.00 233.7 L487.50 233.7 L487.50 233.7 L488.00 233.7 L488.00 233.7 L488.50 233.7 L488.50 231.8 L489.00 231.8 L489.00 231.2 L489.50 231.2 L489.50 231.8 L490.00 231.8 L490.00 231.9 L490.50 231.9 L490.50 232.9 L491.00 232.9 L491.00 232.9 L491.50 232.9 L491.50 231.8 L492.00 231.8 L492.00 231.8 L492.50 231.8 L492.50 232.3 L493.00 232.3 L493.00 232.3 L493.50 232.3 L493.50 232.0 L494.00 232.0 L494.00 232.0 L494.50 232.0 L494.50 232.4 L495.00 232.4 L495.00 232.4 L495.50 232.4 L495.50 231.8 L496.00 231.8 L496.00 231.8 L496.50 231.8 L496.50 231.6 L497.00 231.6 L497.00 232.4 L497.50 232.4 L497.50 233.7 L498.00 233.7 L498.00 233.7 L498.50 233.7 L498.50 232.3 L499.00 232.3 L499.00 231.9 L499.50 231.9 L499.50 231.9 L500.00 231.9 L500.00 232.3 L500.50 232.3 L500.50 233.7 L501.00 233.7 L501.00 233.7 L501.50 233.7 L501.50 233.7 L502.00 233.7 L502.00 232.2 L502.50 232.2 L502.50 231.8 L503.00 231.8 L503.00 231.5 L503.50 231.5 L503.50 231.8 L504.00 231.8 L504.00 232.2 L504.50 232.2 L504.50 233.7 L505.00 233.7 L505.00 230.7 L505.50 230.7 L505.50 232.1 L506.00 232.1 L506.00 232.1 L506.50 232.1 L506.50 231.0 L507.00 231.0 L507.00 231.0 L507.50 231.0 L507.50 229.7 L508.00 229.7 L508.00 229.7 L508.50 229.7 L508.50 231.1 L509.00 231.1 L509.00 232.1 L509.50 232.1 L509.50 232.5 L510.00 232.5 L510.00 232.5 L510.50 232.5 L510.50 230.9 L511.00 230.9 L511.00 232.1 L511.50 232.1 L511.50 232.1 L512.00 232.1 L512.00 232.4 L512.50 232.4 L512.50 233.70 Z" fill="#111"/>
<line x1="397.50" y1="233.30" x2="512.50" y2="233.30" stroke="#111" stroke-width="0.8"/>
<path d="M397.50 250.30 L397.50 250.3 L398.00 250.3 L398.00 250.3 L398.50 250.3 L398.50 250.3 L399.00 250.3 L399.00 250.3 L399.50 250.3 L399.50 250.3 L400.00 250.3 L400.00 250.3 L400.50 250.3 L400.50 250.3 L401.00 250.3 L401.00 250.3 L401.50 250.3 L401.50 250.3 L402.00 250.3 L402.00 250.3 L402.50 250.3 L402.50 250.3 L403.00 250.3 L403.00 250.3 L403.50 250.3 L403.50 250.3 L404.00 250.3 L404.00 250.3 L404.50 250.3 L404.50 250.3 L405.00 250.3 L405.00 250.3 L405.50 250.3 L405.50 250.3 L406.00 250.3 L406.00 250.3 L406.50 250.3 L406.50 250.3 L407.00 250.3 L407.00 250.3 L407.50 250.3 L407.50 250.3 L408.00 250.3 L408.00 250.3 L408.50 250.3 L408.50 250.3 L409.00 250.3 L409.00 250.3 L409.50 250.3 L409.50 250.3 L410.00 250.3 L410.00 250.3 L410.50 250.3 L410.50 250.3 L411.00 250.3 L411.00 250.3 L411.50 250.3 L411.50 250.3 L412.00 250.3 L412.00 250.3 L412.50 250.3 L412.50 250.3 L413.00 250.3 L413.00 250.3 L413.50 250.3 L413.50 250.3 L414.00 250.3 L414.00 250.3 L414.50 250.3 L414.50 250.3 L415.00 250.3 L415.00 250.3 L415.50 250.3 L415.50 250.3 L416.00 250.3 L416.00 250.3 L416.50 250.3 L416.50 250.3 L417.00 250.3 L417.00 250.3 L417.50 250.3 L417.50 250.3 L418.00 250.3 L418.00 250.3 L418.50 250.3 L418.50 250.3 L419.00 250.3 L419.00 250.3 L419.50 250.3 L419.50 250.3 L420.00 250.3 L420.00 250.3 L420.50 250.3 L420.50 250.3 L421.00 250.3 L421.00 250.3 L421.50 250.3 L421.50 250.3 L422.00 250.3 L422.00 250.3 L422.50 250.3 L422.50 250.3 L423.00 250.3 L423.00 250.3 L423.50 250.3 L423.50 250.3 L424.00 250.3 L424.00 250.3 L424.50 250.3 L424.50 250.3 L425.00 250.3 L425.00 250.3 L425.50 250.3 L425.50 250.3 L426.00 250.3 L426.00 250.3 L426.50 250.3 L426.50 250.3 L427.00 250.3 L427.00 250.3 L427.50 250.3 L427.50 250.3 L428.00 250.3 L428.00 250.3 L428.50 250.3 L428.50 250.3 L429.00 250.3 L429.00 250.3 L429.50 250.3 L429.50 250.3 L430.00 250.3 L430.00 250.3 L430.50 250.3 L430.50 250.3 L431.00 250.3 L431.00 250.3 L431.50 250.3 L431.50 250.3 L432.00 250.3 L432.00 250.3 L432.50 250.3 L432.50 250.3 L433.00 250.3 L433.00 250.3 L433.50 250.3 L433.50 250.3 L434.00 250.3 L434.00 250.3 L434.50 250.3 L434.50 250.3 L435.00 250.3 L435.00 250.3 L435.50 250.3 L435.50 250.3 L436.00 250.3 L436.00 250.3 L436.50 250.3 L436.50 250.3 L437.00 250.3 L437.00 250.3 L437.50 250.3 L437.50 250.3 L438.00 250.3 L438.00 250.3 L438.50 250.3 L438.50 250.3 L439.00 250.3 L439.00 249.7 L439.50 249.7 L439.50 249.6 L440.00 249.6 L440.00 249.5 L440.50 249.5 L440.50 249.6 L441.00 249.6 L441.00 249.7 L441.50 249.7 L441.50 250.3 L442.00 250.3 L442.00 250.0 L442.50 250.0 L442.50 249.9 L443.00 249.9 L443.00 249.8 L443.50 249.8 L443.50 249.9 L444.00 249.9 L444.00 250.0 L444.50 250.0 L444.50 250.3 L445.00 250.3 L445.00 250.3 L445.50 250.3 L445.50 250.3 L446.00 250.3 L446.00 250.3 L446.50 250.3 L446.50 250.3 L447.00 250.3 L447.00 250.3 L447.50 250.3 L447.50 250.3 L448.00 250.3 L448.00 250.3 L448.50 250.3 L448.50 250.3 L449.00 250.3 L449.00 250.3 L449.50 250.3 L449.50 250.3 L450.00 250.3 L450.00 250.3 L450.50 250.3 L450.50 250.3 L451.00 250.3 L451.00 250.3 L451.50 250.3 L451.50 250.3 L452.00 250.3 L452.00 250.3 L452.50 250.3 L452.50 250.3 L453.00 250.3 L453.00 250.3 L453.50 250.3 L453.50 250.3 L454.00 250.3 L454.00 250.3 L454.50 250.3 L454.50 250.3 L455.00 250.3 L455.00 250.3 L455.50 250.3 L455.50 250.3 L456.00 250.3 L456.00 250.3 L456.50 250.3 L456.50 250.3 L457.00 250.3 L457.00 250.3 L457.50 250.3 L457.50 250.3 L458.00 250.3 L458.00 250.3 L458.50 250.3 L458.50 250.3 L459.00 250.3 L459.00 250.3 L459.50 250.3 L459.50 247.0 L460.00 247.0 L460.00 240.2 L460.50 240.2 L460.50 236.9 L461.00 236.9 L461.00 238.6 L461.50 238.6 L461.50 245.9 L462.00 245.9 L462.00 250.3 L462.50 250.3 L462.50 250.3 L463.00 250.3 L463.00 250.0 L463.50 250.0 L463.50 249.9 L464.00 249.9 L464.00 249.8 L464.50 249.8 L464.50 249.8 L465.00 249.8 L465.00 249.9 L465.50 249.9 L465.50 250.0 L466.00 250.0 L466.00 250.3 L466.50 250.3 L466.50 250.3 L467.00 250.3 L467.00 250.3 L467.50 250.3 L467.50 250.3 L468.00 250.3 L468.00 250.3 L468.50 250.3 L468.50 250.3 L469.00 250.3 L469.00 250.3 L469.50 250.3 L469.50 250.3 L470.00 250.3 L470.00 250.3 L470.50 250.3 L470.50 250.3 L471.00 250.3 L471.00 250.3 L471.50 250.3 L471.50 250.3 L472.00 250.3 L472.00 250.3 L472.50 250.3 L472.50 249.8 L473.00 249.8 L473.00 249.8 L473.50 249.8 L473.50 250.3 L474.00 250.3 L474.00 250.3 L474.50 250.3 L474.50 250.3 L475.00 250.3 L475.00 250.3 L475.50 250.3 L475.50 250.3 L476.00 250.3 L476.00 250.3 L476.50 250.3 L476.50 250.3 L477.00 250.3 L477.00 250.3 L477.50 250.3 L477.50 250.3 L478.00 250.3 L478.00 249.7 L478.50 249.7 L478.50 249.6 L479.00 249.6 L479.00 249.7 L479.50 249.7 L479.50 250.3 L480.00 250.3 L480.00 250.3 L480.50 250.3 L480.50 250.3 L481.00 250.3 L481.00 248.9 L481.50 248.9 L481.50 247.2 L482.00 247.2 L482.00 245.3 L482.50 245.3 L482.50 245.3 L483.00 245.3 L483.00 247.2 L483.50 247.2 L483.50 249.1 L484.00 249.1 L484.00 249.1 L484.50 249.1 L484.50 249.3 L485.00 249.3 L485.00 249.3 L485.50 249.3 L485.50 248.9 L486.00 248.9 L486.00 248.9 L486.50 248.9 L486.50 248.3 L487.00 248.3 L487.00 248.3 L487.50 248.3 L487.50 243.6 L488.00 243.6 L488.00 237.6 L488.50 237.6 L488.50 237.6 L489.00 237.6 L489.00 243.6 L489.50 243.6 L489.50 248.5 L490.00 248.5 L490.00 250.3 L490.50 250.3 L490.50 250.3 L491.00 250.3 L491.00 250.3 L491.50 250.3 L491.50 250.3 L492.00 250.3 L492.00 250.3 L492.50 250.3 L492.50 250.3 L493.00 250.3 L493.00 250.3 L493.50 250.3 L493.50 250.3 L494.00 250.3 L494.00 250.3 L494.50 250.3 L494.50 250.3 L495.00 250.3 L495.00 250.3 L495.50 250.3 L495.50 250.3 L496.00 250.3 L496.00 250.3 L496.50 250.3 L496.50 250.3 L497.00 250.3 L497.00 249.9 L497.50 249.9 L497.50 249.8 L498.00 249.8 L498.00 249.6 L498.50 249.6 L498.50 249.8 L499.00 249.8 L499.00 249.9 L499.50 249.9 L499.50 250.3 L500.00 250.3 L500.00 250.3 L500.50 250.3 L500.50 250.3 L501.00 250.3 L501.00 250.3 L501.50 250.3 L501.50 250.3 L502.00 250.3 L502.00 250.3 L502.50 250.3 L502.50 250.3 L503.00 250.3 L503.00 250.3 L503.50 250.3 L503.50 250.3 L504.00 250.3 L504.00 250.3 L504.50 250.3 L504.50 250.3 L505.00 250.3 L505.00 250.3 L505.50 250.3 L505.50 250.3 L506.00 250.3 L506.00 250.3 L506.50 250.3 L506.50 250.3 L507.00 250.3 L507.00 250.3 L507.50 250.3 L507.50 250.3 L508.00 250.3 L508.00 250.3 L508.50 250.3 L508.50 250.3 L509.00 250.3 L509.00 250.3 L509.50 250.3 L509.50 250.3 L510.00 250.3 L510.00 250.3 L510.50 250.3 L510.50 250.3 L511.00 250.3 L511.00 250.3 L511.50 250.3 L511.50 250.3 L512.00 250.3 L512.00 250.3 L512.50 250.3 L512.50 250.30 Z" fill="#601418"/>
<line x1="397.50" y1="249.90" x2="512.50" y2="249.90" stroke="#999" stroke-width="0.7" stroke-dasharray="1.3 2.4" opacity="0.8"/>
<path d="M397.50 266.90 L397.50 266.9 L398.00 266.9 L398.00 266.9 L398.50 266.9 L398.50 266.9 L399.00 266.9 L399.00 266.5 L399.50 266.5 L399.50 266.4 L400.00 266.4 L400.00 266.4 L400.50 266.4 L400.50 266.5 L401.00 266.5 L401.00 266.9 L401.50 266.9 L401.50 266.9 L402.00 266.9 L402.00 266.9 L402.50 266.9 L402.50 266.9 L403.00 266.9 L403.00 266.9 L403.50 266.9 L403.50 266.9 L404.00 266.9 L404.00 266.9 L404.50 266.9 L404.50 266.9 L405.00 266.9 L405.00 266.9 L405.50 266.9 L405.50 266.9 L406.00 266.9 L406.00 266.9 L406.50 266.9 L406.50 266.9 L407.00 266.9 L407.00 266.9 L407.50 266.9 L407.50 266.9 L408.00 266.9 L408.00 266.9 L408.50 266.9 L408.50 266.9 L409.00 266.9 L409.00 266.9 L409.50 266.9 L409.50 266.9 L410.00 266.9 L410.00 266.9 L410.50 266.9 L410.50 266.9 L411.00 266.9 L411.00 266.9 L411.50 266.9 L411.50 266.9 L412.00 266.9 L412.00 266.9 L412.50 266.9 L412.50 266.9 L413.00 266.9 L413.00 266.9 L413.50 266.9 L413.50 266.9 L414.00 266.9 L414.00 266.9 L414.50 266.9 L414.50 266.9 L415.00 266.9 L415.00 266.9 L415.50 266.9 L415.50 266.9 L416.00 266.9 L416.00 266.9 L416.50 266.9 L416.50 266.9 L417.00 266.9 L417.00 266.9 L417.50 266.9 L417.50 266.9 L418.00 266.9 L418.00 266.9 L418.50 266.9 L418.50 266.9 L419.00 266.9 L419.00 266.9 L419.50 266.9 L419.50 266.9 L420.00 266.9 L420.00 266.9 L420.50 266.9 L420.50 266.9 L421.00 266.9 L421.00 266.9 L421.50 266.9 L421.50 266.9 L422.00 266.9 L422.00 266.9 L422.50 266.9 L422.50 266.9 L423.00 266.9 L423.00 266.9 L423.50 266.9 L423.50 266.9 L424.00 266.9 L424.00 266.9 L424.50 266.9 L424.50 266.9 L425.00 266.9 L425.00 266.9 L425.50 266.9 L425.50 266.9 L426.00 266.9 L426.00 266.9 L426.50 266.9 L426.50 266.9 L427.00 266.9 L427.00 266.9 L427.50 266.9 L427.50 266.9 L428.00 266.9 L428.00 266.9 L428.50 266.9 L428.50 266.9 L429.00 266.9 L429.00 266.9 L429.50 266.9 L429.50 266.9 L430.00 266.9 L430.00 266.9 L430.50 266.9 L430.50 266.9 L431.00 266.9 L431.00 266.9 L431.50 266.9 L431.50 266.9 L432.00 266.9 L432.00 266.9 L432.50 266.9 L432.50 266.9 L433.00 266.9 L433.00 266.9 L433.50 266.9 L433.50 266.9 L434.00 266.9 L434.00 266.9 L434.50 266.9 L434.50 266.9 L435.00 266.9 L435.00 266.9 L435.50 266.9 L435.50 266.9 L436.00 266.9 L436.00 266.9 L436.50 266.9 L436.50 266.9 L437.00 266.9 L437.00 266.9 L437.50 266.9 L437.50 266.9 L438.00 266.9 L438.00 266.9 L438.50 266.9 L438.50 266.9 L439.00 266.9 L439.00 266.9 L439.50 266.9 L439.50 266.9 L440.00 266.9 L440.00 266.9 L440.50 266.9 L440.50 266.9 L441.00 266.9 L441.00 266.3 L441.50 266.3 L441.50 266.1 L442.00 266.1 L442.00 266.3 L442.50 266.3 L442.50 266.9 L443.00 266.9 L443.00 266.9 L443.50 266.9 L443.50 266.9 L444.00 266.9 L444.00 266.9 L444.50 266.9 L444.50 266.5 L445.00 266.5 L445.00 266.4 L445.50 266.4 L445.50 266.3 L446.00 266.3 L446.00 266.4 L446.50 266.4 L446.50 266.5 L447.00 266.5 L447.00 266.9 L447.50 266.9 L447.50 266.9 L448.00 266.9 L448.00 266.9 L448.50 266.9 L448.50 266.9 L449.00 266.9 L449.00 266.9 L449.50 266.9 L449.50 266.9 L450.00 266.9 L450.00 266.9 L450.50 266.9 L450.50 266.9 L451.00 266.9 L451.00 266.9 L451.50 266.9 L451.50 266.9 L452.00 266.9 L452.00 266.9 L452.50 266.9 L452.50 266.9 L453.00 266.9 L453.00 266.9 L453.50 266.9 L453.50 266.9 L454.00 266.9 L454.00 266.9 L454.50 266.9 L454.50 266.9 L455.00 266.9 L455.00 266.9 L455.50 266.9 L455.50 266.9 L456.00 266.9 L456.00 266.9 L456.50 266.9 L456.50 266.9 L457.00 266.9 L457.00 266.9 L457.50 266.9 L457.50 266.9 L458.00 266.9 L458.00 266.9 L458.50 266.9 L458.50 266.9 L459.00 266.9 L459.00 266.9 L459.50 266.9 L459.50 265.8 L460.00 265.8 L460.00 262.5 L460.50 262.5 L460.50 260.9 L461.00 260.9 L461.00 261.7 L461.50 261.7 L461.50 265.2 L462.00 265.2 L462.00 266.9 L462.50 266.9 L462.50 266.9 L463.00 266.9 L463.00 266.9 L463.50 266.9 L463.50 266.9 L464.00 266.9 L464.00 266.9 L464.50 266.9 L464.50 266.9 L465.00 266.9 L465.00 266.9 L465.50 266.9 L465.50 266.9 L466.00 266.9 L466.00 266.5 L466.50 266.5 L466.50 266.4 L467.00 266.4 L467.00 266.5 L467.50 266.5 L467.50 266.9 L468.00 266.9 L468.00 266.9 L468.50 266.9 L468.50 266.9 L469.00 266.9 L469.00 266.9 L469.50 266.9 L469.50 266.9 L470.00 266.9 L470.00 266.9 L470.50 266.9 L470.50 266.9 L471.00 266.9 L471.00 266.9 L471.50 266.9 L471.50 266.9 L472.00 266.9 L472.00 266.9 L472.50 266.9 L472.50 266.9 L473.00 266.9 L473.00 266.9 L473.50 266.9 L473.50 266.9 L474.00 266.9 L474.00 266.9 L474.50 266.9 L474.50 266.9 L475.00 266.9 L475.00 266.9 L475.50 266.9 L475.50 266.9 L476.00 266.9 L476.00 266.7 L476.50 266.7 L476.50 266.7 L477.00 266.7 L477.00 266.6 L477.50 266.6 L477.50 266.7 L478.00 266.7 L478.00 266.7 L478.50 266.7 L478.50 266.9 L479.00 266.9 L479.00 266.9 L479.50 266.9 L479.50 266.9 L480.00 266.9 L480.00 266.9 L480.50 266.9 L480.50 266.9 L481.00 266.9 L481.00 266.8 L481.50 266.8 L481.50 265.8 L482.00 265.8 L482.00 264.4 L482.50 264.4 L482.50 264.1 L483.00 264.1 L483.00 264.7 L483.50 264.7 L483.50 265.8 L484.00 265.8 L484.00 265.8 L484.50 265.8 L484.50 265.6 L485.00 265.6 L485.00 265.6 L485.50 265.6 L485.50 266.2 L486.00 266.2 L486.00 266.2 L486.50 266.2 L486.50 265.9 L487.00 265.9 L487.00 265.9 L487.50 265.9 L487.50 261.0 L488.00 261.0 L488.00 254.9 L488.50 254.9 L488.50 254.9 L489.00 254.9 L489.00 261.0 L489.50 261.0 L489.50 265.4 L490.00 265.4 L490.00 265.4 L490.50 265.4 L490.50 265.8 L491.00 265.8 L491.00 266.9 L491.50 266.9 L491.50 266.9 L492.00 266.9 L492.00 266.9 L492.50 266.9 L492.50 266.9 L493.00 266.9 L493.00 266.9 L493.50 266.9 L493.50 266.9 L494.00 266.9 L494.00 266.9 L494.50 266.9 L494.50 266.9 L495.00 266.9 L495.00 266.9 L495.50 266.9 L495.50 266.9 L496.00 266.9 L496.00 266.9 L496.50 266.9 L496.50 266.9 L497.00 266.9 L497.00 266.9 L497.50 266.9 L497.50 266.9 L498.00 266.9 L498.00 266.9 L498.50 266.9 L498.50 266.9 L499.00 266.9 L499.00 266.9 L499.50 266.9 L499.50 266.9 L500.00 266.9 L500.00 266.9 L500.50 266.9 L500.50 266.9 L501.00 266.9 L501.00 266.9 L501.50 266.9 L501.50 266.9 L502.00 266.9 L502.00 266.9 L502.50 266.9 L502.50 266.9 L503.00 266.9 L503.00 266.9 L503.50 266.9 L503.50 266.9 L504.00 266.9 L504.00 266.9 L504.50 266.9 L504.50 266.9 L505.00 266.9 L505.00 266.9 L505.50 266.9 L505.50 266.9 L506.00 266.9 L506.00 266.9 L506.50 266.9 L506.50 266.9 L507.00 266.9 L507.00 266.9 L507.50 266.9 L507.50 266.9 L508.00 266.9 L508.00 266.5 L508.50 266.5 L508.50 266.5 L509.00 266.5 L509.00 266.9 L509.50 266.9 L509.50 266.9 L510.00 266.9 L510.00 266.9 L510.50 266.9 L510.50 266.9 L511.00 266.9 L511.00 266.9 L511.50 266.9 L511.50 266.9 L512.00 266.9 L512.00 266.9 L512.50 266.9 L512.50 266.90 Z" fill="#5c1a1c"/>
<line x1="397.50" y1="266.50" x2="512.50" y2="266.50" stroke="#999" stroke-width="0.7" stroke-dasharray="1.3 2.4" opacity="0.8"/>
<path d="M397.50 283.10 L397.50 283.1 L398.00 283.1 L398.00 283.1 L398.50 283.1 L398.50 283.1 L399.00 283.1 L399.00 283.1 L399.50 283.1 L399.50 281.1 L400.00 281.1 L400.00 281.1 L400.50 281.1 L400.50 281.3 L401.00 281.3 L401.00 281.3 L401.50 281.3 L401.50 282.0 L402.00 282.0 L402.00 282.0 L402.50 282.0 L402.50 281.4 L403.00 281.4 L403.00 283.1 L403.50 283.1 L403.50 283.1 L404.00 283.1 L404.00 283.1 L404.50 283.1 L404.50 283.1 L405.00 283.1 L405.00 283.1 L405.50 283.1 L405.50 283.1 L406.00 283.1 L406.00 283.1 L406.50 283.1 L406.50 282.2 L407.00 282.2 L407.00 281.9 L407.50 281.9 L407.50 282.2 L408.00 282.2 L408.00 283.1 L408.50 283.1 L408.50 283.1 L409.00 283.1 L409.00 283.1 L409.50 283.1 L409.50 283.1 L410.00 283.1 L410.00 283.1 L410.50 283.1 L410.50 283.1 L411.00 283.1 L411.00 283.1 L411.50 283.1 L411.50 283.1 L412.00 283.1 L412.00 283.1 L412.50 283.1 L412.50 283.1 L413.00 283.1 L413.00 283.1 L413.50 283.1 L413.50 282.5 L414.00 282.5 L414.00 282.3 L414.50 282.3 L414.50 282.3 L415.00 282.3 L415.00 282.5 L415.50 282.5 L415.50 283.1 L416.00 283.1 L416.00 283.1 L416.50 283.1 L416.50 283.1 L417.00 283.1 L417.00 281.4 L417.50 281.4 L417.50 281.3 L418.00 281.3 L418.00 281.3 L418.50 281.3 L418.50 281.6 L419.00 281.6 L419.00 283.1 L419.50 283.1 L419.50 283.1 L420.00 283.1 L420.00 283.1 L420.50 283.1 L420.50 283.1 L421.00 283.1 L421.00 283.1 L421.50 283.1 L421.50 283.1 L422.00 283.1 L422.00 283.1 L422.50 283.1 L422.50 283.1 L423.00 283.1 L423.00 283.1 L423.50 283.1 L423.50 283.1 L424.00 283.1 L424.00 283.1 L424.50 283.1 L424.50 283.1 L425.00 283.1 L425.00 283.1 L425.50 283.1 L425.50 283.1 L426.00 283.1 L426.00 283.1 L426.50 283.1 L426.50 283.1 L427.00 283.1 L427.00 283.1 L427.50 283.1 L427.50 283.1 L428.00 283.1 L428.00 283.1 L428.50 283.1 L428.50 283.1 L429.00 283.1 L429.00 283.1 L429.50 283.1 L429.50 283.1 L430.00 283.1 L430.00 283.1 L430.50 283.1 L430.50 283.1 L431.00 283.1 L431.00 283.1 L431.50 283.1 L431.50 283.1 L432.00 283.1 L432.00 283.1 L432.50 283.1 L432.50 283.1 L433.00 283.1 L433.00 283.1 L433.50 283.1 L433.50 283.1 L434.00 283.1 L434.00 283.1 L434.50 283.1 L434.50 283.1 L435.00 283.1 L435.00 283.1 L435.50 283.1 L435.50 283.1 L436.00 283.1 L436.00 283.1 L436.50 283.1 L436.50 282.5 L437.00 282.5 L437.00 282.3 L437.50 282.3 L437.50 282.1 L438.00 282.1 L438.00 282.3 L438.50 282.3 L438.50 282.5 L439.00 282.5 L439.00 283.1 L439.50 283.1 L439.50 283.1 L440.00 283.1 L440.00 283.1 L440.50 283.1 L440.50 283.1 L441.00 283.1 L441.00 282.4 L441.50 282.4 L441.50 282.2 L442.00 282.2 L442.00 282.2 L442.50 282.2 L442.50 282.4 L443.00 282.4 L443.00 283.1 L443.50 283.1 L443.50 283.1 L444.00 283.1 L444.00 283.1 L444.50 283.1 L444.50 283.1 L445.00 283.1 L445.00 283.1 L445.50 283.1 L445.50 283.1 L446.00 283.1 L446.00 283.1 L446.50 283.1 L446.50 283.1 L447.00 283.1 L447.00 283.1 L447.50 283.1 L447.50 283.1 L448.00 283.1 L448.00 283.1 L448.50 283.1 L448.50 283.1 L449.00 283.1 L449.00 281.3 L449.50 281.3 L449.50 281.6 L450.00 281.6 L450.00 281.6 L450.50 281.6 L450.50 282.0 L451.00 282.0 L451.00 282.0 L451.50 282.0 L451.50 281.1 L452.00 281.1 L452.00 281.1 L452.50 281.1 L452.50 281.1 L453.00 281.1 L453.00 281.1 L453.50 281.1 L453.50 281.0 L454.00 281.0 L454.00 279.9 L454.50 279.9 L454.50 278.7 L455.00 278.7 L455.00 277.6 L455.50 277.6 L455.50 277.6 L456.00 277.6 L456.00 278.7 L456.50 278.7 L456.50 279.9 L457.00 279.9 L457.00 281.0 L457.50 281.0 L457.50 282.0 L458.00 282.0 L458.00 282.7 L458.50 282.7 L458.50 283.1 L459.00 283.1 L459.00 283.1 L459.50 283.1 L459.50 283.1 L460.00 283.1 L460.00 283.1 L460.50 283.1 L460.50 283.1 L461.00 283.1 L461.00 283.1 L461.50 283.1 L461.50 282.6 L462.00 282.6 L462.00 276.8 L462.50 276.8 L462.50 276.6 L463.00 276.6 L463.00 274.6 L463.50 274.6 L463.50 274.6 L464.00 274.6 L464.00 277.4 L464.50 277.4 L464.50 277.8 L465.00 277.8 L465.00 277.8 L465.50 277.8 L465.50 277.4 L466.00 277.4 L466.00 277.4 L466.50 277.4 L466.50 274.9 L467.00 274.9 L467.00 274.9 L467.50 274.9 L467.50 277.6 L468.00 277.6 L468.00 278.2 L468.50 278.2 L468.50 278.6 L469.00 278.6 L469.00 282.4 L469.50 282.4 L469.50 283.1 L470.00 283.1 L470.00 283.1 L470.50 283.1 L470.50 283.1 L471.00 283.1 L471.00 282.4 L471.50 282.4 L471.50 282.2 L472.00 282.2 L472.00 282.2 L472.50 282.2 L472.50 282.4 L473.00 282.4 L473.00 283.1 L473.50 283.1 L473.50 283.1 L474.00 283.1 L474.00 283.1 L474.50 283.1 L474.50 282.9 L475.00 282.9 L475.00 279.6 L475.50 279.6 L475.50 278.0 L476.00 278.0 L476.00 275.7 L476.50 275.7 L476.50 275.7 L477.00 275.7 L477.00 278.3 L477.50 278.3 L477.50 278.1 L478.00 278.1 L478.00 278.1 L478.50 278.1 L478.50 280.9 L479.00 280.9 L479.00 278.6 L479.50 278.6 L479.50 276.1 L480.00 276.1 L480.00 276.1 L480.50 276.1 L480.50 278.0 L481.00 278.0 L481.00 278.0 L481.50 278.0 L481.50 281.2 L482.00 281.2 L482.00 283.1 L482.50 283.1 L482.50 283.1 L483.00 283.1 L483.00 283.1 L483.50 283.1 L483.50 283.1 L484.00 283.1 L484.00 283.1 L484.50 283.1 L484.50 283.1 L485.00 283.1 L485.00 283.1 L485.50 283.1 L485.50 283.1 L486.00 283.1 L486.00 283.1 L486.50 283.1 L486.50 283.1 L487.00 283.1 L487.00 283.1 L487.50 283.1 L487.50 283.1 L488.00 283.1 L488.00 282.8 L488.50 282.8 L488.50 280.8 L489.00 280.8 L489.00 279.8 L489.50 279.8 L489.50 278.1 L490.00 278.1 L490.00 278.1 L490.50 278.1 L490.50 279.8 L491.00 279.8 L491.00 280.7 L491.50 280.7 L491.50 280.8 L492.00 280.8 L492.00 282.6 L492.50 282.6 L492.50 283.1 L493.00 283.1 L493.00 283.1 L493.50 283.1 L493.50 283.1 L494.00 283.1 L494.00 283.1 L494.50 283.1 L494.50 283.1 L495.00 283.1 L495.00 283.1 L495.50 283.1 L495.50 283.1 L496.00 283.1 L496.00 283.1 L496.50 283.1 L496.50 283.1 L497.00 283.1 L497.00 282.7 L497.50 282.7 L497.50 282.5 L498.00 282.5 L498.00 282.5 L498.50 282.5 L498.50 282.7 L499.00 282.7 L499.00 283.1 L499.50 283.1 L499.50 283.1 L500.00 283.1 L500.00 283.1 L500.50 283.1 L500.50 283.1 L501.00 283.1 L501.00 281.0 L501.50 281.0 L501.50 280.0 L502.00 280.0 L502.00 280.0 L502.50 280.0 L502.50 281.0 L503.00 281.0 L503.00 281.0 L503.50 281.0 L503.50 280.1 L504.00 280.1 L504.00 280.1 L504.50 280.1 L504.50 280.4 L505.00 280.4 L505.00 280.4 L505.50 280.4 L505.50 280.2 L506.00 280.2 L506.00 280.2 L506.50 280.2 L506.50 279.9 L507.00 279.9 L507.00 278.4 L507.50 278.4 L507.50 277.1 L508.00 277.1 L508.00 277.1 L508.50 277.1 L508.50 278.4 L509.00 278.4 L509.00 279.9 L509.50 279.9 L509.50 281.2 L510.00 281.2 L510.00 281.9 L510.50 281.9 L510.50 283.0 L511.00 283.0 L511.00 283.1 L511.50 283.1 L511.50 283.1 L512.00 283.1 L512.00 283.1 L512.50 283.1 L512.50 283.10 Z" fill="#1a3e36"/>
<path d="M397.50 300.60 L397.50 300.6 L398.00 300.6 L398.00 300.6 L398.50 300.6 L398.50 300.6 L399.00 300.6 L399.00 300.6 L399.50 300.6 L399.50 300.6 L400.00 300.6 L400.00 300.6 L400.50 300.6 L400.50 300.6 L401.00 300.6 L401.00 300.6 L401.50 300.6 L401.50 300.6 L402.00 300.6 L402.00 300.6 L402.50 300.6 L402.50 300.6 L403.00 300.6 L403.00 300.6 L403.50 300.6 L403.50 300.6 L404.00 300.6 L404.00 300.6 L404.50 300.6 L404.50 300.6 L405.00 300.6 L405.00 300.6 L405.50 300.6 L405.50 300.6 L406.00 300.6 L406.00 300.6 L406.50 300.6 L406.50 300.6 L407.00 300.6 L407.00 300.6 L407.50 300.6 L407.50 300.6 L408.00 300.6 L408.00 300.6 L408.50 300.6 L408.50 300.6 L409.00 300.6 L409.00 300.6 L409.50 300.6 L409.50 300.6 L410.00 300.6 L410.00 300.6 L410.50 300.6 L410.50 300.6 L411.00 300.6 L411.00 300.6 L411.50 300.6 L411.50 300.6 L412.00 300.6 L412.00 300.6 L412.50 300.6 L412.50 300.6 L413.00 300.6 L413.00 300.6 L413.50 300.6 L413.50 300.6 L414.00 300.6 L414.00 300.6 L414.50 300.6 L414.50 300.6 L415.00 300.6 L415.00 300.6 L415.50 300.6 L415.50 300.6 L416.00 300.6 L416.00 300.6 L416.50 300.6 L416.50 300.6 L417.00 300.6 L417.00 300.6 L417.50 300.6 L417.50 300.6 L418.00 300.6 L418.00 300.6 L418.50 300.6 L418.50 300.6 L419.00 300.6 L419.00 300.6 L419.50 300.6 L419.50 300.6 L420.00 300.6 L420.00 300.6 L420.50 300.6 L420.50 300.6 L421.00 300.6 L421.00 300.6 L421.50 300.6 L421.50 300.6 L422.00 300.6 L422.00 300.6 L422.50 300.6 L422.50 300.6 L423.00 300.6 L423.00 300.6 L423.50 300.6 L423.50 300.6 L424.00 300.6 L424.00 300.6 L424.50 300.6 L424.50 300.6 L425.00 300.6 L425.00 300.6 L425.50 300.6 L425.50 300.6 L426.00 300.6 L426.00 300.6 L426.50 300.6 L426.50 300.6 L427.00 300.6 L427.00 300.6 L427.50 300.6 L427.50 300.6 L428.00 300.6 L428.00 300.6 L428.50 300.6 L428.50 300.6 L429.00 300.6 L429.00 300.6 L429.50 300.6 L429.50 300.3 L430.00 300.3 L430.00 300.2 L430.50 300.2 L430.50 300.3 L431.00 300.3 L431.00 300.6 L431.50 300.6 L431.50 300.6 L432.00 300.6 L432.00 300.6 L432.50 300.6 L432.50 300.6 L433.00 300.6 L433.00 300.6 L433.50 300.6 L433.50 300.6 L434.00 300.6 L434.00 300.6 L434.50 300.6 L434.50 300.6 L435.00 300.6 L435.00 300.6 L435.50 300.6 L435.50 300.6 L436.00 300.6 L436.00 300.6 L436.50 300.6 L436.50 300.6 L437.00 300.6 L437.00 300.6 L437.50 300.6 L437.50 300.6 L438.00 300.6 L438.00 300.6 L438.50 300.6 L438.50 300.6 L439.00 300.6 L439.00 300.6 L439.50 300.6 L439.50 300.6 L440.00 300.6 L440.00 300.6 L440.50 300.6 L440.50 300.6 L441.00 300.6 L441.00 300.6 L441.50 300.6 L441.50 300.6 L442.00 300.6 L442.00 300.6 L442.50 300.6 L442.50 300.6 L443.00 300.6 L443.00 300.6 L443.50 300.6 L443.50 300.6 L444.00 300.6 L444.00 300.6 L444.50 300.6 L444.50 300.6 L445.00 300.6 L445.00 300.6 L445.50 300.6 L445.50 300.6 L446.00 300.6 L446.00 300.6 L446.50 300.6 L446.50 300.6 L447.00 300.6 L447.00 300.6 L447.50 300.6 L447.50 300.6 L448.00 300.6 L448.00 300.6 L448.50 300.6 L448.50 300.6 L449.00 300.6 L449.00 300.6 L449.50 300.6 L449.50 300.6 L450.00 300.6 L450.00 300.6 L450.50 300.6 L450.50 300.6 L451.00 300.6 L451.00 300.6 L451.50 300.6 L451.50 300.6 L452.00 300.6 L452.00 300.6 L452.50 300.6 L452.50 300.6 L453.00 300.6 L453.00 300.6 L453.50 300.6 L453.50 300.6 L454.00 300.6 L454.00 297.9 L454.50 297.9 L454.50 299.1 L455.00 299.1 L455.00 296.4 L455.50 296.4 L455.50 293.6 L456.00 293.6 L456.00 293.6 L456.50 293.6 L456.50 296.4 L457.00 296.4 L457.00 298.4 L457.50 298.4 L457.50 296.8 L458.00 296.8 L458.00 296.1 L458.50 296.1 L458.50 293.0 L459.00 293.0 L459.00 293.0 L459.50 293.0 L459.50 296.1 L460.00 296.1 L460.00 297.8 L460.50 297.8 L460.50 298.9 L461.00 298.9 L461.00 298.9 L461.50 298.9 L461.50 296.4 L462.00 296.4 L462.00 293.6 L462.50 293.6 L462.50 293.6 L463.00 293.6 L463.00 296.4 L463.50 296.4 L463.50 298.0 L464.00 298.0 L464.00 298.0 L464.50 298.0 L464.50 300.6 L465.00 300.6 L465.00 300.6 L465.50 300.6 L465.50 300.6 L466.00 300.6 L466.00 300.6 L466.50 300.6 L466.50 300.6 L467.00 300.6 L467.00 300.6 L467.50 300.6 L467.50 300.6 L468.00 300.6 L468.00 300.6 L468.50 300.6 L468.50 300.6 L469.00 300.6 L469.00 300.6 L469.50 300.6 L469.50 300.6 L470.00 300.6 L470.00 300.6 L470.50 300.6 L470.50 300.6 L471.00 300.6 L471.00 300.6 L471.50 300.6 L471.50 300.6 L472.00 300.6 L472.00 300.6 L472.50 300.6 L472.50 300.6 L473.00 300.6 L473.00 300.6 L473.50 300.6 L473.50 300.6 L474.00 300.6 L474.00 300.6 L474.50 300.6 L474.50 300.4 L475.00 300.4 L475.00 300.4 L475.50 300.4 L475.50 300.3 L476.00 300.3 L476.00 300.3 L476.50 300.3 L476.50 300.4 L477.00 300.4 L477.00 300.4 L477.50 300.4 L477.50 300.6 L478.00 300.6 L478.00 300.6 L478.50 300.6 L478.50 300.6 L479.00 300.6 L479.00 300.6 L479.50 300.6 L479.50 297.6 L480.00 297.6 L480.00 297.6 L480.50 297.6 L480.50 295.6 L481.00 295.6 L481.00 292.3 L481.50 292.3 L481.50 292.3 L482.00 292.3 L482.00 295.6 L482.50 295.6 L482.50 298.8 L483.00 298.8 L483.00 298.8 L483.50 298.8 L483.50 295.5 L484.00 295.5 L484.00 291.6 L484.50 291.6 L484.50 291.6 L485.00 291.6 L485.00 295.5 L485.50 295.5 L485.50 298.8 L486.00 298.8 L486.00 297.1 L486.50 297.1 L486.50 291.3 L487.00 291.3 L487.00 288.6 L487.50 288.6 L487.50 290.0 L488.00 290.0 L488.00 296.1 L488.50 296.1 L488.50 296.6 L489.00 296.6 L489.00 293.6 L489.50 293.6 L489.50 293.6 L490.00 293.6 L490.00 296.6 L490.50 296.6 L490.50 296.9 L491.00 296.9 L491.00 300.6 L491.50 300.6 L491.50 300.6 L492.00 300.6 L492.00 300.6 L492.50 300.6 L492.50 300.6 L493.00 300.6 L493.00 300.6 L493.50 300.6 L493.50 300.6 L494.00 300.6 L494.00 300.6 L494.50 300.6 L494.50 300.6 L495.00 300.6 L495.00 300.6 L495.50 300.6 L495.50 300.6 L496.00 300.6 L496.00 300.6 L496.50 300.6 L496.50 300.6 L497.00 300.6 L497.00 300.6 L497.50 300.6 L497.50 300.6 L498.00 300.6 L498.00 300.6 L498.50 300.6 L498.50 300.6 L499.00 300.6 L499.00 300.6 L499.50 300.6 L499.50 300.6 L500.00 300.6 L500.00 300.6 L500.50 300.6 L500.50 300.6 L501.00 300.6 L501.00 300.6 L501.50 300.6 L501.50 300.6 L502.00 300.6 L502.00 300.6 L502.50 300.6 L502.50 300.6 L503.00 300.6 L503.00 300.6 L503.50 300.6 L503.50 300.6 L504.00 300.6 L504.00 300.6 L504.50 300.6 L504.50 300.6 L505.00 300.6 L505.00 300.6 L505.50 300.6 L505.50 300.6 L506.00 300.6 L506.00 300.6 L506.50 300.6 L506.50 300.6 L507.00 300.6 L507.00 300.6 L507.50 300.6 L507.50 300.6 L508.00 300.6 L508.00 300.6 L508.50 300.6 L508.50 300.6 L509.00 300.6 L509.00 300.6 L509.50 300.6 L509.50 300.6 L510.00 300.6 L510.00 300.6 L510.50 300.6 L510.50 300.6 L511.00 300.6 L511.00 300.6 L511.50 300.6 L511.50 300.6 L512.00 300.6 L512.00 300.6 L512.50 300.6 L512.50 300.60 Z" fill="#5a2a76"/>
<line x1="397.50" y1="300.20" x2="512.50" y2="300.20" stroke="#999" stroke-width="0.7" stroke-dasharray="1.3 2.4" opacity="0.8"/>
<line x1="144.50" y1="207.00" x2="209.00" y2="207.00" stroke="#222" stroke-width="0.9" />
<path d="M147.2 205.9 L148.6 207 L147.2 208.1" fill="none" stroke="#555" stroke-width="0.5"/>
<path d="M152.2 205.9 L153.6 207 L152.2 208.1" fill="none" stroke="#555" stroke-width="0.5"/>
<path d="M157.2 205.9 L158.6 207 L157.2 208.1" fill="none" stroke="#555" stroke-width="0.5"/>
<path d="M162.2 205.9 L163.6 207 L162.2 208.1" fill="none" stroke="#555" stroke-width="0.5"/>
<path d="M167.2 205.9 L168.6 207 L167.2 208.1" fill="none" stroke="#555" stroke-width="0.5"/>
<path d="M172.2 205.9 L173.6 207 L172.2 208.1" fill="none" stroke="#555" stroke-width="0.5"/>
<path d="M177.2 205.9 L178.6 207 L177.2 208.1" fill="none" stroke="#555" stroke-width="0.5"/>
<path d="M182.2 205.9 L183.6 207 L182.2 208.1" fill="none" stroke="#555" stroke-width="0.5"/>
<path d="M187.2 205.9 L188.6 207 L187.2 208.1" fill="none" stroke="#555" stroke-width="0.5"/>
<path d="M192.2 205.9 L193.6 207 L192.2 208.1" fill="none" stroke="#555" stroke-width="0.5"/>
<path d="M197.2 205.9 L198.6 207 L197.2 208.1" fill="none" stroke="#555" stroke-width="0.5"/>
<path d="M202.2 205.9 L203.6 207 L202.2 208.1" fill="none" stroke="#555" stroke-width="0.5"/>
<line x1="144.80" y1="204.50" x2="144.80" y2="209.50" stroke="#222" stroke-width="0.9" />
<line x1="167.00" y1="205.00" x2="167.00" y2="209.00" stroke="#222" stroke-width="0.9" />
<line x1="177.60" y1="205.00" x2="177.60" y2="209.00" stroke="#222" stroke-width="0.9" />
<line x1="182.90" y1="203.80" x2="182.90" y2="210.20" stroke="#222" stroke-width="0.9" />
<line x1="184.00" y1="203.80" x2="184.00" y2="210.20" stroke="#222" stroke-width="0.9" />
<line x1="186.50" y1="204.80" x2="186.50" y2="209.20" stroke="#222" stroke-width="0.9" />
<line x1="194.50" y1="204.80" x2="194.50" y2="209.20" stroke="#222" stroke-width="0.9" />
<line x1="201.80" y1="204.80" x2="201.80" y2="209.20" stroke="#222" stroke-width="0.9" />
<line x1="203.40" y1="204.80" x2="203.40" y2="209.20" stroke="#222" stroke-width="0.9" />
<line x1="205.00" y1="204.80" x2="205.00" y2="209.20" stroke="#222" stroke-width="0.9" />
<rect x="208.30" y="204.90" width="8.90" height="4.00" fill="#000" />
<text x="162.7" y="221.0" font-size="8.6" fill="#111" textLength="33.1" lengthAdjust="spacingAndGlyphs" stroke="#111" stroke-width="0.15">IFNAR1</text>
<line x1="275.00" y1="204.70" x2="340.40" y2="204.70" stroke="#222" stroke-width="0.9" />
<rect x="271.90" y="202.40" width="3.10" height="4.60" fill="#000" />
<line x1="281.90" y1="201.20" x2="281.90" y2="207.80" stroke="#6a6a6a" stroke-width="1.0" />
<line x1="283.40" y1="201.20" x2="283.40" y2="207.80" stroke="#6a6a6a" stroke-width="1.0" />
<line x1="286.30" y1="201.20" x2="286.30" y2="207.80" stroke="#6a6a6a" stroke-width="1.0" />
<line x1="288.50" y1="201.20" x2="288.50" y2="207.80" stroke="#6a6a6a" stroke-width="1.0" />
<line x1="289.90" y1="201.20" x2="289.90" y2="207.80" stroke="#6a6a6a" stroke-width="1.0" />
<line x1="292.10" y1="201.20" x2="292.10" y2="207.80" stroke="#6a6a6a" stroke-width="1.0" />
<line x1="294.30" y1="201.20" x2="294.30" y2="207.80" stroke="#6a6a6a" stroke-width="1.0" />
<line x1="296.50" y1="201.20" x2="296.50" y2="207.80" stroke="#6a6a6a" stroke-width="1.0" />
<line x1="298.00" y1="201.20" x2="298.00" y2="207.80" stroke="#6a6a6a" stroke-width="1.0" />
<line x1="299.40" y1="201.20" x2="299.40" y2="207.80" stroke="#6a6a6a" stroke-width="1.0" />
<line x1="300.90" y1="201.20" x2="300.90" y2="207.80" stroke="#6a6a6a" stroke-width="1.0" />
<line x1="303.80" y1="201.20" x2="303.80" y2="207.80" stroke="#6a6a6a" stroke-width="1.0" />
<line x1="306.70" y1="201.20" x2="306.70" y2="207.80" stroke="#6a6a6a" stroke-width="1.0" />
<line x1="310.40" y1="201.20" x2="310.40" y2="207.80" stroke="#6a6a6a" stroke-width="1.0" />
<line x1="314.80" y1="201.20" x2="314.80" y2="207.80" stroke="#6a6a6a" stroke-width="1.0" />
<line x1="317.00" y1="201.20" x2="317.00" y2="207.80" stroke="#6a6a6a" stroke-width="1.0" />
<line x1="319.20" y1="201.20" x2="319.20" y2="207.80" stroke="#6a6a6a" stroke-width="1.0" />
<line x1="321.40" y1="201.20" x2="321.40" y2="207.80" stroke="#6a6a6a" stroke-width="1.0" />
<line x1="323.60" y1="201.20" x2="323.60" y2="207.80" stroke="#6a6a6a" stroke-width="1.0" />
<line x1="330.90" y1="201.20" x2="330.90" y2="207.80" stroke="#6a6a6a" stroke-width="1.0" />
<line x1="333.00" y1="201.20" x2="333.00" y2="207.80" stroke="#6a6a6a" stroke-width="1.0" />
<line x1="334.50" y1="201.20" x2="334.50" y2="207.80" stroke="#6a6a6a" stroke-width="1.0" />
<path d="M279.8 203.7 L278.5 204.7 L279.8 205.7" fill="none" stroke="#333" stroke-width="0.5"/>
<path d="M283.8 203.7 L282.5 204.7 L283.8 205.7" fill="none" stroke="#333" stroke-width="0.5"/>
<path d="M287.8 203.7 L286.5 204.7 L287.8 205.7" fill="none" stroke="#333" stroke-width="0.5"/>
<path d="M291.8 203.7 L290.5 204.7 L291.8 205.7" fill="none" stroke="#333" stroke-width="0.5"/>
<path d="M295.8 203.7 L294.5 204.7 L295.8 205.7" fill="none" stroke="#333" stroke-width="0.5"/>
<path d="M299.8 203.7 L298.5 204.7 L299.8 205.7" fill="none" stroke="#333" stroke-width="0.5"/>
<path d="M303.8 203.7 L302.5 204.7 L303.8 205.7" fill="none" stroke="#333" stroke-width="0.5"/>
<path d="M307.8 203.7 L306.5 204.7 L307.8 205.7" fill="none" stroke="#333" stroke-width="0.5"/>
<path d="M311.8 203.7 L310.5 204.7 L311.8 205.7" fill="none" stroke="#333" stroke-width="0.5"/>
<path d="M315.8 203.7 L314.5 204.7 L315.8 205.7" fill="none" stroke="#333" stroke-width="0.5"/>
<path d="M319.8 203.7 L318.5 204.7 L319.8 205.7" fill="none" stroke="#333" stroke-width="0.5"/>
<path d="M323.8 203.7 L322.5 204.7 L323.8 205.7" fill="none" stroke="#333" stroke-width="0.5"/>
<path d="M327.8 203.7 L326.5 204.7 L327.8 205.7" fill="none" stroke="#333" stroke-width="0.5"/>
<path d="M331.8 203.7 L330.5 204.7 L331.8 205.7" fill="none" stroke="#333" stroke-width="0.5"/>
<path d="M335.8 203.7 L334.5 204.7 L335.8 205.7" fill="none" stroke="#333" stroke-width="0.5"/>
<path d="M339.8 203.7 L338.5 204.7 L339.8 205.7" fill="none" stroke="#333" stroke-width="0.5"/>
<line x1="340.40" y1="203.00" x2="340.40" y2="206.40" stroke="#222" stroke-width="0.8" />
<text x="293.0" y="220.7" font-size="8.6" fill="#111" textLength="29.0" lengthAdjust="spacingAndGlyphs" stroke="#111" stroke-width="0.15">STAT1</text>
<rect x="419.00" y="201.70" width="10.80" height="4.30" fill="#000" />
<line x1="429.80" y1="203.80" x2="460.40" y2="203.80" stroke="#222" stroke-width="0.9" />
<rect x="429.80" y="200.20" width="2.70" height="7.40" fill="#999" />
<rect x="439.80" y="200.20" width="4.00" height="7.40" fill="#555" />
<line x1="437.60" y1="201.20" x2="437.60" y2="206.40" stroke="#555" stroke-width="0.8" />
<line x1="446.40" y1="201.20" x2="446.40" y2="206.40" stroke="#555" stroke-width="0.8" />
<line x1="450.20" y1="201.20" x2="450.20" y2="206.40" stroke="#555" stroke-width="0.8" />
<line x1="454.50" y1="201.20" x2="454.50" y2="206.40" stroke="#555" stroke-width="0.8" />
<path d="M460.4 201.8 L458.6 203.8 L460.4 205.8" fill="none" stroke="#222" stroke-width="0.8"/>
<path d="M434.8 202.9 L433.5 203.8 L434.8 204.7" fill="none" stroke="#444" stroke-width="0.5"/>
<path d="M438.8 202.9 L437.5 203.8 L438.8 204.7" fill="none" stroke="#444" stroke-width="0.5"/>
<path d="M442.8 202.9 L441.5 203.8 L442.8 204.7" fill="none" stroke="#444" stroke-width="0.5"/>
<path d="M446.8 202.9 L445.5 203.8 L446.8 204.7" fill="none" stroke="#444" stroke-width="0.5"/>
<path d="M450.8 202.9 L449.5 203.8 L450.8 204.7" fill="none" stroke="#444" stroke-width="0.5"/>
<path d="M454.8 202.9 L453.5 203.8 L454.8 204.7" fill="none" stroke="#444" stroke-width="0.5"/>
<text x="429.6" y="220.9" font-size="8.6" fill="#111" textLength="19.9" lengthAdjust="spacingAndGlyphs" stroke="#111" stroke-width="0.15">IRF1</text>
<text x="47.20" y="329.80" font-size="10.2" text-anchor="start" fill="#000" font-weight="bold">F</text>
<line x1="89.00" y1="336.90" x2="89.00" y2="431.90" stroke="#222" stroke-width="1" />
<line x1="88.50" y1="431.40" x2="192.70" y2="431.40" stroke="#222" stroke-width="1" />
<line x1="86.40" y1="339.40" x2="89.00" y2="339.40" stroke="#222" stroke-width="0.9" />
<text x="83.00" y="341.90" font-size="7.0" text-anchor="end" fill="#222"  stroke="#222" stroke-width="0.2">1.0</text>
<line x1="86.40" y1="389.40" x2="89.00" y2="389.40" stroke="#222" stroke-width="0.9" />
<text x="83.00" y="391.90" font-size="7.0" text-anchor="end" fill="#222"  stroke="#222" stroke-width="0.2">0.5</text>
<line x1="92.71" y1="431.40" x2="92.71" y2="433.60" stroke="#222" stroke-width="0.9" />
<text x="91.81" y="445.60" font-size="8.0" text-anchor="middle" fill="#222"  stroke="#222" stroke-width="0.2">−3</text>
<line x1="142.00" y1="431.40" x2="142.00" y2="433.60" stroke="#222" stroke-width="0.9" />
<text x="142.00" y="445.60" font-size="8.0" text-anchor="middle" fill="#222"  stroke="#222" stroke-width="0.2">0</text>
<line x1="191.29" y1="431.40" x2="191.29" y2="433.60" stroke="#222" stroke-width="0.9" />
<text x="191.29" y="445.60" font-size="8.0" text-anchor="middle" fill="#222"  stroke="#222" stroke-width="0.2">3</text>
<text x="142.2" y="457.8" font-size="8.8" text-anchor="middle" fill="#222" textLength="112" lengthAdjust="spacingAndGlyphs" stroke="#222" stroke-width="0.15">Distance to STAT1 peaks (kb)</text>
<text transform="translate(64.6,385) rotate(-90)" font-size="8.6" text-anchor="middle" fill="#222" textLength="95" lengthAdjust="spacingAndGlyphs" stroke="#222" stroke-width="0.15">Average reads/million/bp</text>
<path d="M92.71 431.40 L93.12 431.25 L93.53 431.10 L93.94 430.97 L94.35 430.85 L94.76 430.74 L95.17 430.64 L95.59 430.56 L96.00 430.48 L96.41 430.42 L96.82 430.37 L97.23 430.33 L97.64 430.30 L98.05 430.28 L98.46 430.26 L98.87 430.25 L99.28 430.25 L99.69 430.24 L100.10 430.23 L100.51 430.22 L100.92 430.21 L101.34 430.20 L101.75 430.19 L102.16 430.18 L102.57 430.17 L102.98 430.16 L103.39 430.15 L103.80 430.15 L104.21 430.14 L104.62 430.13 L105.03 430.12 L105.44 430.11 L105.85 430.10 L106.26 430.09 L106.68 430.08 L107.09 430.07 L107.50 430.06 L107.91 430.05 L108.32 430.04 L108.73 430.03 L109.14 430.02 L109.55 430.01 L109.96 429.99 L110.37 429.98 L110.78 429.97 L111.19 429.96 L111.60 429.95 L112.02 429.94 L112.43 429.93 L112.84 429.92 L113.25 429.90 L113.66 429.89 L114.07 429.88 L114.48 429.87 L114.89 429.86 L115.30 429.84 L115.71 429.83 L116.12 429.82 L116.53 429.80 L116.94 429.79 L117.36 429.78 L117.77 429.76 L118.18 429.75 L118.59 429.73 L119.00 429.72 L119.41 429.70 L119.82 429.69 L120.23 429.67 L120.64 429.66 L121.05 429.64 L121.46 429.62 L121.87 429.61 L122.28 429.59 L122.69 429.57 L123.11 429.55 L123.52 429.53 L123.93 429.52 L124.34 429.50 L124.75 429.47 L125.16 429.45 L125.57 429.43 L125.98 429.40 L126.39 429.38 L126.80 429.35 L127.21 429.32 L127.62 429.28 L128.03 429.24 L128.45 429.20 L128.86 429.15 L129.27 429.10 L129.68 429.03 L130.09 428.96 L130.50 428.88 L130.91 428.79 L131.32 428.69 L131.73 428.57 L132.14 428.43 L132.55 428.28 L132.96 428.11 L133.37 427.91 L133.78 427.69 L134.20 427.45 L134.61 427.19 L135.02 426.90 L135.43 426.59 L135.84 426.26 L136.25 425.92 L136.66 425.56 L137.07 425.19 L137.48 424.81 L137.89 424.44 L138.30 424.07 L138.71 423.71 L139.12 423.36 L139.54 423.05 L139.95 422.76 L140.36 422.50 L140.77 422.28 L141.18 422.11 L141.59 421.98 L142.00 421.90 L142.41 421.98 L142.82 422.11 L143.23 422.28 L143.64 422.50 L144.05 422.76 L144.46 423.05 L144.88 423.36 L145.29 423.71 L145.70 424.07 L146.11 424.44 L146.52 424.81 L146.93 425.19 L147.34 425.56 L147.75 425.92 L148.16 426.26 L148.57 426.59 L148.98 426.90 L149.39 427.19 L149.80 427.45 L150.22 427.69 L150.63 427.91 L151.04 428.11 L151.45 428.28 L151.86 428.43 L152.27 428.57 L152.68 428.69 L153.09 428.79 L153.50 428.88 L153.91 428.96 L154.32 429.03 L154.73 429.10 L155.14 429.15 L155.55 429.20 L155.97 429.24 L156.38 429.28 L156.79 429.32 L157.20 429.35 L157.61 429.38 L158.02 429.40 L158.43 429.43 L158.84 429.45 L159.25 429.47 L159.66 429.50 L160.07 429.52 L160.48 429.53 L160.89 429.55 L161.31 429.57 L161.72 429.59 L162.13 429.61 L162.54 429.62 L162.95 429.64 L163.36 429.66 L163.77 429.67 L164.18 429.69 L164.59 429.70 L165.00 429.72 L165.41 429.73 L165.82 429.75 L166.23 429.76 L166.65 429.78 L167.06 429.79 L167.47 429.80 L167.88 429.82 L168.29 429.83 L168.70 429.84 L169.11 429.86 L169.52 429.87 L169.93 429.88 L170.34 429.89 L170.75 429.90 L171.16 429.92 L171.57 429.93 L171.98 429.94 L172.40 429.95 L172.81 429.96 L173.22 429.97 L173.63 429.98 L174.04 429.99 L174.45 430.01 L174.86 430.02 L175.27 430.03 L175.68 430.04 L176.09 430.05 L176.50 430.06 L176.91 430.07 L177.32 430.08 L177.74 430.09 L178.15 430.10 L178.56 430.11 L178.97 430.12 L179.38 430.13 L179.79 430.14 L180.20 430.15 L180.61 430.15 L181.02 430.16 L181.43 430.17 L181.84 430.18 L182.25 430.19 L182.66 430.20 L183.07 430.21 L183.49 430.22 L183.90 430.23 L184.31 430.24 L184.72 430.25 L185.13 430.25 L185.54 430.26 L185.95 430.28 L186.36 430.30 L186.77 430.33 L187.18 430.37 L187.59 430.42 L188.00 430.48 L188.41 430.56 L188.83 430.64 L189.24 430.74 L189.65 430.85 L190.06 430.97 L190.47 431.10 L190.88 431.25 L191.29 431.40" fill="none" stroke="#3a5a86" stroke-width="1.3" stroke-linejoin="round"/>
<path d="M92.71 431.40 L93.12 430.45 L93.53 429.58 L93.94 428.77 L94.35 428.04 L94.76 427.38 L95.17 426.79 L95.59 426.27 L96.00 425.82 L96.41 425.44 L96.82 425.13 L97.23 424.89 L97.64 424.71 L98.05 424.59 L98.46 424.53 L98.87 424.48 L99.28 424.43 L99.69 424.39 L100.10 424.34 L100.51 424.30 L100.92 424.25 L101.34 424.20 L101.75 424.16 L102.16 424.11 L102.57 424.06 L102.98 424.01 L103.39 423.97 L103.80 423.92 L104.21 423.87 L104.62 423.82 L105.03 423.77 L105.44 423.72 L105.85 423.67 L106.26 423.62 L106.68 423.57 L107.09 423.52 L107.50 423.47 L107.91 423.42 L108.32 423.37 L108.73 423.32 L109.14 423.26 L109.55 423.21 L109.96 423.16 L110.37 423.10 L110.78 423.05 L111.19 422.99 L111.60 422.93 L112.02 422.88 L112.43 422.82 L112.84 422.76 L113.25 422.70 L113.66 422.64 L114.07 422.58 L114.48 422.52 L114.89 422.46 L115.30 422.40 L115.71 422.33 L116.12 422.27 L116.53 422.20 L116.94 422.13 L117.36 422.07 L117.77 422.00 L118.18 421.93 L118.59 421.85 L119.00 421.78 L119.41 421.71 L119.82 421.63 L120.23 421.55 L120.64 421.47 L121.05 421.39 L121.46 421.31 L121.87 421.23 L122.28 421.14 L122.69 421.06 L123.11 420.97 L123.52 420.87 L123.93 420.78 L124.34 420.68 L124.75 420.58 L125.16 420.48 L125.57 420.37 L125.98 420.26 L126.39 420.15 L126.80 420.03 L127.21 419.90 L127.62 419.76 L128.03 419.61 L128.45 419.45 L128.86 419.27 L129.27 419.06 L129.68 418.84 L130.09 418.57 L130.50 418.27 L130.91 417.97 L131.32 417.60 L131.73 417.17 L132.14 416.66 L132.55 416.06 L132.96 415.36 L133.37 414.54 L133.78 413.59 L134.20 412.51 L134.61 411.29 L135.02 409.92 L135.43 408.40 L135.84 406.73 L136.25 404.93 L136.66 403.00 L137.07 400.97 L137.48 398.87 L137.89 396.72 L138.30 394.56 L138.71 392.43 L139.12 390.38 L139.54 388.44 L139.95 386.66 L140.36 385.09 L140.77 383.75 L141.18 382.67 L141.59 381.89 L142.00 381.40 L142.41 381.89 L142.82 382.67 L143.23 383.75 L143.64 385.09 L144.05 386.66 L144.46 388.44 L144.88 390.38 L145.29 392.43 L145.70 394.56 L146.11 396.72 L146.52 398.87 L146.93 400.97 L147.34 403.00 L147.75 404.93 L148.16 406.73 L148.57 408.40 L148.98 409.92 L149.39 411.29 L149.80 412.51 L150.22 413.59 L150.63 414.54 L151.04 415.36 L151.45 416.06 L151.86 416.66 L152.27 417.17 L152.68 417.60 L153.09 417.97 L153.50 418.27 L153.91 418.57 L154.32 418.84 L154.73 419.06 L155.14 419.27 L155.55 419.45 L155.97 419.61 L156.38 419.76 L156.79 419.90 L157.20 420.03 L157.61 420.15 L158.02 420.26 L158.43 420.37 L158.84 420.48 L159.25 420.58 L159.66 420.68 L160.07 420.78 L160.48 420.87 L160.89 420.97 L161.31 421.06 L161.72 421.14 L162.13 421.23 L162.54 421.31 L162.95 421.39 L163.36 421.47 L163.77 421.55 L164.18 421.63 L164.59 421.71 L165.00 421.78 L165.41 421.85 L165.82 421.93 L166.23 422.00 L166.65 422.07 L167.06 422.13 L167.47 422.20 L167.88 422.27 L168.29 422.33 L168.70 422.40 L169.11 422.46 L169.52 422.52 L169.93 422.58 L170.34 422.64 L170.75 422.70 L171.16 422.76 L171.57 422.82 L171.98 422.88 L172.40 422.93 L172.81 422.99 L173.22 423.05 L173.63 423.10 L174.04 423.16 L174.45 423.21 L174.86 423.26 L175.27 423.32 L175.68 423.37 L176.09 423.42 L176.50 423.47 L176.91 423.52 L177.32 423.57 L177.74 423.62 L178.15 423.67 L178.56 423.72 L178.97 423.77 L179.38 423.82 L179.79 423.87 L180.20 423.92 L180.61 423.97 L181.02 424.01 L181.43 424.06 L181.84 424.11 L182.25 424.16 L182.66 424.20 L183.07 424.25 L183.49 424.30 L183.90 424.34 L184.31 424.39 L184.72 424.43 L185.13 424.48 L185.54 424.53 L185.95 424.59 L186.36 424.71 L186.77 424.89 L187.18 425.13 L187.59 425.44 L188.00 425.82 L188.41 426.27 L188.83 426.79 L189.24 427.38 L189.65 428.04 L190.06 428.77 L190.47 429.58 L190.88 430.45 L191.29 431.40" fill="none" stroke="#111" stroke-width="1.5" stroke-linejoin="round"/>
<path d="M92.71 431.40 L93.12 430.75 L93.53 430.15 L93.94 429.59 L94.35 429.08 L94.76 428.61 L95.17 428.18 L95.59 427.81 L96.00 427.48 L96.41 427.19 L96.82 426.96 L97.23 426.77 L97.64 426.62 L98.05 426.52 L98.46 426.46 L98.87 426.41 L99.28 426.35 L99.69 426.30 L100.10 426.25 L100.51 426.20 L100.92 426.15 L101.34 426.10 L101.75 426.05 L102.16 425.99 L102.57 425.94 L102.98 425.89 L103.39 425.83 L103.80 425.78 L104.21 425.73 L104.62 425.67 L105.03 425.62 L105.44 425.56 L105.85 425.51 L106.26 425.45 L106.68 425.40 L107.09 425.34 L107.50 425.29 L107.91 425.23 L108.32 425.17 L108.73 425.11 L109.14 425.05 L109.55 425.00 L109.96 424.94 L110.37 424.88 L110.78 424.81 L111.19 424.75 L111.60 424.69 L112.02 424.63 L112.43 424.57 L112.84 424.50 L113.25 424.44 L113.66 424.37 L114.07 424.30 L114.48 424.24 L114.89 424.17 L115.30 424.10 L115.71 424.03 L116.12 423.96 L116.53 423.89 L116.94 423.81 L117.36 423.74 L117.77 423.66 L118.18 423.58 L118.59 423.51 L119.00 423.43 L119.41 423.34 L119.82 423.26 L120.23 423.18 L120.64 423.09 L121.05 423.00 L121.46 422.91 L121.87 422.82 L122.28 422.73 L122.69 422.63 L123.11 422.53 L123.52 422.43 L123.93 422.33 L124.34 422.22 L124.75 422.11 L125.16 422.00 L125.57 421.89 L125.98 421.77 L126.39 421.64 L126.80 421.51 L127.21 421.38 L127.62 421.23 L128.03 421.08 L128.45 420.91 L128.86 420.73 L129.27 420.53 L129.68 420.30 L130.09 420.05 L130.50 419.75 L130.91 419.46 L131.32 419.11 L131.73 418.69 L132.14 418.20 L132.55 417.60 L132.96 416.90 L133.37 416.07 L133.78 415.10 L134.20 413.98 L134.61 412.69 L135.02 411.22 L135.43 409.58 L135.84 407.76 L136.25 405.76 L136.66 403.61 L137.07 401.31 L137.48 398.91 L137.89 396.44 L138.30 393.94 L138.71 391.45 L139.12 389.04 L139.54 386.76 L139.95 384.65 L140.36 382.78 L140.77 381.18 L141.18 379.90 L141.59 378.97 L142.00 378.40 L142.41 378.97 L142.82 379.90 L143.23 381.18 L143.64 382.78 L144.05 384.65 L144.46 386.76 L144.88 389.04 L145.29 391.45 L145.70 393.94 L146.11 396.44 L146.52 398.91 L146.93 401.31 L147.34 403.61 L147.75 405.76 L148.16 407.76 L148.57 409.58 L148.98 411.22 L149.39 412.69 L149.80 413.98 L150.22 415.10 L150.63 416.07 L151.04 416.90 L151.45 417.60 L151.86 418.20 L152.27 418.69 L152.68 419.11 L153.09 419.46 L153.50 419.75 L153.91 420.05 L154.32 420.30 L154.73 420.53 L155.14 420.73 L155.55 420.91 L155.97 421.08 L156.38 421.23 L156.79 421.38 L157.20 421.51 L157.61 421.64 L158.02 421.77 L158.43 421.89 L158.84 422.00 L159.25 422.11 L159.66 422.22 L160.07 422.33 L160.48 422.43 L160.89 422.53 L161.31 422.63 L161.72 422.73 L162.13 422.82 L162.54 422.91 L162.95 423.00 L163.36 423.09 L163.77 423.18 L164.18 423.26 L164.59 423.34 L165.00 423.43 L165.41 423.51 L165.82 423.58 L166.23 423.66 L166.65 423.74 L167.06 423.81 L167.47 423.89 L167.88 423.96 L168.29 424.03 L168.70 424.10 L169.11 424.17 L169.52 424.24 L169.93 424.30 L170.34 424.37 L170.75 424.44 L171.16 424.50 L171.57 424.57 L171.98 424.63 L172.40 424.69 L172.81 424.75 L173.22 424.81 L173.63 424.88 L174.04 424.94 L174.45 425.00 L174.86 425.05 L175.27 425.11 L175.68 425.17 L176.09 425.23 L176.50 425.29 L176.91 425.34 L177.32 425.40 L177.74 425.45 L178.15 425.51 L178.56 425.56 L178.97 425.62 L179.38 425.67 L179.79 425.73 L180.20 425.78 L180.61 425.83 L181.02 425.89 L181.43 425.94 L181.84 425.99 L182.25 426.05 L182.66 426.10 L183.07 426.15 L183.49 426.20 L183.90 426.25 L184.31 426.30 L184.72 426.35 L185.13 426.41 L185.54 426.46 L185.95 426.52 L186.36 426.62 L186.77 426.77 L187.18 426.96 L187.59 427.19 L188.00 427.48 L188.41 427.81 L188.83 428.18 L189.24 428.61 L189.65 429.08 L190.06 429.59 L190.47 430.15 L190.88 430.75 L191.29 431.40" fill="none" stroke="#b52a48" stroke-width="1.2" stroke-linejoin="round" stroke-dasharray="2.2 1.2"/>
<path d="M92.71 431.40 L93.12 430.95 L93.53 430.52 L93.94 430.11 L94.35 429.73 L94.76 429.38 L95.17 429.06 L95.59 428.77 L96.00 428.52 L96.41 428.29 L96.82 428.10 L97.23 427.94 L97.64 427.81 L98.05 427.71 L98.46 427.64 L98.87 427.58 L99.28 427.52 L99.69 427.47 L100.10 427.41 L100.51 427.35 L100.92 427.29 L101.34 427.23 L101.75 427.17 L102.16 427.11 L102.57 427.05 L102.98 426.98 L103.39 426.92 L103.80 426.86 L104.21 426.80 L104.62 426.74 L105.03 426.67 L105.44 426.61 L105.85 426.54 L106.26 426.48 L106.68 426.41 L107.09 426.35 L107.50 426.28 L107.91 426.22 L108.32 426.15 L108.73 426.08 L109.14 426.01 L109.55 425.94 L109.96 425.87 L110.37 425.80 L110.78 425.73 L111.19 425.66 L111.60 425.58 L112.02 425.51 L112.43 425.43 L112.84 425.36 L113.25 425.28 L113.66 425.20 L114.07 425.12 L114.48 425.04 L114.89 424.96 L115.30 424.87 L115.71 424.79 L116.12 424.70 L116.53 424.61 L116.94 424.52 L117.36 424.43 L117.77 424.34 L118.18 424.25 L118.59 424.15 L119.00 424.05 L119.41 423.95 L119.82 423.85 L120.23 423.74 L120.64 423.64 L121.05 423.53 L121.46 423.42 L121.87 423.30 L122.28 423.18 L122.69 423.06 L123.11 422.94 L123.52 422.81 L123.93 422.68 L124.34 422.55 L124.75 422.41 L125.16 422.27 L125.57 422.12 L125.98 421.97 L126.39 421.81 L126.80 421.64 L127.21 421.47 L127.62 421.29 L128.03 421.09 L128.45 420.88 L128.86 420.65 L129.27 420.40 L129.68 420.11 L130.09 419.79 L130.50 419.42 L130.91 419.04 L131.32 418.59 L131.73 418.04 L132.14 417.40 L132.55 416.62 L132.96 415.69 L133.37 414.59 L133.78 413.30 L134.20 411.79 L134.61 410.04 L135.02 408.05 L135.43 405.79 L135.84 403.27 L136.25 400.50 L136.66 397.49 L137.07 394.26 L137.48 390.87 L137.89 387.36 L138.30 383.79 L138.71 380.23 L139.12 376.77 L139.54 373.48 L139.95 370.44 L140.36 367.73 L140.77 365.42 L141.18 363.57 L141.59 362.22 L142.00 361.40 L142.41 362.22 L142.82 363.57 L143.23 365.42 L143.64 367.73 L144.05 370.44 L144.46 373.48 L144.88 376.77 L145.29 380.23 L145.70 383.79 L146.11 387.36 L146.52 390.87 L146.93 394.26 L147.34 397.49 L147.75 400.50 L148.16 403.27 L148.57 405.79 L148.98 408.05 L149.39 410.04 L149.80 411.79 L150.22 413.30 L150.63 414.59 L151.04 415.69 L151.45 416.62 L151.86 417.40 L152.27 418.04 L152.68 418.59 L153.09 419.04 L153.50 419.42 L153.91 419.79 L154.32 420.11 L154.73 420.40 L155.14 420.65 L155.55 420.88 L155.97 421.09 L156.38 421.29 L156.79 421.47 L157.20 421.64 L157.61 421.81 L158.02 421.97 L158.43 422.12 L158.84 422.27 L159.25 422.41 L159.66 422.55 L160.07 422.68 L160.48 422.81 L160.89 422.94 L161.31 423.06 L161.72 423.18 L162.13 423.30 L162.54 423.42 L162.95 423.53 L163.36 423.64 L163.77 423.74 L164.18 423.85 L164.59 423.95 L165.00 424.05 L165.41 424.15 L165.82 424.25 L166.23 424.34 L166.65 424.43 L167.06 424.52 L167.47 424.61 L167.88 424.70 L168.29 424.79 L168.70 424.87 L169.11 424.96 L169.52 425.04 L169.93 425.12 L170.34 425.20 L170.75 425.28 L171.16 425.36 L171.57 425.43 L171.98 425.51 L172.40 425.58 L172.81 425.66 L173.22 425.73 L173.63 425.80 L174.04 425.87 L174.45 425.94 L174.86 426.01 L175.27 426.08 L175.68 426.15 L176.09 426.22 L176.50 426.28 L176.91 426.35 L177.32 426.41 L177.74 426.48 L178.15 426.54 L178.56 426.61 L178.97 426.67 L179.38 426.74 L179.79 426.80 L180.20 426.86 L180.61 426.92 L181.02 426.98 L181.43 427.05 L181.84 427.11 L182.25 427.17 L182.66 427.23 L183.07 427.29 L183.49 427.35 L183.90 427.41 L184.31 427.47 L184.72 427.52 L185.13 427.58 L185.54 427.64 L185.95 427.71 L186.36 427.81 L186.77 427.94 L187.18 428.10 L187.59 428.29 L188.00 428.52 L188.41 428.77 L188.83 429.06 L189.24 429.38 L189.65 429.73 L190.06 430.11 L190.47 430.52 L190.88 430.95 L191.29 431.40" fill="none" stroke="#b52a48" stroke-width="1.3" stroke-linejoin="round"/>
<line x1="91.9" y1="343.75" x2="103.75" y2="343.75" stroke="#b52a48" stroke-width="1.4"/>
<text x="106.2" y="347.15" font-size="7.9" fill="#222" textLength="43.9" lengthAdjust="spacingAndGlyphs" stroke="#222" stroke-width="0.2">STAT1 (6 hr)</text>
<line x1="91.9" y1="351.5" x2="103.75" y2="351.5" stroke="#b52a48" stroke-width="1.4" stroke-dasharray="2.5 1.3"/>
<text x="106.2" y="354.90" font-size="7.9" fill="#222" textLength="53.9" lengthAdjust="spacingAndGlyphs" stroke="#222" stroke-width="0.2">STAT1 (30 min)</text>
<line x1="91.9" y1="359.6" x2="103.75" y2="359.6" stroke="#111" stroke-width="1.4"/>
<text x="106.2" y="363.00" font-size="7.9" fill="#222" textLength="27.7" lengthAdjust="spacingAndGlyphs" stroke="#222" stroke-width="0.2">ARID3A</text>
<line x1="91.9" y1="366.9" x2="103.75" y2="366.9" stroke="#3a5a86" stroke-width="1.4"/>
<text x="106.2" y="370.30" font-size="7.9" fill="#222" textLength="16.0" lengthAdjust="spacingAndGlyphs" stroke="#222" stroke-width="0.2">TR4</text>
<text x="45.80" y="506.90" font-size="11.0" text-anchor="start" fill="#000" font-weight="bold">H</text>
<text x="245.00" y="506.70" font-size="11.2" text-anchor="start" fill="#000" font-weight="bold">I</text>
<line x1="92.90" y1="529.00" x2="92.90" y2="615.20" stroke="#111" stroke-width="1" />
<line x1="92.40" y1="614.70" x2="227.90" y2="614.70" stroke="#111" stroke-width="1" />
<line x1="90.30" y1="614.70" x2="92.90" y2="614.70" stroke="#111" stroke-width="0.9" />
<text x="87.30" y="617.60" font-size="8.1" text-anchor="end" fill="#111"  stroke="#111" stroke-width="0.2">0</text>
<line x1="90.30" y1="602.60" x2="92.90" y2="602.60" stroke="#111" stroke-width="0.9" />
<text x="87.30" y="605.50" font-size="8.1" text-anchor="end" fill="#111"  stroke="#111" stroke-width="0.2">0.002</text>
<line x1="90.30" y1="590.50" x2="92.90" y2="590.50" stroke="#111" stroke-width="0.9" />
<text x="87.30" y="593.40" font-size="8.1" text-anchor="end" fill="#111"  stroke="#111" stroke-width="0.2">0.004</text>
<line x1="90.30" y1="578.40" x2="92.90" y2="578.40" stroke="#111" stroke-width="0.9" />
<text x="87.30" y="581.30" font-size="8.1" text-anchor="end" fill="#111"  stroke="#111" stroke-width="0.2">0.006</text>
<line x1="90.30" y1="566.30" x2="92.90" y2="566.30" stroke="#111" stroke-width="0.9" />
<text x="87.30" y="569.20" font-size="8.1" text-anchor="end" fill="#111"  stroke="#111" stroke-width="0.2">0.008</text>
<line x1="90.30" y1="554.20" x2="92.90" y2="554.20" stroke="#111" stroke-width="0.9" />
<text x="87.30" y="557.10" font-size="8.1" text-anchor="end" fill="#111"  stroke="#111" stroke-width="0.2">0.01</text>
<line x1="90.30" y1="542.10" x2="92.90" y2="542.10" stroke="#111" stroke-width="0.9" />
<text x="87.30" y="545.00" font-size="8.1" text-anchor="end" fill="#111"  stroke="#111" stroke-width="0.2">0.012</text>
<line x1="90.30" y1="530.00" x2="92.90" y2="530.00" stroke="#111" stroke-width="0.9" />
<text x="87.30" y="532.90" font-size="8.1" text-anchor="end" fill="#111"  stroke="#111" stroke-width="0.2">0.014</text>
<rect x="97.00" y="566.30" width="5.00" height="48.40" fill="#000" />
<line x1="99.50" y1="566.30" x2="99.50" y2="538.47" stroke="#111" stroke-width="1.1" />
<line x1="98.40" y1="538.47" x2="100.80" y2="538.47" stroke="#111" stroke-width="1.1" />
<line x1="104.95" y1="614.70" x2="104.95" y2="616.90" stroke="#111" stroke-width="0.9" />
<text transform="translate(102.10,620.8) rotate(-90)" font-size="8.4" text-anchor="end" fill="#111" stroke="#111" stroke-width="0.2">IFNAR1_0kb</text>
<rect x="107.90" y="575.38" width="5.00" height="39.33" fill="#000" />
<line x1="110.40" y1="575.38" x2="110.40" y2="557.83" stroke="#111" stroke-width="1.1" />
<line x1="109.30" y1="557.83" x2="111.70" y2="557.83" stroke="#111" stroke-width="1.1" />
<line x1="115.85" y1="614.70" x2="115.85" y2="616.90" stroke="#111" stroke-width="0.9" />
<text transform="translate(113.00,620.8) rotate(-90)" font-size="8.4" text-anchor="end" fill="#111" stroke="#111" stroke-width="0.2">IFNAR1_5kb_UP</text>
<rect x="118.80" y="583.85" width="5.00" height="30.86" fill="#000" />
<line x1="121.30" y1="583.85" x2="121.30" y2="570.54" stroke="#111" stroke-width="1.1" />
<line x1="120.20" y1="570.54" x2="122.60" y2="570.54" stroke="#111" stroke-width="1.1" />
<line x1="126.75" y1="614.70" x2="126.75" y2="616.90" stroke="#111" stroke-width="0.9" />
<text transform="translate(123.90,620.8) rotate(-90)" font-size="8.4" text-anchor="end" fill="#111" stroke="#111" stroke-width="0.2">IFNAR1_10kb_UP</text>
<rect x="129.70" y="597.76" width="5.00" height="16.94" fill="#000" />
<line x1="132.20" y1="597.76" x2="132.20" y2="591.11" stroke="#111" stroke-width="1.1" />
<line x1="131.10" y1="591.11" x2="133.50" y2="591.11" stroke="#111" stroke-width="1.1" />
<line x1="137.65" y1="614.70" x2="137.65" y2="616.90" stroke="#111" stroke-width="0.9" />
<text transform="translate(134.80,620.8) rotate(-90)" font-size="8.4" text-anchor="end" fill="#111" stroke="#111" stroke-width="0.2">IFNA_0kb</text>
<rect x="140.60" y="591.71" width="5.00" height="22.99" fill="#000" />
<line x1="143.10" y1="591.71" x2="143.10" y2="582.63" stroke="#111" stroke-width="1.1" />
<line x1="142.00" y1="582.63" x2="144.40" y2="582.63" stroke="#111" stroke-width="1.1" />
<line x1="148.55" y1="614.70" x2="148.55" y2="616.90" stroke="#111" stroke-width="0.9" />
<text transform="translate(145.70,620.8) rotate(-90)" font-size="8.4" text-anchor="end" fill="#111" stroke="#111" stroke-width="0.2">IFNA_2kb_UP</text>
<rect x="151.50" y="608.05" width="5.00" height="6.66" fill="#000" />
<line x1="154.00" y1="608.05" x2="154.00" y2="603.21" stroke="#111" stroke-width="1.1" />
<line x1="152.90" y1="603.21" x2="155.30" y2="603.21" stroke="#111" stroke-width="1.1" />
<line x1="159.45" y1="614.70" x2="159.45" y2="616.90" stroke="#111" stroke-width="0.9" />
<text transform="translate(156.60,620.8) rotate(-90)" font-size="8.4" text-anchor="end" fill="#111" stroke="#111" stroke-width="0.2">IFNA_5kb_UP</text>
<rect x="162.40" y="593.53" width="5.00" height="21.18" fill="#000" />
<line x1="164.90" y1="593.53" x2="164.90" y2="580.82" stroke="#111" stroke-width="1.1" />
<line x1="163.80" y1="580.82" x2="166.20" y2="580.82" stroke="#111" stroke-width="1.1" />
<line x1="170.35" y1="614.70" x2="170.35" y2="616.90" stroke="#111" stroke-width="0.9" />
<text transform="translate(167.50,620.8) rotate(-90)" font-size="8.4" text-anchor="end" fill="#111" stroke="#111" stroke-width="0.2">IRF1_0kb</text>
<rect x="173.30" y="571.75" width="5.00" height="42.96" fill="#000" />
<line x1="175.80" y1="571.75" x2="175.80" y2="551.78" stroke="#111" stroke-width="1.1" />
<line x1="174.70" y1="551.78" x2="177.10" y2="551.78" stroke="#111" stroke-width="1.1" />
<line x1="181.25" y1="614.70" x2="181.25" y2="616.90" stroke="#111" stroke-width="0.9" />
<text transform="translate(178.40,620.8) rotate(-90)" font-size="8.4" text-anchor="end" fill="#111" stroke="#111" stroke-width="0.2">IRF1_2kb_UP</text>
<rect x="184.20" y="577.19" width="5.00" height="37.51" fill="#000" />
<line x1="186.70" y1="577.19" x2="186.70" y2="562.07" stroke="#111" stroke-width="1.1" />
<line x1="185.60" y1="562.07" x2="188.00" y2="562.07" stroke="#111" stroke-width="1.1" />
<line x1="192.15" y1="614.70" x2="192.15" y2="616.90" stroke="#111" stroke-width="0.9" />
<text transform="translate(189.30,620.8) rotate(-90)" font-size="8.4" text-anchor="end" fill="#111" stroke="#111" stroke-width="0.2">IRF1_5kb_UP</text>
<rect x="195.10" y="561.46" width="5.00" height="53.24" fill="#000" />
<line x1="197.60" y1="561.46" x2="197.60" y2="536.05" stroke="#111" stroke-width="1.1" />
<line x1="196.50" y1="536.05" x2="198.90" y2="536.05" stroke="#111" stroke-width="1.1" />
<line x1="203.05" y1="614.70" x2="203.05" y2="616.90" stroke="#111" stroke-width="0.9" />
<text transform="translate(200.20,620.8) rotate(-90)" font-size="8.4" text-anchor="end" fill="#111" stroke="#111" stroke-width="0.2">STAT1_0kb</text>
<rect x="206.00" y="592.92" width="5.00" height="21.78" fill="#000" />
<line x1="208.50" y1="592.92" x2="208.50" y2="584.45" stroke="#111" stroke-width="1.1" />
<line x1="207.40" y1="584.45" x2="209.80" y2="584.45" stroke="#111" stroke-width="1.1" />
<line x1="213.95" y1="614.70" x2="213.95" y2="616.90" stroke="#111" stroke-width="0.9" />
<text transform="translate(211.10,620.8) rotate(-90)" font-size="8.4" text-anchor="end" fill="#111" stroke="#111" stroke-width="0.2">STAT1_5kb_UP</text>
<rect x="216.90" y="583.85" width="5.00" height="30.86" fill="#000" />
<line x1="219.40" y1="583.85" x2="219.40" y2="571.75" stroke="#111" stroke-width="1.1" />
<line x1="218.30" y1="571.75" x2="220.70" y2="571.75" stroke="#111" stroke-width="1.1" />
<line x1="224.85" y1="614.70" x2="224.85" y2="616.90" stroke="#111" stroke-width="0.9" />
<text transform="translate(222.00,620.8) rotate(-90)" font-size="8.4" text-anchor="end" fill="#111" stroke="#111" stroke-width="0.2">STAT1_9kb_UP</text>
<text x="125.0" y="521.8" font-size="9.2" fill="#111" textLength="71.6" lengthAdjust="spacingAndGlyphs" stroke="#111" stroke-width="0.15">K562 ChIP-PCR</text>
<text transform="translate(62.4,570.5) rotate(-90)" font-size="8.6" text-anchor="middle" fill="#111" textLength="72" lengthAdjust="spacingAndGlyphs" stroke="#111" stroke-width="0.15">Enrichment / input</text>
<line x1="294.40" y1="526.90" x2="294.40" y2="615.30" stroke="#111" stroke-width="1" />
<line x1="293.90" y1="614.80" x2="412.70" y2="614.80" stroke="#111" stroke-width="1" />
<line x1="291.80" y1="614.80" x2="294.40" y2="614.80" stroke="#111" stroke-width="0.9" />
<text x="289.60" y="617.70" font-size="8.3" text-anchor="end" fill="#111"  stroke="#111" stroke-width="0.2">0</text>
<line x1="291.80" y1="602.39" x2="294.40" y2="602.39" stroke="#111" stroke-width="0.9" />
<text x="289.60" y="605.29" font-size="8.3" text-anchor="end" fill="#111"  stroke="#111" stroke-width="0.2">0.005</text>
<line x1="291.80" y1="589.97" x2="294.40" y2="589.97" stroke="#111" stroke-width="0.9" />
<text x="289.60" y="592.87" font-size="8.3" text-anchor="end" fill="#111"  stroke="#111" stroke-width="0.2">0.01</text>
<line x1="291.80" y1="577.56" x2="294.40" y2="577.56" stroke="#111" stroke-width="0.9" />
<text x="289.60" y="580.46" font-size="8.3" text-anchor="end" fill="#111"  stroke="#111" stroke-width="0.2">0.015</text>
<line x1="291.80" y1="565.14" x2="294.40" y2="565.14" stroke="#111" stroke-width="0.9" />
<text x="289.60" y="568.04" font-size="8.3" text-anchor="end" fill="#111"  stroke="#111" stroke-width="0.2">0.02</text>
<line x1="291.80" y1="552.73" x2="294.40" y2="552.73" stroke="#111" stroke-width="0.9" />
<text x="289.60" y="555.63" font-size="8.3" text-anchor="end" fill="#111"  stroke="#111" stroke-width="0.2">0.025</text>
<line x1="291.80" y1="540.31" x2="294.40" y2="540.31" stroke="#111" stroke-width="0.9" />
<text x="289.60" y="543.21" font-size="8.3" text-anchor="end" fill="#111"  stroke="#111" stroke-width="0.2">0.03</text>
<line x1="291.80" y1="527.90" x2="294.40" y2="527.90" stroke="#111" stroke-width="0.9" />
<text x="289.60" y="530.80" font-size="8.3" text-anchor="end" fill="#111"  stroke="#111" stroke-width="0.2">0.035</text>
<rect x="299.20" y="599.90" width="5.80" height="14.90" fill="#000" />
<line x1="302.10" y1="599.90" x2="302.10" y2="587.49" stroke="#111" stroke-width="1.1" />
<line x1="301.00" y1="587.49" x2="303.40" y2="587.49" stroke="#111" stroke-width="1.1" />
<line x1="309.31" y1="614.80" x2="309.31" y2="617.00" stroke="#111" stroke-width="0.9" />
<text transform="translate(304.70,620.8) rotate(-90)" font-size="8.4" text-anchor="end" fill="#111" stroke="#111" stroke-width="0.2">IFNAR1_0kb</text>
<rect x="313.63" y="573.34" width="5.80" height="41.46" fill="#000" />
<line x1="316.53" y1="573.34" x2="316.53" y2="559.68" stroke="#111" stroke-width="1.1" />
<line x1="315.43" y1="559.68" x2="317.83" y2="559.68" stroke="#111" stroke-width="1.1" />
<line x1="323.75" y1="614.80" x2="323.75" y2="617.00" stroke="#111" stroke-width="0.9" />
<text transform="translate(319.13,620.8) rotate(-90)" font-size="8.4" text-anchor="end" fill="#111" stroke="#111" stroke-width="0.2">IFNAR1_5kb_UP</text>
<rect x="328.06" y="609.09" width="5.80" height="5.71" fill="#000" />
<line x1="330.96" y1="609.09" x2="330.96" y2="607.60" stroke="#111" stroke-width="1.1" />
<line x1="329.86" y1="607.60" x2="332.26" y2="607.60" stroke="#111" stroke-width="1.1" />
<line x1="338.18" y1="614.80" x2="338.18" y2="617.00" stroke="#111" stroke-width="0.9" />
<text transform="translate(333.56,620.8) rotate(-90)" font-size="8.4" text-anchor="end" fill="#111" stroke="#111" stroke-width="0.2">IFNA_0kb</text>
<rect x="342.49" y="601.89" width="5.80" height="12.91" fill="#000" />
<line x1="345.39" y1="601.89" x2="345.39" y2="593.20" stroke="#111" stroke-width="1.1" />
<line x1="344.29" y1="593.20" x2="346.69" y2="593.20" stroke="#111" stroke-width="1.1" />
<line x1="352.61" y1="614.80" x2="352.61" y2="617.00" stroke="#111" stroke-width="0.9" />
<text transform="translate(347.99,620.8) rotate(-90)" font-size="8.4" text-anchor="end" fill="#111" stroke="#111" stroke-width="0.2">IFNA_5kb_UP</text>
<rect x="356.92" y="572.34" width="5.80" height="42.46" fill="#000" />
<line x1="359.82" y1="572.34" x2="359.82" y2="569.86" stroke="#111" stroke-width="1.1" />
<line x1="358.72" y1="569.86" x2="361.12" y2="569.86" stroke="#111" stroke-width="1.1" />
<line x1="367.03" y1="614.80" x2="367.03" y2="617.00" stroke="#111" stroke-width="0.9" />
<text transform="translate(362.42,620.8) rotate(-90)" font-size="8.4" text-anchor="end" fill="#111" stroke="#111" stroke-width="0.2">IRF1_2kb_UP</text>
<rect x="371.35" y="575.57" width="5.80" height="39.23" fill="#000" />
<line x1="374.25" y1="575.57" x2="374.25" y2="571.35" stroke="#111" stroke-width="1.1" />
<line x1="373.15" y1="571.35" x2="375.55" y2="571.35" stroke="#111" stroke-width="1.1" />
<line x1="381.47" y1="614.80" x2="381.47" y2="617.00" stroke="#111" stroke-width="0.9" />
<text transform="translate(376.85,620.8) rotate(-90)" font-size="8.4" text-anchor="end" fill="#111" stroke="#111" stroke-width="0.2">IRF1_5kb_UP</text>
<rect x="385.78" y="552.23" width="5.80" height="62.57" fill="#000" />
<line x1="388.68" y1="552.23" x2="388.68" y2="537.33" stroke="#111" stroke-width="1.1" />
<line x1="387.58" y1="537.33" x2="389.98" y2="537.33" stroke="#111" stroke-width="1.1" />
<line x1="395.89" y1="614.80" x2="395.89" y2="617.00" stroke="#111" stroke-width="0.9" />
<text transform="translate(391.28,620.8) rotate(-90)" font-size="8.4" text-anchor="end" fill="#111" stroke="#111" stroke-width="0.2">STAT1_0kb</text>
<rect x="400.21" y="586.50" width="5.80" height="28.30" fill="#000" />
<line x1="410.32" y1="614.80" x2="410.32" y2="617.00" stroke="#111" stroke-width="0.9" />
<text transform="translate(405.71,620.8) rotate(-90)" font-size="8.4" text-anchor="end" fill="#111" stroke="#111" stroke-width="0.2">STAT1_5kb_UP</text>
<text x="305.8" y="520.3" font-size="9.2" fill="#111" textLength="95.8" lengthAdjust="spacingAndGlyphs" stroke="#111" stroke-width="0.15">CB CD34+ ChIP-PCR</text>
<text transform="translate(262.5,567.8) rotate(-90)" font-size="8.6" text-anchor="middle" fill="#111" textLength="74" lengthAdjust="spacingAndGlyphs" stroke="#111" stroke-width="0.15">Enrichment / input</text>
<defs>
<filter id="gb1" x="-50%" y="-50%" width="200%" height="200%"><feGaussianBlur stdDeviation="1.3"/></filter>
<filter id="gb2" x="-50%" y="-50%" width="200%" height="200%"><feGaussianBlur stdDeviation="2.2"/></filter>
<filter id="gb3" x="-50%" y="-50%" width="200%" height="200%"><feGaussianBlur stdDeviation="3.5"/></filter>
<filter id="gnz" x="0" y="0" width="100%" height="100%">
<feTurbulence type="fractalNoise" baseFrequency="0.5" numOctaves="2" seed="9" result="n"/>
<feColorMatrix in="n" type="matrix" values="0 0 0 0 0  0 0 0 0 0  0 0 0 0 0  0 0 0 1.2 -0.45" result="r"/>
<feComposite in="r" in2="SourceGraphic" operator="in"/></filter>
<clipPath id="gl"><rect x="266.6" y="356.4" width="12.5" height="64.6"/></clipPath>
<clipPath id="gr"><rect x="280.5" y="355.5" width="38.2" height="65.5"/></clipPath>
<clipPath id="g1"><rect x="347.7" y="347.4" width="56.9" height="22.2"/></clipPath>
<clipPath id="g2"><rect x="347.7" y="371.3" width="56.9" height="22.5"/></clipPath>
<clipPath id="g3"><rect x="347.7" y="396.3" width="56.9" height="21.5"/></clipPath>
</defs>
<text x="215.30" y="330.50" font-size="11.4" text-anchor="start" fill="#000" font-weight="bold">G</text>
<text x="265.4" y="344.3" font-size="9.3" fill="#111" textLength="50.8" lengthAdjust="spacingAndGlyphs" stroke="#111" stroke-width="0.15">IP: ARID3A</text>
<text x="265.4" y="353.1" font-size="9.3" fill="#111" textLength="50.8" lengthAdjust="spacingAndGlyphs" stroke="#111" stroke-width="0.15">IB: ARID3A</text>
<g clip-path="url(#gl)">
<rect x="266.60" y="356.40" width="12.50" height="64.60" fill="#bcbcbc" />
<rect x="262" y="352" width="5.5" height="72" fill="#888" filter="url(#gb1)"/>
<ellipse cx="273.5" cy="367" rx="6.5" ry="11.5" fill="#545454" filter="url(#gb2)"/>
<ellipse cx="273.5" cy="381" rx="6" ry="2.6" fill="#303030" filter="url(#gb1)"/>
<ellipse cx="273" cy="411" rx="2.2" ry="1.3" fill="#7a7a7a" filter="url(#gb1)"/>
<rect x="266.60" y="356.40" width="12.50" height="64.60" fill="#fff" filter="url(#gnz)" opacity="0.25"/>
</g>
<g clip-path="url(#gr)">
<rect x="280.50" y="355.50" width="38.20" height="65.50" fill="#aaaaaa" />
<line x1="286.80" y1="356.00" x2="286.80" y2="421.00" stroke="#9a9a9a" stroke-width="0.6" />
<ellipse cx="297.5" cy="373" rx="5" ry="6.5" fill="#c6c6c6" filter="url(#gb2)"/>
<ellipse cx="297.3" cy="390.6" rx="5" ry="2.4" fill="#3c3c3c" filter="url(#gb1)"/>
<ellipse cx="297.8" cy="403.3" rx="5.4" ry="2.9" fill="#2c2c2c" filter="url(#gb1)"/>
<path d="M307 364 C308 359 312 357 315.5 360 C317.5 367 317.8 378 317 390 L305.5 390 C305 382 305.5 372 307 364 Z" fill="#2c2c2c" filter="url(#gb1)"/>
<ellipse cx="312" cy="368" rx="4" ry="7" fill="#1c1c1c" filter="url(#gb2)"/>
<ellipse cx="311" cy="391" rx="5.5" ry="3.2" fill="#2c2c2c" filter="url(#gb1)"/>
<ellipse cx="311.3" cy="404" rx="5.6" ry="4.2" fill="#1e1e1e" filter="url(#gb1)"/>
<rect x="280.50" y="355.50" width="38.20" height="65.50" fill="#fff" filter="url(#gnz)" opacity="0.2"/>
</g>
<path d="M318.5 382.3 L324.6 378.7 L323.2 382.3 L324.6 385.9 Z" fill="#111" stroke="#111" stroke-width="0.4" stroke-linejoin="round"/>
<line x1="322.50" y1="382.30" x2="326.60" y2="382.30" stroke="#111" stroke-width="1.3" />
<text x="226.0" y="369.6" font-size="9.2" fill="#111" textLength="38.2" lengthAdjust="spacingAndGlyphs" stroke="#111" stroke-width="0.15">150 KDa</text>
<text x="226.0" y="378.4" font-size="9.2" fill="#111" textLength="38.2" lengthAdjust="spacingAndGlyphs" stroke="#111" stroke-width="0.15">102 KDa</text>
<text x="229.3" y="387.9" font-size="9.2" fill="#111" textLength="32.5" lengthAdjust="spacingAndGlyphs" stroke="#111" stroke-width="0.15">76 KDa</text>
<line x1="263.70" y1="366.90" x2="266.60" y2="366.90" stroke="#222" stroke-width="0.9" />
<line x1="263.70" y1="377.40" x2="266.60" y2="377.40" stroke="#222" stroke-width="0.9" />
<line x1="264.30" y1="385.70" x2="266.60" y2="385.70" stroke="#222" stroke-width="0.9" />
<text transform="translate(275.4,446.6) rotate(-90)" font-size="9.2" fill="#111" textLength="22.6" lengthAdjust="spacingAndGlyphs" stroke="#111" stroke-width="0.15">Input</text>
<text transform="translate(289.1,463.4) rotate(-90)" font-size="9.2" fill="#111" textLength="39.4" lengthAdjust="spacingAndGlyphs" stroke="#111" stroke-width="0.15">5% Input</text>
<text transform="translate(301.6,451.2) rotate(-90)" font-size="9.2" fill="#111" textLength="26.0" lengthAdjust="spacingAndGlyphs" stroke="#111" stroke-width="0.15">PI IgG</text>
<text transform="translate(318.2,469.2) rotate(-90)" font-size="9.2" fill="#111" textLength="44.0" lengthAdjust="spacingAndGlyphs" stroke="#111" stroke-width="0.15">α-ARID3A</text>
<g clip-path="url(#g1)">
<rect x="347.70" y="347.40" width="56.90" height="22.20" fill="#cfcfcf" />
<rect x="366" y="345" width="22" height="28" fill="#a6a6a6" filter="url(#gb1)"/>
<ellipse cx="374" cy="361" rx="8" ry="7" fill="#8e8e8e" filter="url(#gb2)"/>
<rect x="387" y="345" width="22" height="28" fill="#8a8a8a" filter="url(#gb1)"/>
<ellipse cx="398" cy="359" rx="8" ry="7" fill="#5e5e5e" filter="url(#gb2)"/>
</g>
<g clip-path="url(#g2)">
<rect x="347.70" y="371.30" width="56.90" height="22.50" fill="#d0d0d0" />
<rect x="369" y="369" width="18" height="28" fill="#b4b4b4" filter="url(#gb1)"/>
<ellipse cx="376" cy="386" rx="7" ry="7" fill="#a0a0a0" filter="url(#gb2)"/>
<rect x="387" y="369" width="22" height="28" fill="#a2a2a2" filter="url(#gb1)"/>
<ellipse cx="397" cy="385" rx="8" ry="7" fill="#858585" filter="url(#gb2)"/>
</g>
<g clip-path="url(#g3)">
<rect x="347.70" y="396.30" width="56.90" height="21.50" fill="#c4c4c4" />
<rect x="369" y="394" width="19" height="26" fill="#b6b6b6" filter="url(#gb1)"/>
<rect x="388" y="394" width="20" height="26" fill="#8c8c8c" filter="url(#gb1)"/>
<ellipse cx="396" cy="409" rx="7" ry="6" fill="#6a6a6a" filter="url(#gb2)"/>
<rect x="370" y="414.5" width="36" height="4" fill="#707070" filter="url(#gb1)"/>
<rect x="349.5" y="406.6" width="17.3" height="6.4" rx="1.5" fill="#0e0e0e" filter="url(#gb1)"/>
</g>
<text x="416.2" y="354.4" font-size="9.6" fill="#111" textLength="48.4" lengthAdjust="spacingAndGlyphs" stroke="#111" stroke-width="0.08">IB: pSTAT1</text>
<text x="407.4" y="365.6" font-size="9.6" fill="#111" textLength="67.6" lengthAdjust="spacingAndGlyphs" stroke="#111" stroke-width="0.08">(high exposure)</text>
<text x="415.0" y="381.6" font-size="9.6" fill="#111" textLength="48.5" lengthAdjust="spacingAndGlyphs" stroke="#111" stroke-width="0.08">IB: pSTAT1</text>
<text x="407.4" y="391.5" font-size="9.6" fill="#111" textLength="63.0" lengthAdjust="spacingAndGlyphs" stroke="#111" stroke-width="0.08">(low exposure)</text>
<text x="416.6" y="408.8" font-size="9.6" fill="#111" textLength="43.9" lengthAdjust="spacingAndGlyphs" stroke="#111" stroke-width="0.08">IB: STAT1</text>
<text transform="translate(363.9,460.4) rotate(-90)" font-size="9.2" fill="#111" textLength="38.2" lengthAdjust="spacingAndGlyphs" stroke="#111" stroke-width="0.15">5% input</text>
<text transform="translate(382.2,449.4) rotate(-90)" font-size="9.2" fill="#111" textLength="27.2" lengthAdjust="spacingAndGlyphs" stroke="#111" stroke-width="0.15">PI IgG</text>
<text transform="translate(399.0,466.8) rotate(-90)" font-size="9.2" fill="#111" textLength="44.6" lengthAdjust="spacingAndGlyphs" stroke="#111" stroke-width="0.15">α-ARID3A</text>
<line x1="356.80" y1="469.00" x2="398.50" y2="469.00" stroke="#111" stroke-width="1" />
<text x="361.6" y="480.7" font-size="9.2" fill="#111" textLength="25.8" lengthAdjust="spacingAndGlyphs" stroke="#111" stroke-width="0.15">IFN-α</text>
</svg></div></body></html>
